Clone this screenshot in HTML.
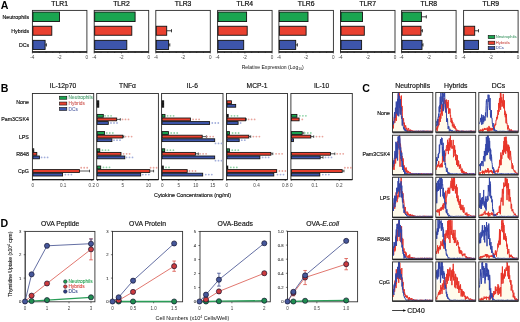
<!DOCTYPE html>
<html><head><meta charset="utf-8"><style>
html,body{margin:0;padding:0;background:#fff;}
body{width:520px;height:322px;overflow:hidden;}
svg{display:block;font-family:"Liberation Sans", sans-serif;will-change:transform;filter:blur(0.45px);}
</style></head><body>
<svg width="520" height="322" viewBox="0 0 520 322">
<rect width="520" height="322" fill="#fff"/>
<text x="0.80" y="8.80" font-size="10.6" text-anchor="start" fill="#000" font-weight="bold" >A</text>
<text x="0.80" y="91.60" font-size="10.6" text-anchor="start" fill="#000" font-weight="bold" >B</text>
<text x="362.30" y="91.70" font-size="10.6" text-anchor="start" fill="#000" font-weight="bold" >C</text>
<text x="0.50" y="227.00" font-size="10.6" text-anchor="start" fill="#000" font-weight="bold" >D</text>
<rect x="32.40" y="10.40" width="54.50" height="41.50" fill="#fff" stroke="#2a2a2a" stroke-width="0.9"/>
<rect x="32.90" y="12.05" width="26.60" height="9.50" fill="#1aa550" stroke="#111" stroke-width="0.9"/>
<rect x="32.90" y="26.25" width="18.90" height="9.00" fill="#ea4130" stroke="#111" stroke-width="0.9"/>
<line x1="45.10" y1="44.90" x2="46.40" y2="44.90" stroke="#111" stroke-width="0.8"/>
<line x1="46.40" y1="43.30" x2="46.40" y2="46.50" stroke="#111" stroke-width="0.8"/>
<rect x="32.90" y="40.35" width="12.20" height="9.10" fill="#3d55ab" stroke="#111" stroke-width="0.9"/>
<line x1="32.40" y1="51.90" x2="86.90" y2="51.90" stroke="#1a1a1a" stroke-width="1.5"/>
<line x1="32.40" y1="51.90" x2="32.40" y2="53.50" stroke="#1a1a1a" stroke-width="0.6"/>
<line x1="39.21" y1="51.90" x2="39.21" y2="52.90" stroke="#1a1a1a" stroke-width="0.6"/>
<line x1="46.02" y1="51.90" x2="46.02" y2="52.90" stroke="#1a1a1a" stroke-width="0.6"/>
<line x1="52.84" y1="51.90" x2="52.84" y2="52.90" stroke="#1a1a1a" stroke-width="0.6"/>
<line x1="59.65" y1="51.90" x2="59.65" y2="53.50" stroke="#1a1a1a" stroke-width="0.6"/>
<line x1="66.46" y1="51.90" x2="66.46" y2="52.90" stroke="#1a1a1a" stroke-width="0.6"/>
<line x1="73.28" y1="51.90" x2="73.28" y2="52.90" stroke="#1a1a1a" stroke-width="0.6"/>
<line x1="80.09" y1="51.90" x2="80.09" y2="52.90" stroke="#1a1a1a" stroke-width="0.6"/>
<line x1="86.90" y1="51.90" x2="86.90" y2="53.50" stroke="#1a1a1a" stroke-width="0.6"/>
<text x="59.65" y="6.30" font-size="6.8" text-anchor="middle" fill="#111" font-weight="normal" stroke="#111" stroke-width="0.22" >TLR1</text>
<text x="32.40" y="59.00" font-size="4.6" text-anchor="middle" fill="#444" font-weight="normal" >-4</text>
<text x="59.65" y="59.00" font-size="4.6" text-anchor="middle" fill="#444" font-weight="normal" >-2</text>
<text x="86.90" y="59.00" font-size="4.6" text-anchor="middle" fill="#444" font-weight="normal" >0</text>
<rect x="94.20" y="10.40" width="54.50" height="41.50" fill="#fff" stroke="#2a2a2a" stroke-width="0.9"/>
<rect x="94.70" y="12.05" width="40.40" height="9.50" fill="#1aa550" stroke="#111" stroke-width="0.9"/>
<rect x="94.70" y="26.25" width="37.10" height="9.00" fill="#ea4130" stroke="#111" stroke-width="0.9"/>
<rect x="94.70" y="40.35" width="32.10" height="9.10" fill="#3d55ab" stroke="#111" stroke-width="0.9"/>
<line x1="94.20" y1="51.90" x2="148.70" y2="51.90" stroke="#1a1a1a" stroke-width="1.5"/>
<line x1="94.20" y1="51.90" x2="94.20" y2="53.50" stroke="#1a1a1a" stroke-width="0.6"/>
<line x1="101.01" y1="51.90" x2="101.01" y2="52.90" stroke="#1a1a1a" stroke-width="0.6"/>
<line x1="107.83" y1="51.90" x2="107.83" y2="52.90" stroke="#1a1a1a" stroke-width="0.6"/>
<line x1="114.64" y1="51.90" x2="114.64" y2="52.90" stroke="#1a1a1a" stroke-width="0.6"/>
<line x1="121.45" y1="51.90" x2="121.45" y2="53.50" stroke="#1a1a1a" stroke-width="0.6"/>
<line x1="128.26" y1="51.90" x2="128.26" y2="52.90" stroke="#1a1a1a" stroke-width="0.6"/>
<line x1="135.07" y1="51.90" x2="135.07" y2="52.90" stroke="#1a1a1a" stroke-width="0.6"/>
<line x1="141.89" y1="51.90" x2="141.89" y2="52.90" stroke="#1a1a1a" stroke-width="0.6"/>
<line x1="148.70" y1="51.90" x2="148.70" y2="53.50" stroke="#1a1a1a" stroke-width="0.6"/>
<text x="121.45" y="6.30" font-size="6.8" text-anchor="middle" fill="#111" font-weight="normal" stroke="#111" stroke-width="0.22" >TLR2</text>
<text x="94.20" y="59.00" font-size="4.6" text-anchor="middle" fill="#444" font-weight="normal" >-4</text>
<text x="121.45" y="59.00" font-size="4.6" text-anchor="middle" fill="#444" font-weight="normal" >-2</text>
<text x="148.70" y="59.00" font-size="4.6" text-anchor="middle" fill="#444" font-weight="normal" >0</text>
<rect x="155.80" y="10.40" width="54.50" height="41.50" fill="#fff" stroke="#2a2a2a" stroke-width="0.9"/>
<line x1="166.70" y1="30.75" x2="171.50" y2="30.75" stroke="#111" stroke-width="0.8"/>
<line x1="171.50" y1="29.15" x2="171.50" y2="32.35" stroke="#111" stroke-width="0.8"/>
<rect x="156.30" y="26.25" width="10.40" height="9.00" fill="#ea4130" stroke="#111" stroke-width="0.9"/>
<line x1="168.60" y1="44.90" x2="169.80" y2="44.90" stroke="#111" stroke-width="0.8"/>
<line x1="169.80" y1="43.30" x2="169.80" y2="46.50" stroke="#111" stroke-width="0.8"/>
<rect x="156.30" y="40.35" width="12.30" height="9.10" fill="#3d55ab" stroke="#111" stroke-width="0.9"/>
<line x1="155.80" y1="51.90" x2="210.30" y2="51.90" stroke="#1a1a1a" stroke-width="1.5"/>
<line x1="155.80" y1="51.90" x2="155.80" y2="53.50" stroke="#1a1a1a" stroke-width="0.6"/>
<line x1="162.61" y1="51.90" x2="162.61" y2="52.90" stroke="#1a1a1a" stroke-width="0.6"/>
<line x1="169.43" y1="51.90" x2="169.43" y2="52.90" stroke="#1a1a1a" stroke-width="0.6"/>
<line x1="176.24" y1="51.90" x2="176.24" y2="52.90" stroke="#1a1a1a" stroke-width="0.6"/>
<line x1="183.05" y1="51.90" x2="183.05" y2="53.50" stroke="#1a1a1a" stroke-width="0.6"/>
<line x1="189.86" y1="51.90" x2="189.86" y2="52.90" stroke="#1a1a1a" stroke-width="0.6"/>
<line x1="196.68" y1="51.90" x2="196.68" y2="52.90" stroke="#1a1a1a" stroke-width="0.6"/>
<line x1="203.49" y1="51.90" x2="203.49" y2="52.90" stroke="#1a1a1a" stroke-width="0.6"/>
<line x1="210.30" y1="51.90" x2="210.30" y2="53.50" stroke="#1a1a1a" stroke-width="0.6"/>
<text x="183.05" y="6.30" font-size="6.8" text-anchor="middle" fill="#111" font-weight="normal" stroke="#111" stroke-width="0.22" >TLR3</text>
<text x="155.80" y="59.00" font-size="4.6" text-anchor="middle" fill="#444" font-weight="normal" >-4</text>
<text x="183.05" y="59.00" font-size="4.6" text-anchor="middle" fill="#444" font-weight="normal" >-2</text>
<text x="210.30" y="59.00" font-size="4.6" text-anchor="middle" fill="#444" font-weight="normal" >0</text>
<rect x="217.60" y="10.40" width="54.50" height="41.50" fill="#fff" stroke="#2a2a2a" stroke-width="0.9"/>
<rect x="218.10" y="12.05" width="28.50" height="9.50" fill="#1aa550" stroke="#111" stroke-width="0.9"/>
<rect x="218.10" y="26.25" width="29.10" height="9.00" fill="#ea4130" stroke="#111" stroke-width="0.9"/>
<rect x="218.10" y="40.35" width="25.60" height="9.10" fill="#3d55ab" stroke="#111" stroke-width="0.9"/>
<line x1="217.60" y1="51.90" x2="272.10" y2="51.90" stroke="#1a1a1a" stroke-width="1.5"/>
<line x1="217.60" y1="51.90" x2="217.60" y2="53.50" stroke="#1a1a1a" stroke-width="0.6"/>
<line x1="224.41" y1="51.90" x2="224.41" y2="52.90" stroke="#1a1a1a" stroke-width="0.6"/>
<line x1="231.22" y1="51.90" x2="231.22" y2="52.90" stroke="#1a1a1a" stroke-width="0.6"/>
<line x1="238.04" y1="51.90" x2="238.04" y2="52.90" stroke="#1a1a1a" stroke-width="0.6"/>
<line x1="244.85" y1="51.90" x2="244.85" y2="53.50" stroke="#1a1a1a" stroke-width="0.6"/>
<line x1="251.66" y1="51.90" x2="251.66" y2="52.90" stroke="#1a1a1a" stroke-width="0.6"/>
<line x1="258.48" y1="51.90" x2="258.48" y2="52.90" stroke="#1a1a1a" stroke-width="0.6"/>
<line x1="265.29" y1="51.90" x2="265.29" y2="52.90" stroke="#1a1a1a" stroke-width="0.6"/>
<line x1="272.10" y1="51.90" x2="272.10" y2="53.50" stroke="#1a1a1a" stroke-width="0.6"/>
<text x="244.85" y="6.30" font-size="6.8" text-anchor="middle" fill="#111" font-weight="normal" stroke="#111" stroke-width="0.22" >TLR4</text>
<text x="217.60" y="59.00" font-size="4.6" text-anchor="middle" fill="#444" font-weight="normal" >-4</text>
<text x="244.85" y="59.00" font-size="4.6" text-anchor="middle" fill="#444" font-weight="normal" >-2</text>
<text x="272.10" y="59.00" font-size="4.6" text-anchor="middle" fill="#444" font-weight="normal" >0</text>
<rect x="278.90" y="10.40" width="54.50" height="41.50" fill="#fff" stroke="#2a2a2a" stroke-width="0.9"/>
<rect x="279.40" y="12.05" width="28.60" height="9.50" fill="#1aa550" stroke="#111" stroke-width="0.9"/>
<rect x="279.40" y="26.25" width="26.70" height="9.00" fill="#ea4130" stroke="#111" stroke-width="0.9"/>
<line x1="295.70" y1="44.90" x2="297.40" y2="44.90" stroke="#111" stroke-width="0.8"/>
<line x1="297.40" y1="43.30" x2="297.40" y2="46.50" stroke="#111" stroke-width="0.8"/>
<rect x="279.40" y="40.35" width="16.30" height="9.10" fill="#3d55ab" stroke="#111" stroke-width="0.9"/>
<line x1="278.90" y1="51.90" x2="333.40" y2="51.90" stroke="#1a1a1a" stroke-width="1.5"/>
<line x1="278.90" y1="51.90" x2="278.90" y2="53.50" stroke="#1a1a1a" stroke-width="0.6"/>
<line x1="285.71" y1="51.90" x2="285.71" y2="52.90" stroke="#1a1a1a" stroke-width="0.6"/>
<line x1="292.52" y1="51.90" x2="292.52" y2="52.90" stroke="#1a1a1a" stroke-width="0.6"/>
<line x1="299.34" y1="51.90" x2="299.34" y2="52.90" stroke="#1a1a1a" stroke-width="0.6"/>
<line x1="306.15" y1="51.90" x2="306.15" y2="53.50" stroke="#1a1a1a" stroke-width="0.6"/>
<line x1="312.96" y1="51.90" x2="312.96" y2="52.90" stroke="#1a1a1a" stroke-width="0.6"/>
<line x1="319.77" y1="51.90" x2="319.77" y2="52.90" stroke="#1a1a1a" stroke-width="0.6"/>
<line x1="326.59" y1="51.90" x2="326.59" y2="52.90" stroke="#1a1a1a" stroke-width="0.6"/>
<line x1="333.40" y1="51.90" x2="333.40" y2="53.50" stroke="#1a1a1a" stroke-width="0.6"/>
<text x="306.15" y="6.30" font-size="6.8" text-anchor="middle" fill="#111" font-weight="normal" stroke="#111" stroke-width="0.22" >TLR6</text>
<text x="278.90" y="59.00" font-size="4.6" text-anchor="middle" fill="#444" font-weight="normal" >-4</text>
<text x="306.15" y="59.00" font-size="4.6" text-anchor="middle" fill="#444" font-weight="normal" >-2</text>
<text x="333.40" y="59.00" font-size="4.6" text-anchor="middle" fill="#444" font-weight="normal" >0</text>
<rect x="340.50" y="10.40" width="54.50" height="41.50" fill="#fff" stroke="#2a2a2a" stroke-width="0.9"/>
<rect x="341.00" y="12.05" width="21.50" height="9.50" fill="#1aa550" stroke="#111" stroke-width="0.9"/>
<rect x="341.00" y="26.25" width="23.30" height="9.00" fill="#ea4130" stroke="#111" stroke-width="0.9"/>
<rect x="341.00" y="40.35" width="20.60" height="9.10" fill="#3d55ab" stroke="#111" stroke-width="0.9"/>
<line x1="340.50" y1="51.90" x2="395.00" y2="51.90" stroke="#1a1a1a" stroke-width="1.5"/>
<line x1="340.50" y1="51.90" x2="340.50" y2="53.50" stroke="#1a1a1a" stroke-width="0.6"/>
<line x1="347.31" y1="51.90" x2="347.31" y2="52.90" stroke="#1a1a1a" stroke-width="0.6"/>
<line x1="354.12" y1="51.90" x2="354.12" y2="52.90" stroke="#1a1a1a" stroke-width="0.6"/>
<line x1="360.94" y1="51.90" x2="360.94" y2="52.90" stroke="#1a1a1a" stroke-width="0.6"/>
<line x1="367.75" y1="51.90" x2="367.75" y2="53.50" stroke="#1a1a1a" stroke-width="0.6"/>
<line x1="374.56" y1="51.90" x2="374.56" y2="52.90" stroke="#1a1a1a" stroke-width="0.6"/>
<line x1="381.38" y1="51.90" x2="381.38" y2="52.90" stroke="#1a1a1a" stroke-width="0.6"/>
<line x1="388.19" y1="51.90" x2="388.19" y2="52.90" stroke="#1a1a1a" stroke-width="0.6"/>
<line x1="395.00" y1="51.90" x2="395.00" y2="53.50" stroke="#1a1a1a" stroke-width="0.6"/>
<text x="367.75" y="6.30" font-size="6.8" text-anchor="middle" fill="#111" font-weight="normal" stroke="#111" stroke-width="0.22" >TLR7</text>
<text x="340.50" y="59.00" font-size="4.6" text-anchor="middle" fill="#444" font-weight="normal" >-4</text>
<text x="367.75" y="59.00" font-size="4.6" text-anchor="middle" fill="#444" font-weight="normal" >-2</text>
<text x="395.00" y="59.00" font-size="4.6" text-anchor="middle" fill="#444" font-weight="normal" >0</text>
<rect x="401.60" y="10.40" width="54.50" height="41.50" fill="#fff" stroke="#2a2a2a" stroke-width="0.9"/>
<line x1="421.40" y1="16.80" x2="426.30" y2="16.80" stroke="#111" stroke-width="0.8"/>
<line x1="426.30" y1="15.20" x2="426.30" y2="18.40" stroke="#111" stroke-width="0.8"/>
<rect x="402.10" y="12.05" width="19.30" height="9.50" fill="#1aa550" stroke="#111" stroke-width="0.9"/>
<line x1="421.00" y1="30.75" x2="422.40" y2="30.75" stroke="#111" stroke-width="0.8"/>
<line x1="422.40" y1="29.15" x2="422.40" y2="32.35" stroke="#111" stroke-width="0.8"/>
<rect x="402.10" y="26.25" width="18.90" height="9.00" fill="#ea4130" stroke="#111" stroke-width="0.9"/>
<line x1="422.00" y1="44.90" x2="423.00" y2="44.90" stroke="#111" stroke-width="0.8"/>
<line x1="423.00" y1="43.30" x2="423.00" y2="46.50" stroke="#111" stroke-width="0.8"/>
<rect x="402.10" y="40.35" width="19.90" height="9.10" fill="#3d55ab" stroke="#111" stroke-width="0.9"/>
<line x1="401.60" y1="51.90" x2="456.10" y2="51.90" stroke="#1a1a1a" stroke-width="1.5"/>
<line x1="401.60" y1="51.90" x2="401.60" y2="53.50" stroke="#1a1a1a" stroke-width="0.6"/>
<line x1="408.41" y1="51.90" x2="408.41" y2="52.90" stroke="#1a1a1a" stroke-width="0.6"/>
<line x1="415.23" y1="51.90" x2="415.23" y2="52.90" stroke="#1a1a1a" stroke-width="0.6"/>
<line x1="422.04" y1="51.90" x2="422.04" y2="52.90" stroke="#1a1a1a" stroke-width="0.6"/>
<line x1="428.85" y1="51.90" x2="428.85" y2="53.50" stroke="#1a1a1a" stroke-width="0.6"/>
<line x1="435.66" y1="51.90" x2="435.66" y2="52.90" stroke="#1a1a1a" stroke-width="0.6"/>
<line x1="442.48" y1="51.90" x2="442.48" y2="52.90" stroke="#1a1a1a" stroke-width="0.6"/>
<line x1="449.29" y1="51.90" x2="449.29" y2="52.90" stroke="#1a1a1a" stroke-width="0.6"/>
<line x1="456.10" y1="51.90" x2="456.10" y2="53.50" stroke="#1a1a1a" stroke-width="0.6"/>
<text x="428.85" y="6.30" font-size="6.8" text-anchor="middle" fill="#111" font-weight="normal" stroke="#111" stroke-width="0.22" >TLR8</text>
<text x="401.60" y="59.00" font-size="4.6" text-anchor="middle" fill="#444" font-weight="normal" >-4</text>
<text x="428.85" y="59.00" font-size="4.6" text-anchor="middle" fill="#444" font-weight="normal" >-2</text>
<text x="456.10" y="59.00" font-size="4.6" text-anchor="middle" fill="#444" font-weight="normal" >0</text>
<rect x="463.60" y="10.40" width="54.50" height="41.50" fill="#fff" stroke="#2a2a2a" stroke-width="0.9"/>
<line x1="474.70" y1="30.75" x2="478.50" y2="30.75" stroke="#111" stroke-width="0.8"/>
<line x1="478.50" y1="29.15" x2="478.50" y2="32.35" stroke="#111" stroke-width="0.8"/>
<rect x="464.10" y="26.25" width="10.60" height="9.00" fill="#ea4130" stroke="#111" stroke-width="0.9"/>
<rect x="464.10" y="40.35" width="14.40" height="9.10" fill="#3d55ab" stroke="#111" stroke-width="0.9"/>
<line x1="463.60" y1="51.90" x2="518.10" y2="51.90" stroke="#1a1a1a" stroke-width="1.5"/>
<line x1="463.60" y1="51.90" x2="463.60" y2="53.50" stroke="#1a1a1a" stroke-width="0.6"/>
<line x1="470.41" y1="51.90" x2="470.41" y2="52.90" stroke="#1a1a1a" stroke-width="0.6"/>
<line x1="477.23" y1="51.90" x2="477.23" y2="52.90" stroke="#1a1a1a" stroke-width="0.6"/>
<line x1="484.04" y1="51.90" x2="484.04" y2="52.90" stroke="#1a1a1a" stroke-width="0.6"/>
<line x1="490.85" y1="51.90" x2="490.85" y2="53.50" stroke="#1a1a1a" stroke-width="0.6"/>
<line x1="497.66" y1="51.90" x2="497.66" y2="52.90" stroke="#1a1a1a" stroke-width="0.6"/>
<line x1="504.48" y1="51.90" x2="504.48" y2="52.90" stroke="#1a1a1a" stroke-width="0.6"/>
<line x1="511.29" y1="51.90" x2="511.29" y2="52.90" stroke="#1a1a1a" stroke-width="0.6"/>
<line x1="518.10" y1="51.90" x2="518.10" y2="53.50" stroke="#1a1a1a" stroke-width="0.6"/>
<text x="490.85" y="6.30" font-size="6.8" text-anchor="middle" fill="#111" font-weight="normal" stroke="#111" stroke-width="0.22" >TLR9</text>
<text x="463.60" y="59.00" font-size="4.6" text-anchor="middle" fill="#444" font-weight="normal" >-4</text>
<text x="490.85" y="59.00" font-size="4.6" text-anchor="middle" fill="#444" font-weight="normal" >-2</text>
<text x="518.10" y="59.00" font-size="4.6" text-anchor="middle" fill="#444" font-weight="normal" >0</text>
<text x="29.20" y="18.70" font-size="5.3" text-anchor="end" fill="#111" font-weight="normal" stroke="#111" stroke-width="0.16" >Neutrophils</text>
<text x="29.20" y="32.70" font-size="5.3" text-anchor="end" fill="#111" font-weight="normal" stroke="#111" stroke-width="0.16" >Hybrids</text>
<text x="29.20" y="46.70" font-size="5.3" text-anchor="end" fill="#111" font-weight="normal" stroke="#111" stroke-width="0.16" >DCs</text>
<rect x="488.20" y="35.40" width="6.60" height="3.20" fill="#1aa550" stroke="#111" stroke-width="0.6"/>
<text x="495.80" y="38.20" font-size="4.1" text-anchor="start" fill="#4fa072" font-weight="normal" stroke="#4fa072" stroke-width="0.08" >Neutrophils</text>
<rect x="488.20" y="41.20" width="6.60" height="3.20" fill="#ea4130" stroke="#111" stroke-width="0.6"/>
<text x="495.80" y="44.00" font-size="4.1" text-anchor="start" fill="#d05a55" font-weight="normal" stroke="#d05a55" stroke-width="0.08" >Hybrids</text>
<rect x="488.20" y="46.50" width="6.60" height="3.20" fill="#3d55ab" stroke="#111" stroke-width="0.6"/>
<text x="495.80" y="49.30" font-size="4.1" text-anchor="start" fill="#5a68a8" font-weight="normal" stroke="#5a68a8" stroke-width="0.08" >DCs</text>
<text x="272.7" y="68.9" font-size="5.1" text-anchor="middle" fill="#111">Relative Expression (Log<tspan font-size="3.4" dy="1.2">10</tspan><tspan dy="-1.2">)</tspan></text>
<rect x="32.40" y="93.50" width="61.30" height="86.10" fill="#fff" stroke="#2a2a2a" stroke-width="0.9"/>
<rect x="32.90" y="148.80" width="0.90" height="2.80" fill="#111" stroke="#111" stroke-width="0.85"/>
<rect x="32.90" y="152.40" width="3.90" height="2.80" fill="#ea4130" stroke="#111" stroke-width="0.85"/>
<rect x="32.90" y="156.00" width="6.50" height="2.80" fill="#3d55ab" stroke="#111" stroke-width="0.85"/>
<circle cx="41.60" cy="157.40" r="0.9" fill="#a3afdc"/>
<circle cx="44.60" cy="157.40" r="0.9" fill="#a3afdc"/>
<circle cx="47.60" cy="157.40" r="0.9" fill="#a3afdc"/>
<line x1="79.50" y1="171.00" x2="89.50" y2="171.00" stroke="#111" stroke-width="0.7"/>
<line x1="89.50" y1="169.70" x2="89.50" y2="172.30" stroke="#111" stroke-width="0.7"/>
<rect x="32.90" y="169.60" width="46.60" height="2.80" fill="#ea4130" stroke="#111" stroke-width="0.85"/>
<circle cx="81.20" cy="167.76" r="0.9" fill="#e9a49c"/>
<circle cx="84.20" cy="167.76" r="0.9" fill="#e9a49c"/>
<circle cx="87.20" cy="167.76" r="0.9" fill="#e9a49c"/>
<rect x="32.90" y="173.20" width="29.70" height="2.80" fill="#3d55ab" stroke="#111" stroke-width="0.85"/>
<circle cx="65.40" cy="174.60" r="0.9" fill="#a3afdc"/>
<circle cx="68.40" cy="174.60" r="0.9" fill="#a3afdc"/>
<circle cx="71.40" cy="174.60" r="0.9" fill="#a3afdc"/>
<line x1="32.40" y1="179.60" x2="93.70" y2="179.60" stroke="#1a1a1a" stroke-width="1.3"/>
<line x1="32.80" y1="179.60" x2="32.80" y2="181.00" stroke="#1a1a1a" stroke-width="0.6"/>
<text x="32.80" y="187.10" font-size="4.6" text-anchor="middle" fill="#444" font-weight="normal" >0</text>
<line x1="63.20" y1="179.60" x2="63.20" y2="181.00" stroke="#1a1a1a" stroke-width="0.6"/>
<text x="63.20" y="187.10" font-size="4.6" text-anchor="middle" fill="#444" font-weight="normal" >0.1</text>
<line x1="91.80" y1="179.60" x2="91.80" y2="181.00" stroke="#1a1a1a" stroke-width="0.6"/>
<text x="91.80" y="187.10" font-size="4.6" text-anchor="middle" fill="#444" font-weight="normal" >0.2</text>
<text x="63.05" y="88.30" font-size="6.7" text-anchor="middle" fill="#111" font-weight="normal" stroke="#111" stroke-width="0.16" >IL-12p70</text>
<rect x="96.70" y="93.50" width="61.70" height="86.10" fill="#fff" stroke="#2a2a2a" stroke-width="0.9"/>
<rect x="97.20" y="100.80" width="1.60" height="2.80" fill="#111" stroke="#111" stroke-width="0.85"/>
<rect x="97.20" y="104.40" width="1.60" height="2.80" fill="#111" stroke="#111" stroke-width="0.85"/>
<rect x="97.20" y="114.40" width="6.10" height="2.80" fill="#1aa550" stroke="#111" stroke-width="0.85"/>
<circle cx="105.10" cy="115.80" r="0.9" fill="#8fd3a6"/>
<circle cx="108.10" cy="115.80" r="0.9" fill="#8fd3a6"/>
<circle cx="111.10" cy="115.80" r="0.9" fill="#8fd3a6"/>
<line x1="116.70" y1="119.40" x2="120.30" y2="119.40" stroke="#111" stroke-width="0.7"/>
<line x1="120.30" y1="118.10" x2="120.30" y2="120.70" stroke="#111" stroke-width="0.7"/>
<rect x="97.20" y="118.00" width="19.50" height="2.80" fill="#ea4130" stroke="#111" stroke-width="0.85"/>
<circle cx="122.50" cy="119.40" r="0.9" fill="#e9a49c"/>
<circle cx="125.50" cy="119.40" r="0.9" fill="#e9a49c"/>
<circle cx="128.50" cy="119.40" r="0.9" fill="#e9a49c"/>
<rect x="97.20" y="121.60" width="11.10" height="2.80" fill="#3d55ab" stroke="#111" stroke-width="0.85"/>
<circle cx="111.00" cy="123.00" r="0.9" fill="#a3afdc"/>
<circle cx="114.00" cy="123.00" r="0.9" fill="#a3afdc"/>
<circle cx="117.00" cy="123.00" r="0.9" fill="#a3afdc"/>
<rect x="97.20" y="131.60" width="7.40" height="2.80" fill="#1aa550" stroke="#111" stroke-width="0.85"/>
<circle cx="106.80" cy="133.00" r="0.9" fill="#8fd3a6"/>
<circle cx="109.80" cy="133.00" r="0.9" fill="#8fd3a6"/>
<circle cx="112.80" cy="133.00" r="0.9" fill="#8fd3a6"/>
<line x1="122.80" y1="136.60" x2="123.80" y2="136.60" stroke="#111" stroke-width="0.7"/>
<line x1="123.80" y1="135.30" x2="123.80" y2="137.90" stroke="#111" stroke-width="0.7"/>
<rect x="97.20" y="135.20" width="25.60" height="2.80" fill="#ea4130" stroke="#111" stroke-width="0.85"/>
<circle cx="125.60" cy="136.60" r="0.9" fill="#e9a49c"/>
<circle cx="128.60" cy="136.60" r="0.9" fill="#e9a49c"/>
<circle cx="131.60" cy="136.60" r="0.9" fill="#e9a49c"/>
<rect x="97.20" y="138.80" width="14.70" height="2.80" fill="#3d55ab" stroke="#111" stroke-width="0.85"/>
<circle cx="114.00" cy="140.20" r="0.9" fill="#a3afdc"/>
<circle cx="117.00" cy="140.20" r="0.9" fill="#a3afdc"/>
<circle cx="120.00" cy="140.20" r="0.9" fill="#a3afdc"/>
<rect x="97.20" y="148.80" width="2.60" height="2.80" fill="#1aa550" stroke="#111" stroke-width="0.85"/>
<circle cx="102.50" cy="150.20" r="0.9" fill="#8fd3a6"/>
<circle cx="105.50" cy="150.20" r="0.9" fill="#8fd3a6"/>
<circle cx="108.50" cy="150.20" r="0.9" fill="#8fd3a6"/>
<rect x="97.20" y="152.40" width="23.80" height="2.80" fill="#ea4130" stroke="#111" stroke-width="0.85"/>
<circle cx="123.60" cy="153.80" r="0.9" fill="#e9a49c"/>
<circle cx="126.60" cy="153.80" r="0.9" fill="#e9a49c"/>
<circle cx="129.60" cy="153.80" r="0.9" fill="#e9a49c"/>
<rect x="97.20" y="156.00" width="27.60" height="2.80" fill="#3d55ab" stroke="#111" stroke-width="0.85"/>
<circle cx="126.50" cy="157.40" r="0.9" fill="#a3afdc"/>
<circle cx="129.50" cy="157.40" r="0.9" fill="#a3afdc"/>
<circle cx="132.50" cy="157.40" r="0.9" fill="#a3afdc"/>
<rect x="97.20" y="166.00" width="3.50" height="2.80" fill="#1aa550" stroke="#111" stroke-width="0.85"/>
<circle cx="103.50" cy="167.40" r="0.9" fill="#8fd3a6"/>
<circle cx="106.50" cy="167.40" r="0.9" fill="#8fd3a6"/>
<circle cx="109.50" cy="167.40" r="0.9" fill="#8fd3a6"/>
<line x1="149.80" y1="171.00" x2="153.60" y2="171.00" stroke="#111" stroke-width="0.7"/>
<line x1="153.60" y1="169.70" x2="153.60" y2="172.30" stroke="#111" stroke-width="0.7"/>
<rect x="97.20" y="169.60" width="52.60" height="2.80" fill="#ea4130" stroke="#111" stroke-width="0.85"/>
<circle cx="150.60" cy="167.76" r="0.9" fill="#e9a49c"/>
<circle cx="153.60" cy="167.76" r="0.9" fill="#e9a49c"/>
<circle cx="156.60" cy="167.76" r="0.9" fill="#e9a49c"/>
<rect x="97.20" y="173.20" width="43.50" height="2.80" fill="#3d55ab" stroke="#111" stroke-width="0.85"/>
<circle cx="142.80" cy="174.60" r="0.9" fill="#a3afdc"/>
<circle cx="145.80" cy="174.60" r="0.9" fill="#a3afdc"/>
<circle cx="148.80" cy="174.60" r="0.9" fill="#a3afdc"/>
<line x1="96.70" y1="179.60" x2="158.40" y2="179.60" stroke="#1a1a1a" stroke-width="1.3"/>
<line x1="97.50" y1="179.60" x2="97.50" y2="181.00" stroke="#1a1a1a" stroke-width="0.6"/>
<text x="97.50" y="187.10" font-size="4.6" text-anchor="middle" fill="#444" font-weight="normal" >0</text>
<line x1="122.80" y1="179.60" x2="122.80" y2="181.00" stroke="#1a1a1a" stroke-width="0.6"/>
<text x="122.80" y="187.10" font-size="4.6" text-anchor="middle" fill="#444" font-weight="normal" >5</text>
<line x1="148.40" y1="179.60" x2="148.40" y2="181.00" stroke="#1a1a1a" stroke-width="0.6"/>
<text x="148.40" y="187.10" font-size="4.6" text-anchor="middle" fill="#444" font-weight="normal" >10</text>
<text x="127.55" y="88.30" font-size="6.7" text-anchor="middle" fill="#111" font-weight="normal" stroke="#111" stroke-width="0.16" >TNF&#945;</text>
<rect x="161.60" y="93.50" width="61.40" height="86.10" fill="#fff" stroke="#2a2a2a" stroke-width="0.9"/>
<rect x="162.10" y="100.80" width="1.60" height="2.80" fill="#111" stroke="#111" stroke-width="0.85"/>
<rect x="162.10" y="104.40" width="1.60" height="2.80" fill="#111" stroke="#111" stroke-width="0.85"/>
<rect x="162.10" y="114.40" width="2.90" height="2.80" fill="#1aa550" stroke="#111" stroke-width="0.85"/>
<circle cx="167.60" cy="115.80" r="0.9" fill="#8fd3a6"/>
<circle cx="170.60" cy="115.80" r="0.9" fill="#8fd3a6"/>
<circle cx="173.60" cy="115.80" r="0.9" fill="#8fd3a6"/>
<rect x="162.10" y="118.00" width="28.30" height="2.80" fill="#ea4130" stroke="#111" stroke-width="0.85"/>
<circle cx="193.10" cy="119.40" r="0.9" fill="#e9a49c"/>
<circle cx="196.10" cy="119.40" r="0.9" fill="#e9a49c"/>
<circle cx="199.10" cy="119.40" r="0.9" fill="#e9a49c"/>
<rect x="162.10" y="121.60" width="47.50" height="2.80" fill="#3d55ab" stroke="#111" stroke-width="0.85"/>
<circle cx="212.30" cy="123.00" r="0.9" fill="#a3afdc"/>
<circle cx="215.30" cy="123.00" r="0.9" fill="#a3afdc"/>
<circle cx="218.30" cy="123.00" r="0.9" fill="#a3afdc"/>
<rect x="162.10" y="131.60" width="6.40" height="2.80" fill="#1aa550" stroke="#111" stroke-width="0.85"/>
<circle cx="171.20" cy="133.00" r="0.9" fill="#8fd3a6"/>
<circle cx="174.20" cy="133.00" r="0.9" fill="#8fd3a6"/>
<circle cx="177.20" cy="133.00" r="0.9" fill="#8fd3a6"/>
<line x1="202.20" y1="136.60" x2="206.40" y2="136.60" stroke="#111" stroke-width="0.7"/>
<line x1="206.40" y1="135.30" x2="206.40" y2="137.90" stroke="#111" stroke-width="0.7"/>
<rect x="162.10" y="135.20" width="40.10" height="2.80" fill="#ea4130" stroke="#111" stroke-width="0.85"/>
<circle cx="207.20" cy="136.60" r="0.9" fill="#e9a49c"/>
<circle cx="210.20" cy="136.60" r="0.9" fill="#e9a49c"/>
<circle cx="213.20" cy="136.60" r="0.9" fill="#e9a49c"/>
<rect x="162.10" y="138.80" width="52.60" height="2.80" fill="#3d55ab" stroke="#111" stroke-width="0.85"/>
<circle cx="215.50" cy="143.44" r="0.9" fill="#a3afdc"/>
<circle cx="218.50" cy="143.44" r="0.9" fill="#a3afdc"/>
<circle cx="221.50" cy="143.44" r="0.9" fill="#a3afdc"/>
<rect x="162.10" y="148.80" width="2.60" height="2.80" fill="#1aa550" stroke="#111" stroke-width="0.85"/>
<circle cx="167.40" cy="150.20" r="0.9" fill="#8fd3a6"/>
<circle cx="170.40" cy="150.20" r="0.9" fill="#8fd3a6"/>
<circle cx="173.40" cy="150.20" r="0.9" fill="#8fd3a6"/>
<line x1="195.40" y1="153.80" x2="198.30" y2="153.80" stroke="#111" stroke-width="0.7"/>
<line x1="198.30" y1="152.50" x2="198.30" y2="155.10" stroke="#111" stroke-width="0.7"/>
<rect x="162.10" y="152.40" width="33.30" height="2.80" fill="#ea4130" stroke="#111" stroke-width="0.85"/>
<circle cx="200.10" cy="153.80" r="0.9" fill="#e9a49c"/>
<circle cx="203.10" cy="153.80" r="0.9" fill="#e9a49c"/>
<circle cx="206.10" cy="153.80" r="0.9" fill="#e9a49c"/>
<rect x="162.10" y="156.00" width="52.60" height="2.80" fill="#3d55ab" stroke="#111" stroke-width="0.85"/>
<circle cx="215.50" cy="160.64" r="0.9" fill="#a3afdc"/>
<circle cx="218.50" cy="160.64" r="0.9" fill="#a3afdc"/>
<circle cx="221.50" cy="160.64" r="0.9" fill="#a3afdc"/>
<rect x="162.10" y="166.00" width="1.20" height="2.80" fill="#111" stroke="#111" stroke-width="0.85"/>
<circle cx="166.00" cy="167.40" r="0.9" fill="#8fd3a6"/>
<circle cx="169.00" cy="167.40" r="0.9" fill="#8fd3a6"/>
<rect x="162.10" y="169.60" width="25.10" height="2.80" fill="#ea4130" stroke="#111" stroke-width="0.85"/>
<circle cx="189.50" cy="171.00" r="0.9" fill="#e9a49c"/>
<circle cx="192.50" cy="171.00" r="0.9" fill="#e9a49c"/>
<circle cx="195.50" cy="171.00" r="0.9" fill="#e9a49c"/>
<rect x="162.10" y="173.20" width="40.60" height="2.80" fill="#3d55ab" stroke="#111" stroke-width="0.85"/>
<circle cx="205.80" cy="174.60" r="0.9" fill="#a3afdc"/>
<circle cx="208.80" cy="174.60" r="0.9" fill="#a3afdc"/>
<circle cx="211.80" cy="174.60" r="0.9" fill="#a3afdc"/>
<line x1="161.60" y1="179.60" x2="223.00" y2="179.60" stroke="#1a1a1a" stroke-width="1.3"/>
<line x1="162.30" y1="179.60" x2="162.30" y2="181.00" stroke="#1a1a1a" stroke-width="0.6"/>
<text x="162.30" y="187.10" font-size="4.6" text-anchor="middle" fill="#444" font-weight="normal" >0</text>
<line x1="178.70" y1="179.60" x2="178.70" y2="181.00" stroke="#1a1a1a" stroke-width="0.6"/>
<text x="178.70" y="187.10" font-size="4.6" text-anchor="middle" fill="#444" font-weight="normal" >5</text>
<line x1="195.80" y1="179.60" x2="195.80" y2="181.00" stroke="#1a1a1a" stroke-width="0.6"/>
<text x="195.80" y="187.10" font-size="4.6" text-anchor="middle" fill="#444" font-weight="normal" >10</text>
<line x1="212.70" y1="179.60" x2="212.70" y2="181.00" stroke="#1a1a1a" stroke-width="0.6"/>
<text x="212.70" y="187.10" font-size="4.6" text-anchor="middle" fill="#444" font-weight="normal" >15</text>
<text x="192.30" y="88.30" font-size="6.7" text-anchor="middle" fill="#111" font-weight="normal" stroke="#111" stroke-width="0.16" >IL-6</text>
<rect x="226.50" y="93.50" width="61.00" height="86.10" fill="#fff" stroke="#2a2a2a" stroke-width="0.9"/>
<rect x="227.00" y="100.80" width="4.40" height="2.80" fill="#ea4130" stroke="#111" stroke-width="0.85"/>
<rect x="227.00" y="104.40" width="8.70" height="2.80" fill="#3d55ab" stroke="#111" stroke-width="0.85"/>
<rect x="227.00" y="114.40" width="1.20" height="2.80" fill="#111" stroke="#111" stroke-width="0.85"/>
<circle cx="231.50" cy="115.80" r="0.9" fill="#8fd3a6"/>
<circle cx="234.50" cy="115.80" r="0.9" fill="#8fd3a6"/>
<circle cx="237.50" cy="115.80" r="0.9" fill="#8fd3a6"/>
<line x1="245.60" y1="119.40" x2="246.30" y2="119.40" stroke="#111" stroke-width="0.7"/>
<line x1="246.30" y1="118.10" x2="246.30" y2="120.70" stroke="#111" stroke-width="0.7"/>
<rect x="227.00" y="118.00" width="18.60" height="2.80" fill="#ea4130" stroke="#111" stroke-width="0.85"/>
<circle cx="248.60" cy="119.40" r="0.9" fill="#e9a49c"/>
<circle cx="251.60" cy="119.40" r="0.9" fill="#e9a49c"/>
<circle cx="254.60" cy="119.40" r="0.9" fill="#e9a49c"/>
<rect x="227.00" y="121.60" width="11.10" height="2.80" fill="#3d55ab" stroke="#111" stroke-width="0.85"/>
<circle cx="240.60" cy="123.00" r="0.9" fill="#a3afdc"/>
<rect x="227.00" y="131.60" width="2.50" height="2.80" fill="#1aa550" stroke="#111" stroke-width="0.85"/>
<circle cx="232.60" cy="133.00" r="0.9" fill="#8fd3a6"/>
<circle cx="235.60" cy="133.00" r="0.9" fill="#8fd3a6"/>
<circle cx="238.60" cy="133.00" r="0.9" fill="#8fd3a6"/>
<line x1="248.80" y1="136.60" x2="250.70" y2="136.60" stroke="#111" stroke-width="0.7"/>
<line x1="250.70" y1="135.30" x2="250.70" y2="137.90" stroke="#111" stroke-width="0.7"/>
<rect x="227.00" y="135.20" width="21.80" height="2.80" fill="#ea4130" stroke="#111" stroke-width="0.85"/>
<circle cx="253.40" cy="136.60" r="0.9" fill="#e9a49c"/>
<circle cx="256.40" cy="136.60" r="0.9" fill="#e9a49c"/>
<circle cx="259.40" cy="136.60" r="0.9" fill="#e9a49c"/>
<rect x="227.00" y="138.80" width="12.20" height="2.80" fill="#3d55ab" stroke="#111" stroke-width="0.85"/>
<circle cx="241.80" cy="140.20" r="0.9" fill="#a3afdc"/>
<circle cx="244.80" cy="140.20" r="0.9" fill="#a3afdc"/>
<rect x="227.00" y="148.80" width="2.50" height="2.80" fill="#1aa550" stroke="#111" stroke-width="0.85"/>
<circle cx="232.30" cy="150.20" r="0.9" fill="#8fd3a6"/>
<circle cx="235.30" cy="150.20" r="0.9" fill="#8fd3a6"/>
<circle cx="238.30" cy="150.20" r="0.9" fill="#8fd3a6"/>
<line x1="270.90" y1="153.80" x2="272.80" y2="153.80" stroke="#111" stroke-width="0.7"/>
<line x1="272.80" y1="152.50" x2="272.80" y2="155.10" stroke="#111" stroke-width="0.7"/>
<rect x="227.00" y="152.40" width="43.90" height="2.80" fill="#ea4130" stroke="#111" stroke-width="0.85"/>
<circle cx="276.10" cy="153.80" r="0.9" fill="#e9a49c"/>
<circle cx="279.10" cy="153.80" r="0.9" fill="#e9a49c"/>
<circle cx="282.10" cy="153.80" r="0.9" fill="#e9a49c"/>
<rect x="227.00" y="156.00" width="32.90" height="2.80" fill="#3d55ab" stroke="#111" stroke-width="0.85"/>
<circle cx="262.60" cy="157.40" r="0.9" fill="#a3afdc"/>
<circle cx="265.60" cy="157.40" r="0.9" fill="#a3afdc"/>
<circle cx="268.60" cy="157.40" r="0.9" fill="#a3afdc"/>
<rect x="227.00" y="166.00" width="0.80" height="2.80" fill="#111" stroke="#111" stroke-width="0.85"/>
<circle cx="230.80" cy="167.40" r="0.9" fill="#8fd3a6"/>
<circle cx="233.80" cy="167.40" r="0.9" fill="#8fd3a6"/>
<circle cx="236.80" cy="167.40" r="0.9" fill="#8fd3a6"/>
<rect x="227.00" y="169.60" width="49.70" height="2.80" fill="#ea4130" stroke="#111" stroke-width="0.85"/>
<circle cx="279.40" cy="171.00" r="0.9" fill="#e9a49c"/>
<circle cx="282.40" cy="171.00" r="0.9" fill="#e9a49c"/>
<circle cx="285.40" cy="171.00" r="0.9" fill="#e9a49c"/>
<rect x="227.00" y="173.20" width="46.80" height="2.80" fill="#3d55ab" stroke="#111" stroke-width="0.85"/>
<circle cx="277.50" cy="174.60" r="0.9" fill="#a3afdc"/>
<circle cx="280.50" cy="174.60" r="0.9" fill="#a3afdc"/>
<circle cx="283.50" cy="174.60" r="0.9" fill="#a3afdc"/>
<line x1="226.50" y1="179.60" x2="287.50" y2="179.60" stroke="#1a1a1a" stroke-width="1.3"/>
<line x1="226.70" y1="179.60" x2="226.70" y2="181.00" stroke="#1a1a1a" stroke-width="0.6"/>
<text x="226.70" y="187.10" font-size="4.6" text-anchor="middle" fill="#444" font-weight="normal" >0</text>
<line x1="256.50" y1="179.60" x2="256.50" y2="181.00" stroke="#1a1a1a" stroke-width="0.6"/>
<text x="256.50" y="187.10" font-size="4.6" text-anchor="middle" fill="#444" font-weight="normal" >0.4</text>
<line x1="285.30" y1="179.60" x2="285.30" y2="181.00" stroke="#1a1a1a" stroke-width="0.6"/>
<text x="285.30" y="187.10" font-size="4.6" text-anchor="middle" fill="#444" font-weight="normal" >0.8</text>
<text x="257.00" y="88.30" font-size="6.7" text-anchor="middle" fill="#111" font-weight="normal" stroke="#111" stroke-width="0.16" >MCP-1</text>
<rect x="290.90" y="93.50" width="61.40" height="86.10" fill="#fff" stroke="#2a2a2a" stroke-width="0.9"/>
<rect x="291.40" y="114.40" width="5.50" height="2.80" fill="#1aa550" stroke="#111" stroke-width="0.85"/>
<circle cx="299.90" cy="115.80" r="0.9" fill="#8fd3a6"/>
<circle cx="302.90" cy="115.80" r="0.9" fill="#8fd3a6"/>
<circle cx="305.90" cy="115.80" r="0.9" fill="#8fd3a6"/>
<rect x="291.40" y="118.00" width="7.70" height="2.80" fill="#ea4130" stroke="#111" stroke-width="0.85"/>
<circle cx="302.30" cy="119.40" r="0.9" fill="#e9a49c"/>
<line x1="302.20" y1="133.00" x2="304.00" y2="133.00" stroke="#111" stroke-width="0.7"/>
<line x1="304.00" y1="131.70" x2="304.00" y2="134.30" stroke="#111" stroke-width="0.7"/>
<rect x="291.40" y="131.60" width="10.80" height="2.80" fill="#1aa550" stroke="#111" stroke-width="0.85"/>
<circle cx="304.80" cy="133.00" r="0.9" fill="#8fd3a6"/>
<circle cx="307.80" cy="133.00" r="0.9" fill="#8fd3a6"/>
<circle cx="310.80" cy="133.00" r="0.9" fill="#8fd3a6"/>
<line x1="310.80" y1="136.60" x2="313.70" y2="136.60" stroke="#111" stroke-width="0.7"/>
<line x1="313.70" y1="135.30" x2="313.70" y2="137.90" stroke="#111" stroke-width="0.7"/>
<rect x="291.40" y="135.20" width="19.40" height="2.80" fill="#ea4130" stroke="#111" stroke-width="0.85"/>
<circle cx="316.50" cy="136.60" r="0.9" fill="#e9a49c"/>
<circle cx="319.50" cy="136.60" r="0.9" fill="#e9a49c"/>
<circle cx="322.50" cy="136.60" r="0.9" fill="#e9a49c"/>
<rect x="291.40" y="138.80" width="2.10" height="2.80" fill="#3d55ab" stroke="#111" stroke-width="0.85"/>
<line x1="330.50" y1="153.80" x2="334.80" y2="153.80" stroke="#111" stroke-width="0.7"/>
<line x1="334.80" y1="152.50" x2="334.80" y2="155.10" stroke="#111" stroke-width="0.7"/>
<rect x="291.40" y="152.40" width="39.10" height="2.80" fill="#ea4130" stroke="#111" stroke-width="0.85"/>
<circle cx="337.20" cy="153.80" r="0.9" fill="#e9a49c"/>
<circle cx="340.20" cy="153.80" r="0.9" fill="#e9a49c"/>
<circle cx="343.20" cy="153.80" r="0.9" fill="#e9a49c"/>
<line x1="320.20" y1="157.40" x2="323.00" y2="157.40" stroke="#111" stroke-width="0.7"/>
<line x1="323.00" y1="156.10" x2="323.00" y2="158.70" stroke="#111" stroke-width="0.7"/>
<rect x="291.40" y="156.00" width="28.80" height="2.80" fill="#3d55ab" stroke="#111" stroke-width="0.85"/>
<circle cx="325.50" cy="157.40" r="0.9" fill="#a3afdc"/>
<circle cx="328.50" cy="157.40" r="0.9" fill="#a3afdc"/>
<circle cx="331.50" cy="157.40" r="0.9" fill="#a3afdc"/>
<line x1="342.20" y1="171.00" x2="344.00" y2="171.00" stroke="#111" stroke-width="0.7"/>
<line x1="344.00" y1="169.70" x2="344.00" y2="172.30" stroke="#111" stroke-width="0.7"/>
<rect x="291.40" y="169.60" width="50.80" height="2.80" fill="#ea4130" stroke="#111" stroke-width="0.85"/>
<circle cx="344.90" cy="167.76" r="0.9" fill="#e9a49c"/>
<circle cx="347.90" cy="167.76" r="0.9" fill="#e9a49c"/>
<circle cx="350.90" cy="167.76" r="0.9" fill="#e9a49c"/>
<rect x="291.40" y="173.20" width="28.40" height="2.80" fill="#3d55ab" stroke="#111" stroke-width="0.85"/>
<circle cx="322.80" cy="174.60" r="0.9" fill="#a3afdc"/>
<circle cx="325.80" cy="174.60" r="0.9" fill="#a3afdc"/>
<circle cx="328.80" cy="174.60" r="0.9" fill="#a3afdc"/>
<line x1="290.90" y1="179.60" x2="352.30" y2="179.60" stroke="#1a1a1a" stroke-width="1.3"/>
<line x1="291.20" y1="179.60" x2="291.20" y2="181.00" stroke="#1a1a1a" stroke-width="0.6"/>
<text x="291.20" y="187.10" font-size="4.6" text-anchor="middle" fill="#444" font-weight="normal" >0</text>
<line x1="314.70" y1="179.60" x2="314.70" y2="181.00" stroke="#1a1a1a" stroke-width="0.6"/>
<text x="314.70" y="187.10" font-size="4.6" text-anchor="middle" fill="#444" font-weight="normal" >0.1</text>
<line x1="339.30" y1="179.60" x2="339.30" y2="181.00" stroke="#1a1a1a" stroke-width="0.6"/>
<text x="339.30" y="187.10" font-size="4.6" text-anchor="middle" fill="#444" font-weight="normal" >0.2</text>
<text x="321.60" y="88.30" font-size="6.7" text-anchor="middle" fill="#111" font-weight="normal" stroke="#111" stroke-width="0.16" >IL-10</text>
<text x="28.90" y="104.10" font-size="5.3" text-anchor="end" fill="#111" font-weight="normal" stroke="#111" stroke-width="0.16" >None</text>
<text x="28.90" y="121.30" font-size="5.3" text-anchor="end" fill="#111" font-weight="normal" stroke="#111" stroke-width="0.16" >Pam3CSK4</text>
<text x="28.90" y="138.50" font-size="5.3" text-anchor="end" fill="#111" font-weight="normal" stroke="#111" stroke-width="0.16" >LPS</text>
<text x="28.90" y="155.70" font-size="5.3" text-anchor="end" fill="#111" font-weight="normal" stroke="#111" stroke-width="0.16" >R848</text>
<text x="28.90" y="172.90" font-size="5.3" text-anchor="end" fill="#111" font-weight="normal" stroke="#111" stroke-width="0.16" >CpG</text>
<rect x="59.50" y="96.25" width="7.30" height="3.00" fill="#1aa550" stroke="#111" stroke-width="0.6"/>
<text x="68.60" y="99.30" font-size="4.8" text-anchor="start" fill="#4fa072" font-weight="normal" stroke="#4fa072" stroke-width="0.08" >Neutrophils</text>
<rect x="59.50" y="102.05" width="7.30" height="3.00" fill="#ea4130" stroke="#111" stroke-width="0.6"/>
<text x="68.60" y="105.10" font-size="4.8" text-anchor="start" fill="#d05a55" font-weight="normal" stroke="#d05a55" stroke-width="0.08" >Hybrids</text>
<rect x="59.50" y="107.45" width="7.30" height="3.00" fill="#3d55ab" stroke="#111" stroke-width="0.6"/>
<text x="68.60" y="110.50" font-size="4.8" text-anchor="start" fill="#5a68a8" font-weight="normal" stroke="#5a68a8" stroke-width="0.08" >DCs</text>
<text x="192.50" y="196.80" font-size="5.4" text-anchor="middle" fill="#111" font-weight="normal" stroke="#111" stroke-width="0.16" >Cytokine Concentrations (ng/ml)</text>
<rect x="392.50" y="92.50" width="40.30" height="39.70" fill="#fff"/>
<polygon points="393.00,131.40 393.00,126.40 393.22,125.83 393.44,125.21 393.66,124.55 393.88,123.85 394.10,123.12 394.32,122.35 394.54,121.55 394.76,120.72 394.98,119.87 395.20,119.00 395.42,118.12 395.64,117.24 395.86,116.36 396.08,115.49 396.30,114.64 396.52,113.81 396.74,113.02 396.96,112.28 397.18,111.58 397.40,110.94 397.62,110.37 397.84,109.86 398.06,109.44 398.28,109.10 398.50,108.85 398.72,108.68 398.94,108.61 399.16,108.66 399.38,108.92 399.60,109.37 399.82,110.02 400.04,110.40 400.26,110.92 400.48,111.58 400.70,112.35 400.92,113.22 401.14,114.18 401.36,115.20 401.58,116.26 401.80,117.35 402.02,118.44 402.24,119.51 402.46,120.56 402.68,121.57 402.90,122.52 403.12,123.40 403.34,124.22 403.56,124.97 403.78,125.64 404.00,126.23 404.22,126.76 404.44,127.21 404.66,127.61 404.88,127.95 405.10,128.25 405.32,128.50 405.54,128.73 405.76,128.92 405.98,129.10 406.20,129.26 406.42,129.39 406.64,129.51 406.86,129.62 407.08,129.72 407.30,129.80 407.52,129.89 407.74,129.96 407.96,130.04 408.18,130.11 408.40,130.18 408.62,130.25 408.84,130.32 409.06,130.39 409.28,130.45 409.50,130.52 409.72,130.58 409.94,130.65 410.16,130.71 410.38,130.77 410.60,130.82 410.82,130.88 411.04,130.93 411.26,130.97 411.48,131.02 411.70,131.06 411.92,131.10 412.14,131.13 412.36,131.16 412.58,131.19 412.80,131.22 413.02,131.24 413.24,131.27 413.46,131.28 413.68,131.30 413.90,131.32 414.12,131.33 414.34,131.34 414.56,131.35 414.78,131.36 415.00,131.36 415.22,131.37 415.44,131.38 415.66,131.38 415.88,131.38 416.10,131.39 416.32,131.39 416.54,131.39 416.76,131.39 416.98,131.39 417.20,131.40 417.42,131.40 417.64,131.40 417.86,131.40 418.08,131.40 418.30,131.40 418.52,131.40 418.74,131.40 418.96,131.40 419.18,131.40 419.40,131.40 419.62,131.40 419.84,131.40 420.06,131.40 420.28,131.40 420.50,131.40 420.72,131.40 420.94,131.40 421.16,131.40 421.38,131.40 421.60,131.40 421.82,131.40 422.04,131.40 422.26,131.40 422.48,131.40 422.70,131.40 422.92,131.40 423.14,131.40 423.36,131.40 423.58,131.40 423.80,131.40 424.02,131.40 424.24,131.40 424.46,131.40 424.68,131.40 424.90,131.40 425.12,131.40 425.34,131.40 425.56,131.40 425.78,131.40 426.00,131.40 426.22,131.40 426.44,131.40 426.66,131.40 426.88,131.40 427.10,131.40 427.32,131.40 427.54,131.40 427.76,131.40 427.98,131.40 428.20,131.40 428.42,131.40 428.64,131.40 428.86,131.40 429.08,131.40 429.30,131.40 429.52,131.40 429.74,131.40 429.96,131.40 430.18,131.40 430.40,131.40 430.62,131.40 430.84,131.40 431.06,131.40 431.28,131.40 431.50,131.40 431.72,131.40 431.94,131.40 432.16,131.40 432.38,131.40 432.38,131.40" fill="#fffbeb"/>
<polyline points="393.00,126.53 393.22,125.08 393.44,128.40 393.66,121.79 393.88,122.65 394.10,120.99 394.32,116.93 394.54,120.54 394.76,122.86 394.98,122.48 395.20,119.37 395.42,116.22 395.64,114.46 395.86,120.26 396.08,109.12 396.30,120.88 396.52,107.01 396.74,107.80 396.96,107.19 397.18,104.45 397.40,109.71 397.62,107.51 397.84,106.82 398.06,100.84 398.28,93.83 398.50,101.05 398.72,93.18 398.94,92.90 399.16,97.88 399.38,93.33 399.60,108.16 399.82,96.37 400.04,102.95 400.26,113.34 400.48,102.97 400.70,110.66 400.92,114.60 401.14,110.36 401.36,95.56 401.58,111.17 401.80,111.10 402.02,105.92 402.24,107.88 402.46,119.15 402.68,118.43 402.90,118.85 403.12,120.49 403.34,120.16 403.56,118.32 403.78,124.24 404.00,122.58 404.22,126.25 404.44,122.87 404.66,128.31 404.88,126.76 405.10,126.77 405.32,125.49 405.54,126.74 405.76,125.62 405.98,130.56 406.20,127.76 406.42,128.19 406.64,129.01 406.86,127.89 407.08,130.48 407.30,131.25 407.52,129.64 407.74,131.12 407.96,130.68 408.18,129.14 408.40,129.10 408.62,127.98 408.84,129.61 409.06,131.09 409.28,130.24 409.50,131.18 409.72,131.12 409.94,129.69 410.16,130.66 410.38,131.34 410.60,129.75 410.82,130.29 411.04,130.48 411.26,130.53 411.48,130.32 411.70,130.86 411.92,130.08 412.14,130.71 412.36,130.89 412.58,130.81 412.80,131.39 413.02,131.10 413.24,131.23 413.46,131.10 413.68,131.40 413.90,130.66 414.12,131.02 414.34,131.40 414.56,131.40 414.78,131.20 415.00,131.28 415.22,131.36 415.44,131.25 415.66,130.95 415.88,131.22 416.10,131.01 416.32,131.15 416.54,131.15 416.76,131.11 416.98,131.35 417.20,131.40 417.42,131.40 417.64,131.29 417.86,130.99 418.08,131.36 418.30,130.84 418.52,131.33 418.74,131.24 418.96,131.23 419.18,131.38 419.40,131.35 419.62,131.05 419.84,130.96 420.06,131.14 420.28,130.91 420.50,131.16 420.72,131.00 420.94,131.13 421.16,131.24 421.38,131.06 421.60,131.32 421.82,131.32 422.04,131.39 422.26,131.26 422.48,130.96 422.70,131.35 422.92,131.37 423.14,131.16 423.36,131.25 423.58,131.34 423.80,131.19 424.02,131.39 424.24,130.96 424.46,130.90 424.68,131.33 424.90,131.18 425.12,131.31 425.34,131.20 425.56,131.33 425.78,131.06 426.00,131.37 426.22,130.79 426.44,131.11 426.66,131.12 426.88,131.18 427.10,131.30 427.32,131.15 427.54,131.19 427.76,131.23 427.98,131.18 428.20,131.18 428.42,131.31 428.64,131.12 428.86,131.01 429.08,131.23 429.30,130.84 429.52,131.21 429.74,131.24 429.96,131.28 430.18,130.93 430.40,131.11 430.62,131.11 430.84,131.18 431.06,131.11 431.28,131.21 431.50,131.16 431.72,131.37 431.94,131.00 432.16,131.03 432.38,130.80" fill="none" stroke="#e8352a" stroke-width="1.0" stroke-linejoin="miter"/>
<polyline points="393.00,124.96 393.22,123.59 393.44,121.48 393.66,123.65 393.88,121.33 394.10,121.29 394.32,114.89 394.54,112.16 394.76,116.08 394.98,117.99 395.20,116.33 395.42,108.03 395.64,107.69 395.86,113.40 396.08,106.81 396.30,101.55 396.52,108.71 396.74,103.57 396.96,113.76 397.18,103.27 397.40,115.46 397.62,98.89 397.84,104.93 398.06,94.96 398.28,92.90 398.50,93.98 398.72,116.31 398.94,108.28 399.16,95.78 399.38,102.69 399.60,107.59 399.82,99.85 400.04,112.53 400.26,114.47 400.48,99.33 400.70,109.64 400.92,109.34 401.14,106.95 401.36,116.20 401.58,118.60 401.80,116.06 402.02,119.97 402.24,125.62 402.46,119.41 402.68,120.50 402.90,124.52 403.12,125.53 403.34,126.72 403.56,128.71 403.78,127.20 404.00,127.41 404.22,130.12 404.44,128.72 404.66,129.30 404.88,128.57 405.10,131.01 405.32,129.50 405.54,130.78 405.76,130.48 405.98,131.40 406.20,131.27 406.42,130.60 406.64,131.19 406.86,131.06 407.08,131.08 407.30,130.91 407.52,131.28 407.74,131.35 407.96,131.32 408.18,131.40 408.40,131.40 408.62,131.29 408.84,131.14 409.06,131.32 409.28,131.17 409.50,131.10 409.72,131.37 409.94,131.18 410.16,131.02 410.38,131.40 410.60,131.24 410.82,131.15 411.04,131.18 411.26,131.27 411.48,131.03 411.70,131.20 411.92,131.30 412.14,131.34 412.36,131.21 412.58,131.25 412.80,131.36 413.02,131.25 413.24,131.39 413.46,131.13 413.68,131.37 413.90,131.39 414.12,131.16 414.34,131.17 414.56,131.39 414.78,130.97 415.00,131.24 415.22,131.13 415.44,130.95 415.66,131.39 415.88,131.12 416.10,131.02 416.32,131.13 416.54,131.21 416.76,131.12 416.98,131.31 417.20,131.20 417.42,131.22 417.64,131.25 417.86,131.21 418.08,131.29 418.30,131.16 418.52,131.10 418.74,130.94 418.96,130.93 419.18,131.32 419.40,131.34 419.62,131.39 419.84,131.36 420.06,131.39 420.28,130.92 420.50,131.14 420.72,131.01 420.94,131.15 421.16,131.07 421.38,131.21 421.60,131.19 421.82,131.16 422.04,131.05 422.26,131.31 422.48,131.05 422.70,130.70 422.92,131.27 423.14,131.13 423.36,131.14 423.58,131.13 423.80,131.33 424.02,131.02 424.24,131.16 424.46,131.05 424.68,131.19 424.90,131.30 425.12,131.18 425.34,130.93 425.56,131.30 425.78,131.39 426.00,131.38 426.22,131.38 426.44,131.12 426.66,131.38 426.88,131.39 427.10,131.08 427.32,130.93 427.54,131.37 427.76,131.21 427.98,131.38 428.20,131.25 428.42,131.21 428.64,131.39 428.86,131.14 429.08,131.25 429.30,131.37 429.52,131.34 429.74,131.35 429.96,131.22 430.18,131.16 430.40,131.34 430.62,131.26 430.84,131.34 431.06,131.40 431.28,131.06 431.50,131.38 431.72,131.06 431.94,131.25 432.16,131.33 432.38,130.88" fill="none" stroke="#3345a8" stroke-width="1.0" stroke-linejoin="miter"/>
<rect x="392.50" y="92.50" width="40.30" height="39.70" fill="none" stroke="#2a2a2a" stroke-width="0.9"/>
<line x1="392.50" y1="132.20" x2="432.80" y2="132.20" stroke="#222" stroke-width="1.3"/>
<line x1="392.50" y1="133.50" x2="432.80" y2="133.50" stroke="#bbb" stroke-width="0.9"/>
<rect x="435.80" y="92.50" width="39.90" height="39.70" fill="#fff"/>
<polygon points="436.30,131.40 436.30,126.73 436.52,126.27 436.74,125.78 436.96,125.26 437.18,124.71 437.40,124.14 437.62,123.53 437.84,122.90 438.06,122.25 438.28,121.58 438.50,120.89 438.72,120.18 438.94,119.45 439.16,118.72 439.38,117.98 439.60,117.24 439.82,116.50 440.04,115.77 440.26,115.04 440.48,114.34 440.70,113.65 440.92,112.99 441.14,112.36 441.36,111.77 441.58,111.21 441.80,110.70 442.02,110.24 442.24,109.83 442.46,109.47 442.68,109.17 442.90,108.94 443.12,108.76 443.34,108.65 443.56,108.61 443.78,108.67 444.00,108.91 444.22,109.32 444.44,109.90 444.66,110.63 444.88,111.08 445.10,110.85 445.32,110.67 445.54,110.54 445.76,110.45 445.98,110.41 446.20,110.44 446.42,110.56 446.64,110.76 446.86,111.05 447.08,111.42 447.30,111.87 447.52,112.38 447.74,112.95 447.96,113.58 448.18,114.25 448.40,114.95 448.62,115.67 448.84,116.41 449.06,117.16 449.28,117.91 449.50,118.65 449.72,119.38 449.94,120.08 450.16,120.76 450.38,121.42 450.60,122.04 450.82,122.62 451.04,123.17 451.26,123.69 451.48,124.18 451.70,124.63 451.92,125.05 452.14,125.45 452.36,125.82 452.58,126.17 452.80,126.50 453.02,126.82 453.24,127.12 453.46,127.40 453.68,127.68 453.90,127.94 454.12,128.20 454.34,128.45 454.56,128.69 454.78,128.92 455.00,129.14 455.22,129.36 455.44,129.56 455.66,129.75 455.88,129.93 456.10,130.10 456.32,130.26 456.54,130.41 456.76,130.54 456.98,130.66 457.20,130.76 457.42,130.86 457.64,130.95 457.86,131.02 458.08,131.08 458.30,131.14 458.52,131.19 458.74,131.23 458.96,131.26 459.18,131.29 459.40,131.31 459.62,131.33 459.84,131.35 460.06,131.36 460.28,131.37 460.50,131.38 460.72,131.38 460.94,131.39 461.16,131.39 461.38,131.39 461.60,131.39 461.82,131.40 462.04,131.40 462.26,131.40 462.48,131.40 462.70,131.40 462.92,131.40 463.14,131.40 463.36,131.40 463.58,131.40 463.80,131.40 464.02,131.40 464.24,131.40 464.46,131.40 464.68,131.40 464.90,131.40 465.12,131.40 465.34,131.40 465.56,131.40 465.78,131.40 466.00,131.40 466.22,131.40 466.44,131.40 466.66,131.40 466.88,131.40 467.10,131.40 467.32,131.40 467.54,131.40 467.76,131.40 467.98,131.40 468.20,131.40 468.42,131.40 468.64,131.40 468.86,131.40 469.08,131.40 469.30,131.40 469.52,131.40 469.74,131.40 469.96,131.40 470.18,131.40 470.40,131.40 470.62,131.40 470.84,131.40 471.06,131.40 471.28,131.40 471.50,131.40 471.72,131.40 471.94,131.40 472.16,131.40 472.38,131.40 472.60,131.40 472.82,131.40 473.04,131.40 473.26,131.40 473.48,131.40 473.70,131.40 473.92,131.40 474.14,131.40 474.36,131.40 474.58,131.40 474.80,131.40 475.02,131.40 475.24,131.40 475.24,131.40" fill="#fffbeb"/>
<polyline points="436.30,129.61 436.52,128.71 436.74,129.33 436.96,127.24 437.18,131.08 437.40,126.09 437.62,128.53 437.84,128.10 438.06,123.53 438.28,125.43 438.50,126.25 438.72,118.89 438.94,125.17 439.16,121.19 439.38,117.85 439.60,116.50 439.82,121.56 440.04,116.20 440.26,121.85 440.48,113.65 440.70,116.03 440.92,118.61 441.14,109.76 441.36,108.96 441.58,114.04 441.80,103.98 442.02,113.22 442.24,115.69 442.46,108.53 442.68,104.37 442.90,105.39 443.12,104.81 443.34,110.49 443.56,108.25 443.78,101.28 444.00,103.27 444.22,98.08 444.44,99.79 444.66,103.58 444.88,102.56 445.10,100.33 445.32,109.65 445.54,100.85 445.76,106.41 445.98,100.27 446.20,112.18 446.42,99.59 446.64,108.67 446.86,108.78 447.08,102.24 447.30,107.82 447.52,101.98 447.74,106.16 447.96,106.01 448.18,100.03 448.40,108.20 448.62,113.84 448.84,108.65 449.06,112.69 449.28,108.47 449.50,109.48 449.72,113.33 449.94,108.62 450.16,111.86 450.38,116.75 450.60,115.16 450.82,120.63 451.04,122.16 451.26,120.32 451.48,122.79 451.70,117.93 451.92,123.27 452.14,120.57 452.36,126.31 452.58,123.55 452.80,122.04 453.02,126.00 453.24,127.76 453.46,127.83 453.68,127.34 453.90,123.69 454.12,126.33 454.34,125.31 454.56,128.44 454.78,127.59 455.00,127.74 455.22,126.29 455.44,129.14 455.66,129.10 455.88,128.24 456.10,130.58 456.32,129.86 456.54,129.76 456.76,131.40 456.98,129.85 457.20,129.89 457.42,130.70 457.64,131.08 457.86,129.97 458.08,130.40 458.30,130.48 458.52,130.54 458.74,131.17 458.96,130.72 459.18,130.97 459.40,130.81 459.62,131.00 459.84,130.92 460.06,130.99 460.28,131.24 460.50,131.11 460.72,131.14 460.94,130.91 461.16,131.23 461.38,131.35 461.60,131.14 461.82,131.34 462.04,130.90 462.26,131.28 462.48,131.20 462.70,131.05 462.92,130.86 463.14,131.22 463.36,130.81 463.58,131.36 463.80,131.37 464.02,130.92 464.24,131.31 464.46,131.39 464.68,131.25 464.90,131.00 465.12,131.39 465.34,131.14 465.56,131.27 465.78,131.32 466.00,131.38 466.22,131.39 466.44,131.17 466.66,131.10 466.88,131.05 467.10,131.11 467.32,131.16 467.54,131.38 467.76,131.21 467.98,131.34 468.20,131.28 468.42,131.21 468.64,131.33 468.86,131.15 469.08,131.26 469.30,131.34 469.52,131.01 469.74,131.21 469.96,131.36 470.18,131.30 470.40,131.11 470.62,131.23 470.84,130.70 471.06,131.39 471.28,131.04 471.50,131.13 471.72,130.78 471.94,131.27 472.16,131.38 472.38,131.34 472.60,131.31 472.82,131.24 473.04,131.08 473.26,131.15 473.48,131.01 473.70,131.17 473.92,131.33 474.14,131.11 474.36,131.22 474.58,131.17 474.80,131.22 475.02,131.28 475.24,131.39" fill="none" stroke="#e8352a" stroke-width="1.0" stroke-linejoin="miter"/>
<polyline points="436.30,126.62 436.52,126.29 436.74,123.08 436.96,121.16 437.18,122.92 437.40,119.35 437.62,119.23 437.84,125.56 438.06,117.53 438.28,116.75 438.50,117.54 438.72,113.69 438.94,116.67 439.16,106.52 439.38,111.88 439.60,105.32 439.82,112.22 440.04,101.82 440.26,96.80 440.48,108.94 440.70,99.69 440.92,92.97 441.14,102.73 441.36,104.31 441.58,101.55 441.80,102.16 442.02,96.45 442.24,101.50 442.46,92.90 442.68,95.63 442.90,100.62 443.12,111.18 443.34,103.28 443.56,109.06 443.78,93.45 444.00,96.79 444.22,92.90 444.44,95.60 444.66,93.26 444.88,98.82 445.10,105.27 445.32,107.60 445.54,104.27 445.76,112.39 445.98,108.19 446.20,112.58 446.42,111.75 446.64,121.91 446.86,118.44 447.08,121.25 447.30,121.65 447.52,118.55 447.74,123.94 447.96,125.47 448.18,128.98 448.40,126.36 448.62,128.00 448.84,126.43 449.06,127.88 449.28,131.40 449.50,130.40 449.72,129.13 449.94,128.88 450.16,130.23 450.38,130.09 450.60,130.94 450.82,130.08 451.04,129.88 451.26,130.92 451.48,130.88 451.70,131.40 451.92,130.93 452.14,130.11 452.36,130.93 452.58,130.88 452.80,130.88 453.02,131.37 453.24,131.08 453.46,131.16 453.68,131.24 453.90,131.28 454.12,131.14 454.34,131.21 454.56,131.23 454.78,131.38 455.00,131.39 455.22,131.28 455.44,131.05 455.66,130.91 455.88,131.11 456.10,131.22 456.32,131.32 456.54,131.38 456.76,131.26 456.98,131.29 457.20,130.97 457.42,131.21 457.64,130.65 457.86,130.93 458.08,131.14 458.30,131.31 458.52,131.37 458.74,131.05 458.96,131.10 459.18,131.36 459.40,131.02 459.62,131.35 459.84,131.29 460.06,131.37 460.28,131.29 460.50,131.00 460.72,131.17 460.94,131.18 461.16,131.08 461.38,131.23 461.60,131.37 461.82,130.74 462.04,131.40 462.26,131.13 462.48,131.29 462.70,131.00 462.92,131.11 463.14,131.13 463.36,131.03 463.58,131.37 463.80,131.00 464.02,131.32 464.24,131.17 464.46,131.38 464.68,131.08 464.90,131.16 465.12,131.40 465.34,131.39 465.56,131.37 465.78,131.25 466.00,130.90 466.22,131.40 466.44,131.11 466.66,131.28 466.88,131.21 467.10,131.24 467.32,131.36 467.54,131.23 467.76,131.39 467.98,130.97 468.20,131.07 468.42,131.19 468.64,131.28 468.86,131.30 469.08,131.09 469.30,131.23 469.52,131.39 469.74,130.85 469.96,131.23 470.18,131.31 470.40,131.21 470.62,131.30 470.84,131.18 471.06,131.38 471.28,131.36 471.50,130.89 471.72,131.36 471.94,131.33 472.16,131.29 472.38,130.98 472.60,131.31 472.82,131.39 473.04,131.37 473.26,131.11 473.48,131.24 473.70,131.09 473.92,131.34 474.14,131.06 474.36,131.22 474.58,131.27 474.80,131.12 475.02,131.30 475.24,131.32" fill="none" stroke="#3345a8" stroke-width="1.0" stroke-linejoin="miter"/>
<rect x="435.80" y="92.50" width="39.90" height="39.70" fill="none" stroke="#2a2a2a" stroke-width="0.9"/>
<line x1="435.80" y1="132.20" x2="475.70" y2="132.20" stroke="#222" stroke-width="1.3"/>
<line x1="435.80" y1="133.50" x2="475.70" y2="133.50" stroke="#bbb" stroke-width="0.9"/>
<rect x="478.80" y="92.50" width="39.50" height="39.70" fill="#fff"/>
<polygon points="479.30,131.40 479.30,126.91 479.52,126.49 479.74,126.10 479.96,125.73 480.18,125.39 480.40,125.10 480.62,124.85 480.84,124.65 481.06,124.49 481.28,124.37 481.50,124.26 481.72,124.17 481.94,124.09 482.16,124.01 482.38,123.92 482.60,123.81 482.82,123.67 483.04,123.50 483.26,123.29 483.48,123.02 483.70,122.70 483.92,122.32 484.14,121.87 484.36,121.36 484.58,120.78 484.80,120.14 485.02,119.44 485.24,118.69 485.46,117.91 485.68,117.09 485.90,116.25 486.12,115.41 486.34,114.57 486.56,113.76 486.78,112.99 487.00,112.28 487.22,111.63 487.44,111.06 487.66,110.59 487.88,110.21 488.10,109.95 488.32,109.81 488.54,109.79 488.76,109.92 488.98,110.21 489.20,110.67 489.42,111.28 489.64,112.02 489.86,112.89 490.08,113.85 490.30,114.90 490.52,116.01 490.74,117.15 490.96,118.32 491.18,119.49 491.40,120.64 491.62,121.75 491.84,122.82 492.06,123.83 492.28,124.78 492.50,125.65 492.72,126.45 492.94,127.17 493.16,127.82 493.38,128.39 493.60,128.89 493.82,128.84 494.04,128.61 494.26,128.35 494.48,128.05 494.70,127.72 494.92,127.35 495.14,126.94 495.36,126.50 495.58,126.01 495.80,125.48 496.02,124.91 496.24,124.30 496.46,123.66 496.68,122.98 496.90,122.26 497.12,121.52 497.34,120.75 497.56,119.96 497.78,119.16 498.00,118.34 498.22,117.52 498.44,116.71 498.66,115.91 498.88,115.12 499.10,114.37 499.32,113.64 499.54,112.97 499.76,112.33 499.98,111.76 500.20,111.25 500.42,110.81 500.64,110.45 500.86,110.16 501.08,109.95 501.30,109.84 501.52,109.81 501.74,109.86 501.96,110.00 502.18,110.23 502.40,110.54 502.62,110.93 502.84,111.40 503.06,111.93 503.28,112.52 503.50,113.17 503.72,113.88 503.94,114.62 504.16,115.39 504.38,116.20 504.60,117.02 504.82,117.85 505.04,118.68 505.26,119.52 505.48,120.34 505.70,121.15 505.92,121.94 506.14,122.70 506.36,123.43 506.58,124.13 506.80,124.80 507.02,125.43 507.24,126.02 507.46,126.58 507.68,127.09 507.90,127.56 508.12,128.00 508.34,128.40 508.56,128.76 508.78,129.09 509.00,129.39 509.22,129.65 509.44,129.89 509.66,130.10 509.88,130.28 510.10,130.45 510.32,130.59 510.54,130.71 510.76,130.82 510.98,130.91 511.20,130.99 511.42,131.06 511.64,131.12 511.86,131.17 512.08,131.21 512.30,131.24 512.52,131.27 512.74,131.30 512.96,131.32 513.18,131.33 513.40,131.34 513.62,131.36 513.84,131.36 514.06,131.37 514.28,131.38 514.50,131.38 514.72,131.39 514.94,131.39 515.16,131.39 515.38,131.39 515.60,131.40 515.82,131.40 516.04,131.40 516.26,131.40 516.48,131.40 516.70,131.40 516.92,131.40 517.14,131.40 517.36,131.40 517.58,131.40 517.80,131.40 517.80,131.40" fill="#fffbeb"/>
<polyline points="479.30,130.99 479.52,130.82 479.74,130.20 479.96,130.41 480.18,131.32 480.40,129.76 480.62,130.52 480.84,130.67 481.06,129.52 481.28,129.90 481.50,130.74 481.72,130.10 481.94,130.89 482.16,130.73 482.38,131.40 482.60,128.76 482.82,131.31 483.04,129.35 483.26,130.67 483.48,129.98 483.70,129.59 483.92,129.53 484.14,129.53 484.36,127.96 484.58,129.82 484.80,128.87 485.02,129.91 485.24,128.30 485.46,128.92 485.68,129.57 485.90,129.71 486.12,129.06 486.34,128.95 486.56,128.63 486.78,129.53 487.00,129.83 487.22,127.65 487.44,131.15 487.66,129.02 487.88,127.80 488.10,131.40 488.32,130.22 488.54,128.91 488.76,130.81 488.98,125.93 489.20,131.40 489.42,127.08 489.64,127.75 489.86,128.18 490.08,129.20 490.30,128.61 490.52,130.56 490.74,127.84 490.96,130.12 491.18,129.45 491.40,128.58 491.62,130.44 491.84,130.02 492.06,127.94 492.28,130.36 492.50,127.98 492.72,128.53 492.94,129.03 493.16,128.66 493.38,129.48 493.60,127.67 493.82,127.03 494.04,127.90 494.26,125.99 494.48,128.70 494.70,124.92 494.92,126.10 495.14,123.66 495.36,124.83 495.58,123.98 495.80,124.70 496.02,120.34 496.24,120.63 496.46,119.07 496.68,116.99 496.90,119.43 497.12,119.31 497.34,115.45 497.56,118.04 497.78,112.39 498.00,110.01 498.22,113.79 498.44,114.71 498.66,102.99 498.88,107.92 499.10,111.75 499.32,101.51 499.54,97.98 499.76,108.07 499.98,99.67 500.20,103.31 500.42,92.90 500.64,109.86 500.86,93.27 501.08,103.02 501.30,99.01 501.52,101.88 501.74,97.33 501.96,106.76 502.18,102.26 502.40,100.51 502.62,104.19 502.84,106.19 503.06,99.90 503.28,93.91 503.50,98.57 503.72,108.34 503.94,102.76 504.16,107.33 504.38,100.38 504.60,111.21 504.82,115.12 505.04,110.81 505.26,117.25 505.48,114.67 505.70,112.73 505.92,121.87 506.14,123.29 506.36,114.02 506.58,118.73 506.80,123.18 507.02,122.99 507.24,124.30 507.46,126.65 507.68,129.47 507.90,129.19 508.12,125.26 508.34,125.78 508.56,128.42 508.78,128.96 509.00,128.43 509.22,131.40 509.44,129.35 509.66,130.03 509.88,130.68 510.10,130.52 510.32,129.81 510.54,130.68 510.76,131.40 510.98,131.00 511.20,129.31 511.42,131.26 511.64,131.40 511.86,130.59 512.08,130.77 512.30,130.95 512.52,131.40 512.74,130.64 512.96,131.40 513.18,131.34 513.40,131.21 513.62,131.36 513.84,130.83 514.06,131.09 514.28,131.16 514.50,131.21 514.72,131.32 514.94,131.14 515.16,131.26 515.38,131.32 515.60,131.23 515.82,130.81 516.04,131.39 516.26,131.34 516.48,131.24 516.70,131.05 516.92,131.07 517.14,131.40 517.36,131.31 517.58,130.90 517.80,130.77" fill="none" stroke="#e8352a" stroke-width="1.0" stroke-linejoin="miter"/>
<polyline points="479.30,123.78 479.52,123.84 479.74,123.21 479.96,122.24 480.18,122.01 480.40,120.61 480.62,117.90 480.84,120.00 481.06,121.40 481.28,121.62 481.50,114.56 481.72,124.76 481.94,119.37 482.16,117.41 482.38,118.59 482.60,120.59 482.82,124.11 483.04,114.98 483.26,120.01 483.48,116.58 483.70,122.22 483.92,118.98 484.14,120.37 484.36,116.41 484.58,116.73 484.80,117.84 485.02,120.67 485.24,118.68 485.46,112.60 485.68,116.05 485.90,111.57 486.12,105.58 486.34,100.70 486.56,102.14 486.78,99.26 487.00,104.41 487.22,117.39 487.44,111.86 487.66,108.95 487.88,105.45 488.10,94.68 488.32,101.77 488.54,99.33 488.76,100.97 488.98,94.85 489.20,99.09 489.42,107.52 489.64,110.01 489.86,102.51 490.08,98.09 490.30,108.96 490.52,117.30 490.74,114.82 490.96,117.41 491.18,112.69 491.40,110.07 491.62,118.17 491.84,118.17 492.06,118.11 492.28,123.06 492.50,123.95 492.72,124.69 492.94,126.74 493.16,123.03 493.38,128.43 493.60,127.13 493.82,128.34 494.04,130.80 494.26,128.38 494.48,130.29 494.70,129.47 494.92,129.41 495.14,131.40 495.36,131.20 495.58,130.72 495.80,131.14 496.02,131.40 496.24,130.16 496.46,131.09 496.68,130.98 496.90,131.21 497.12,131.04 497.34,131.04 497.56,131.36 497.78,131.08 498.00,131.20 498.22,131.34 498.44,131.20 498.66,131.29 498.88,131.05 499.10,131.32 499.32,131.38 499.54,131.18 499.76,131.24 499.98,131.30 500.20,131.00 500.42,131.12 500.64,130.98 500.86,131.02 501.08,131.35 501.30,131.24 501.52,131.24 501.74,131.10 501.96,131.32 502.18,131.36 502.40,131.20 502.62,131.24 502.84,131.11 503.06,131.15 503.28,131.12 503.50,131.31 503.72,131.25 503.94,131.30 504.16,131.37 504.38,131.19 504.60,131.09 504.82,131.37 505.04,131.36 505.26,131.12 505.48,131.35 505.70,131.39 505.92,131.30 506.14,131.30 506.36,131.05 506.58,131.39 506.80,131.29 507.02,131.33 507.24,131.13 507.46,131.10 507.68,131.02 507.90,131.34 508.12,131.29 508.34,130.87 508.56,131.25 508.78,131.18 509.00,131.20 509.22,131.19 509.44,131.03 509.66,130.75 509.88,131.32 510.10,131.22 510.32,131.26 510.54,130.95 510.76,131.33 510.98,131.10 511.20,131.14 511.42,131.05 511.64,131.04 511.86,131.03 512.08,131.27 512.30,131.34 512.52,131.36 512.74,131.23 512.96,131.02 513.18,131.24 513.40,131.27 513.62,131.31 513.84,131.14 514.06,131.27 514.28,131.21 514.50,131.11 514.72,131.27 514.94,130.85 515.16,131.27 515.38,131.37 515.60,131.18 515.82,131.16 516.04,131.24 516.26,131.00 516.48,131.27 516.70,131.10 516.92,131.19 517.14,131.26 517.36,131.33 517.58,131.20 517.80,130.61" fill="none" stroke="#3345a8" stroke-width="1.0" stroke-linejoin="miter"/>
<rect x="478.80" y="92.50" width="39.50" height="39.70" fill="none" stroke="#2a2a2a" stroke-width="0.9"/>
<line x1="478.80" y1="132.20" x2="518.30" y2="132.20" stroke="#222" stroke-width="1.3"/>
<line x1="478.80" y1="133.50" x2="518.30" y2="133.50" stroke="#bbb" stroke-width="0.9"/>
<rect x="392.50" y="135.20" width="40.30" height="39.70" fill="#fff"/>
<polygon points="393.00,174.10 393.00,168.85 393.22,168.25 393.44,167.61 393.66,166.94 393.88,166.22 394.10,165.47 394.32,164.69 394.54,163.87 394.76,163.03 394.98,162.17 395.20,161.30 395.42,160.42 395.64,159.54 395.86,158.66 396.08,157.80 396.30,156.96 396.52,156.15 396.74,155.38 396.96,154.65 397.18,153.98 397.40,153.37 397.62,152.83 397.84,152.36 398.06,151.98 398.28,151.67 398.50,151.46 398.72,151.34 398.94,151.31 399.16,151.45 399.38,151.80 399.60,152.34 399.82,152.88 400.04,153.32 400.26,153.90 400.48,154.61 400.70,155.43 400.92,156.35 401.14,157.33 401.36,158.38 401.58,159.45 401.80,160.54 402.02,161.63 402.24,162.69 402.46,163.72 402.68,164.71 402.90,165.63 403.12,166.49 403.34,167.27 403.56,167.98 403.78,168.62 404.00,169.18 404.22,169.67 404.44,170.10 404.66,170.47 404.88,170.79 405.10,171.07 405.32,171.31 405.54,171.52 405.76,171.71 405.98,171.88 406.20,172.02 406.42,172.15 406.64,172.26 406.86,172.36 407.08,172.46 407.30,172.54 407.52,172.62 407.74,172.70 407.96,172.77 408.18,172.84 408.40,172.91 408.62,172.98 408.84,173.05 409.06,173.12 409.28,173.18 409.50,173.25 409.72,173.31 409.94,173.38 410.16,173.44 410.38,173.49 410.60,173.55 410.82,173.60 411.04,173.65 411.26,173.69 411.48,173.74 411.70,173.78 411.92,173.81 412.14,173.85 412.36,173.88 412.58,173.91 412.80,173.93 413.02,173.95 413.24,173.97 413.46,173.99 413.68,174.01 413.90,174.02 414.12,174.03 414.34,174.04 414.56,174.05 414.78,174.06 415.00,174.07 415.22,174.07 415.44,174.08 415.66,174.08 415.88,174.08 416.10,174.09 416.32,174.09 416.54,174.09 416.76,174.09 416.98,174.09 417.20,174.10 417.42,174.10 417.64,174.10 417.86,174.10 418.08,174.10 418.30,174.10 418.52,174.10 418.74,174.10 418.96,174.10 419.18,174.10 419.40,174.10 419.62,174.10 419.84,174.10 420.06,174.10 420.28,174.10 420.50,174.10 420.72,174.10 420.94,174.10 421.16,174.10 421.38,174.10 421.60,174.10 421.82,174.10 422.04,174.10 422.26,174.10 422.48,174.10 422.70,174.10 422.92,174.10 423.14,174.10 423.36,174.10 423.58,174.10 423.80,174.10 424.02,174.10 424.24,174.10 424.46,174.10 424.68,174.10 424.90,174.10 425.12,174.10 425.34,174.10 425.56,174.10 425.78,174.10 426.00,174.10 426.22,174.10 426.44,174.10 426.66,174.10 426.88,174.10 427.10,174.10 427.32,174.10 427.54,174.10 427.76,174.10 427.98,174.10 428.20,174.10 428.42,174.10 428.64,174.10 428.86,174.10 429.08,174.10 429.30,174.10 429.52,174.10 429.74,174.10 429.96,174.10 430.18,174.10 430.40,174.10 430.62,174.10 430.84,174.10 431.06,174.10 431.28,174.10 431.50,174.10 431.72,174.10 431.94,174.10 432.16,174.10 432.38,174.10 432.38,174.10" fill="#fffbeb"/>
<polyline points="393.00,166.58 393.22,169.40 393.44,167.44 393.66,164.18 393.88,165.36 394.10,169.87 394.32,160.04 394.54,166.14 394.76,162.44 394.98,161.75 395.20,153.72 395.42,160.12 395.64,163.44 395.86,156.54 396.08,153.61 396.30,158.43 396.52,150.62 396.74,148.25 396.96,143.85 397.18,143.97 397.40,141.14 397.62,154.38 397.84,147.54 398.06,143.68 398.28,145.61 398.50,147.81 398.72,142.37 398.94,140.89 399.16,140.81 399.38,139.64 399.60,135.60 399.82,143.75 400.04,166.72 400.26,145.51 400.48,143.64 400.70,146.21 400.92,156.54 401.14,155.01 401.36,150.77 401.58,154.06 401.80,157.43 402.02,157.24 402.24,156.18 402.46,157.84 402.68,161.83 402.90,166.48 403.12,158.36 403.34,162.75 403.56,164.98 403.78,168.32 404.00,167.04 404.22,165.42 404.44,169.60 404.66,167.17 404.88,169.45 405.10,168.06 405.32,168.91 405.54,168.90 405.76,171.95 405.98,172.19 406.20,167.47 406.42,172.37 406.64,171.65 406.86,169.90 407.08,171.09 407.30,172.49 407.52,173.51 407.74,171.09 407.96,171.17 408.18,171.12 408.40,171.67 408.62,171.04 408.84,173.34 409.06,172.78 409.28,173.24 409.50,172.37 409.72,172.09 409.94,172.42 410.16,173.58 410.38,172.48 410.60,173.13 410.82,173.73 411.04,173.39 411.26,173.77 411.48,173.30 411.70,173.23 411.92,173.67 412.14,173.51 412.36,173.78 412.58,173.43 412.80,174.09 413.02,173.76 413.24,173.77 413.46,173.99 413.68,173.88 413.90,173.82 414.12,174.06 414.34,174.10 414.56,173.82 414.78,173.92 415.00,173.85 415.22,173.81 415.44,173.81 415.66,173.63 415.88,173.83 416.10,174.10 416.32,173.92 416.54,173.62 416.76,173.66 416.98,173.55 417.20,173.87 417.42,173.84 417.64,173.93 417.86,174.08 418.08,174.05 418.30,173.90 418.52,174.04 418.74,174.02 418.96,174.05 419.18,173.55 419.40,174.01 419.62,173.77 419.84,173.97 420.06,174.07 420.28,173.95 420.50,173.98 420.72,173.83 420.94,174.03 421.16,173.84 421.38,173.32 421.60,173.95 421.82,173.61 422.04,173.64 422.26,173.90 422.48,173.92 422.70,173.62 422.92,173.89 423.14,173.98 423.36,173.90 423.58,173.92 423.80,173.69 424.02,173.80 424.24,173.74 424.46,173.82 424.68,173.88 424.90,173.77 425.12,173.81 425.34,173.86 425.56,174.05 425.78,174.02 426.00,173.88 426.22,173.92 426.44,173.78 426.66,173.97 426.88,174.09 427.10,173.87 427.32,174.03 427.54,173.65 427.76,173.95 427.98,174.09 428.20,173.76 428.42,173.94 428.64,173.89 428.86,173.82 429.08,174.00 429.30,173.97 429.52,174.06 429.74,174.09 429.96,173.79 430.18,173.89 430.40,173.74 430.62,174.09 430.84,174.08 431.06,173.93 431.28,174.04 431.50,173.93 431.72,173.98 431.94,173.65 432.16,174.09 432.38,173.94" fill="none" stroke="#e8352a" stroke-width="1.0" stroke-linejoin="miter"/>
<polyline points="393.00,167.34 393.22,161.77 393.44,163.80 393.66,160.56 393.88,164.07 394.10,160.13 394.32,157.63 394.54,157.53 394.76,157.16 394.98,150.92 395.20,159.06 395.42,152.00 395.64,156.85 395.86,141.83 396.08,155.38 396.30,153.37 396.52,157.66 396.74,142.63 396.96,155.20 397.18,144.37 397.40,144.70 397.62,160.53 397.84,143.97 398.06,136.58 398.28,141.60 398.50,142.90 398.72,136.26 398.94,145.11 399.16,149.53 399.38,145.59 399.60,135.65 399.82,137.79 400.04,139.08 400.26,148.02 400.48,155.88 400.70,147.45 400.92,158.78 401.14,156.96 401.36,161.12 401.58,158.46 401.80,152.60 402.02,167.06 402.24,160.97 402.46,164.04 402.68,169.92 402.90,168.53 403.12,166.22 403.34,165.67 403.56,171.28 403.78,171.93 404.00,170.14 404.22,169.52 404.44,171.87 404.66,174.10 404.88,171.39 405.10,173.38 405.32,172.70 405.54,173.58 405.76,173.84 405.98,173.78 406.20,172.94 406.42,173.34 406.64,174.10 406.86,173.88 407.08,173.48 407.30,173.83 407.52,174.10 407.74,174.01 407.96,174.02 408.18,173.78 408.40,173.93 408.62,174.10 408.84,173.99 409.06,173.92 409.28,173.99 409.50,173.93 409.72,173.86 409.94,173.80 410.16,173.87 410.38,173.97 410.60,173.94 410.82,173.42 411.04,173.89 411.26,174.03 411.48,174.07 411.70,174.03 411.92,173.75 412.14,173.97 412.36,173.93 412.58,173.75 412.80,173.94 413.02,173.87 413.24,173.74 413.46,173.88 413.68,173.58 413.90,174.09 414.12,173.88 414.34,173.85 414.56,173.68 414.78,173.74 415.00,173.71 415.22,174.03 415.44,173.73 415.66,174.00 415.88,173.71 416.10,173.97 416.32,173.87 416.54,173.58 416.76,173.67 416.98,173.93 417.20,174.04 417.42,173.97 417.64,174.03 417.86,173.89 418.08,174.03 418.30,173.46 418.52,174.06 418.74,174.09 418.96,173.46 419.18,173.91 419.40,173.98 419.62,173.96 419.84,173.79 420.06,173.95 420.28,173.63 420.50,173.74 420.72,173.95 420.94,173.81 421.16,174.08 421.38,173.86 421.60,173.98 421.82,174.00 422.04,173.89 422.26,173.94 422.48,174.08 422.70,173.87 422.92,173.89 423.14,173.82 423.36,173.81 423.58,173.87 423.80,173.83 424.02,174.04 424.24,173.88 424.46,173.66 424.68,173.93 424.90,173.91 425.12,173.87 425.34,173.93 425.56,173.94 425.78,173.72 426.00,173.75 426.22,173.52 426.44,174.02 426.66,174.05 426.88,173.85 427.10,174.10 427.32,174.08 427.54,173.84 427.76,173.85 427.98,173.83 428.20,173.97 428.42,173.75 428.64,173.83 428.86,173.84 429.08,173.89 429.30,173.70 429.52,173.99 429.74,173.81 429.96,173.90 430.18,174.08 430.40,173.98 430.62,173.52 430.84,174.02 431.06,173.99 431.28,173.82 431.50,173.96 431.72,173.90 431.94,173.85 432.16,174.10 432.38,173.93" fill="none" stroke="#3345a8" stroke-width="1.0" stroke-linejoin="miter"/>
<rect x="392.50" y="135.20" width="40.30" height="39.70" fill="none" stroke="#2a2a2a" stroke-width="0.9"/>
<line x1="392.50" y1="174.90" x2="432.80" y2="174.90" stroke="#222" stroke-width="1.3"/>
<line x1="392.50" y1="176.20" x2="432.80" y2="176.20" stroke="#bbb" stroke-width="0.9"/>
<rect x="435.80" y="135.20" width="39.90" height="39.70" fill="#fff"/>
<polygon points="436.30,174.10 436.30,167.16 436.52,166.43 436.74,165.66 436.96,164.86 437.18,164.02 437.40,163.16 437.62,162.28 437.84,161.39 438.06,160.49 438.28,159.59 438.50,158.70 438.72,157.82 438.94,156.98 439.16,156.18 439.38,155.42 439.60,154.71 439.82,154.07 440.04,153.50 440.26,153.01 440.48,152.61 440.70,152.29 440.92,152.07 441.14,151.95 441.36,151.93 441.58,152.05 441.80,152.32 442.02,152.74 442.24,153.30 442.46,153.99 442.68,154.79 442.90,155.69 443.12,156.67 443.34,157.71 443.56,158.80 443.78,159.91 444.00,161.04 444.22,162.16 444.44,163.26 444.66,163.02 444.88,162.57 445.10,162.11 445.32,161.64 445.54,161.16 445.76,160.68 445.98,160.20 446.20,159.72 446.42,159.24 446.64,158.77 446.86,158.32 447.08,157.87 447.30,157.44 447.52,157.03 447.74,156.64 447.96,156.28 448.18,155.94 448.40,155.63 448.62,155.35 448.84,155.11 449.06,154.89 449.28,154.72 449.50,154.58 449.72,154.47 449.94,154.41 450.16,154.38 450.38,154.39 450.60,154.43 450.82,154.50 451.04,154.60 451.26,154.72 451.48,154.87 451.70,155.05 451.92,155.25 452.14,155.48 452.36,155.74 452.58,156.01 452.80,156.31 453.02,156.63 453.24,156.97 453.46,157.32 453.68,157.70 453.90,158.09 454.12,158.49 454.34,158.90 454.56,159.33 454.78,159.76 455.00,160.20 455.22,160.65 455.44,161.11 455.66,161.56 455.88,162.02 456.10,162.48 456.32,162.93 456.54,163.39 456.76,163.84 456.98,164.29 457.20,164.73 457.42,165.16 457.64,165.59 457.86,166.01 458.08,166.42 458.30,166.82 458.52,167.21 458.74,167.58 458.96,167.95 459.18,168.30 459.40,168.64 459.62,168.97 459.84,169.29 460.06,169.59 460.28,169.88 460.50,170.16 460.72,170.42 460.94,170.68 461.16,170.92 461.38,171.14 461.60,171.36 461.82,171.56 462.04,171.75 462.26,171.93 462.48,172.10 462.70,172.26 462.92,172.41 463.14,172.55 463.36,172.68 463.58,172.80 463.80,172.91 464.02,173.01 464.24,173.11 464.46,173.20 464.68,173.28 464.90,173.36 465.12,173.43 465.34,173.49 465.56,173.55 465.78,173.60 466.00,173.65 466.22,173.70 466.44,173.74 466.66,173.78 466.88,173.81 467.10,173.84 467.32,173.87 467.54,173.89 467.76,173.92 467.98,173.94 468.20,173.96 468.42,173.97 468.64,173.99 468.86,174.00 469.08,174.01 469.30,174.02 469.52,174.03 469.74,174.04 469.96,174.05 470.18,174.05 470.40,174.06 470.62,174.06 470.84,174.07 471.06,174.07 471.28,174.08 471.50,174.08 471.72,174.08 471.94,174.08 472.16,174.09 472.38,174.09 472.60,174.09 472.82,174.09 473.04,174.09 473.26,174.09 473.48,174.09 473.70,174.10 473.92,174.10 474.14,174.10 474.36,174.10 474.58,174.10 474.80,174.10 475.02,174.10 475.24,174.10 475.24,174.10" fill="#fffbeb"/>
<polyline points="436.30,169.89 436.52,167.41 436.74,166.43 436.96,165.61 437.18,167.28 437.40,166.08 437.62,164.57 437.84,166.60 438.06,165.49 438.28,166.16 438.50,165.72 438.72,160.95 438.94,164.30 439.16,165.71 439.38,166.48 439.60,165.25 439.82,167.50 440.04,165.52 440.26,166.50 440.48,166.02 440.70,164.20 440.92,167.24 441.14,166.87 441.36,162.96 441.58,164.81 441.80,167.17 442.02,164.66 442.24,167.20 442.46,155.99 442.68,162.32 442.90,161.07 443.12,161.69 443.34,159.81 443.56,159.20 443.78,153.87 444.00,153.93 444.22,157.58 444.44,155.11 444.66,160.75 444.88,161.99 445.10,158.77 445.32,153.20 445.54,156.10 445.76,154.09 445.98,149.30 446.20,150.98 446.42,146.46 446.64,145.28 446.86,145.57 447.08,148.19 447.30,150.88 447.52,139.81 447.74,147.70 447.96,145.62 448.18,142.31 448.40,154.14 448.62,144.29 448.84,146.95 449.06,140.75 449.28,138.24 449.50,146.49 449.72,150.50 449.94,142.60 450.16,143.83 450.38,135.60 450.60,147.35 450.82,147.18 451.04,147.34 451.26,140.11 451.48,145.40 451.70,145.26 451.92,148.66 452.14,146.64 452.36,146.60 452.58,148.36 452.80,145.81 453.02,145.16 453.24,139.90 453.46,157.19 453.68,156.28 453.90,156.09 454.12,146.86 454.34,152.47 454.56,145.25 454.78,146.34 455.00,155.94 455.22,155.38 455.44,149.90 455.66,160.23 455.88,158.67 456.10,154.34 456.32,154.82 456.54,164.92 456.76,158.55 456.98,161.96 457.20,164.28 457.42,155.24 457.64,166.46 457.86,164.49 458.08,160.18 458.30,165.96 458.52,162.57 458.74,161.37 458.96,166.42 459.18,165.76 459.40,168.96 459.62,165.16 459.84,167.80 460.06,168.48 460.28,164.22 460.50,167.83 460.72,166.52 460.94,168.26 461.16,171.11 461.38,169.13 461.60,169.38 461.82,172.79 462.04,168.50 462.26,171.14 462.48,170.31 462.70,172.99 462.92,171.81 463.14,170.77 463.36,172.00 463.58,172.02 463.80,173.97 464.02,171.22 464.24,173.40 464.46,174.10 464.68,173.27 464.90,173.47 465.12,172.46 465.34,173.62 465.56,173.20 465.78,173.55 466.00,172.17 466.22,173.30 466.44,172.53 466.66,173.69 466.88,173.04 467.10,174.04 467.32,173.49 467.54,173.30 467.76,174.07 467.98,174.10 468.20,174.10 468.42,173.96 468.64,174.07 468.86,174.06 469.08,174.04 469.30,173.74 469.52,173.46 469.74,173.95 469.96,173.71 470.18,173.69 470.40,173.99 470.62,173.86 470.84,173.88 471.06,173.82 471.28,173.83 471.50,173.46 471.72,173.30 471.94,173.59 472.16,173.87 472.38,174.05 472.60,173.56 472.82,174.02 473.04,173.89 473.26,174.03 473.48,174.05 473.70,174.00 473.92,173.87 474.14,174.08 474.36,174.05 474.58,173.99 474.80,173.94 475.02,173.83 475.24,174.02" fill="none" stroke="#e8352a" stroke-width="1.0" stroke-linejoin="miter"/>
<polyline points="436.30,165.64 436.52,164.42 436.74,157.19 436.96,160.93 437.18,160.21 437.40,160.96 437.62,158.58 437.84,158.15 438.06,155.80 438.28,153.97 438.50,158.06 438.72,153.12 438.94,153.90 439.16,151.79 439.38,144.65 439.60,152.64 439.82,146.22 440.04,144.31 440.26,144.36 440.48,139.04 440.70,139.51 440.92,143.33 441.14,140.05 441.36,144.69 441.58,137.65 441.80,144.82 442.02,138.07 442.24,149.93 442.46,156.17 442.68,147.01 442.90,149.77 443.12,142.78 443.34,148.66 443.56,160.79 443.78,151.94 444.00,151.20 444.22,155.12 444.44,150.59 444.66,156.44 444.88,164.13 445.10,165.01 445.32,164.14 445.54,162.84 445.76,168.03 445.98,167.71 446.20,168.29 446.42,171.79 446.64,170.71 446.86,168.55 447.08,167.90 447.30,171.62 447.52,170.85 447.74,173.22 447.96,173.26 448.18,174.10 448.40,172.61 448.62,173.56 448.84,172.25 449.06,173.41 449.28,173.50 449.50,174.10 449.72,173.18 449.94,173.89 450.16,173.68 450.38,174.10 450.60,173.70 450.82,173.65 451.04,174.03 451.26,173.88 451.48,173.98 451.70,173.73 451.92,173.90 452.14,173.48 452.36,173.61 452.58,173.95 452.80,173.96 453.02,173.93 453.24,174.05 453.46,173.75 453.68,173.96 453.90,173.98 454.12,173.89 454.34,173.93 454.56,173.74 454.78,173.79 455.00,173.90 455.22,174.00 455.44,173.79 455.66,173.81 455.88,173.95 456.10,173.97 456.32,173.80 456.54,174.05 456.76,173.55 456.98,173.77 457.20,174.01 457.42,173.89 457.64,173.80 457.86,173.89 458.08,173.91 458.30,173.99 458.52,173.95 458.74,173.98 458.96,174.06 459.18,173.83 459.40,173.91 459.62,173.94 459.84,174.06 460.06,174.07 460.28,173.75 460.50,173.84 460.72,173.87 460.94,173.69 461.16,173.86 461.38,174.04 461.60,174.05 461.82,173.98 462.04,173.99 462.26,173.81 462.48,173.99 462.70,174.03 462.92,174.03 463.14,173.64 463.36,173.87 463.58,173.86 463.80,174.01 464.02,173.91 464.24,174.09 464.46,174.06 464.68,173.54 464.90,173.63 465.12,173.85 465.34,174.00 465.56,173.91 465.78,174.05 466.00,173.97 466.22,174.10 466.44,173.86 466.66,173.71 466.88,173.78 467.10,174.00 467.32,173.73 467.54,174.01 467.76,173.80 467.98,173.97 468.20,173.84 468.42,174.10 468.64,173.88 468.86,173.94 469.08,173.93 469.30,173.58 469.52,173.59 469.74,174.04 469.96,173.84 470.18,173.78 470.40,174.03 470.62,173.58 470.84,173.75 471.06,173.87 471.28,173.75 471.50,173.81 471.72,173.91 471.94,174.01 472.16,174.05 472.38,173.87 472.60,173.96 472.82,173.92 473.04,174.07 473.26,173.64 473.48,174.01 473.70,173.49 473.92,174.01 474.14,174.04 474.36,174.01 474.58,174.09 474.80,173.89 475.02,173.73 475.24,173.93" fill="none" stroke="#3345a8" stroke-width="1.0" stroke-linejoin="miter"/>
<rect x="435.80" y="135.20" width="39.90" height="39.70" fill="none" stroke="#2a2a2a" stroke-width="0.9"/>
<line x1="435.80" y1="174.90" x2="475.70" y2="174.90" stroke="#222" stroke-width="1.3"/>
<line x1="435.80" y1="176.20" x2="475.70" y2="176.20" stroke="#bbb" stroke-width="0.9"/>
<rect x="478.80" y="135.20" width="39.50" height="39.70" fill="#fff"/>
<polygon points="479.30,174.10 479.30,169.82 479.52,169.51 479.74,169.20 479.96,168.90 480.18,168.62 480.40,168.34 480.62,168.08 480.84,167.83 481.06,167.59 481.28,167.37 481.50,167.14 481.72,166.92 481.94,166.70 482.16,166.46 482.38,166.22 482.60,165.95 482.82,165.66 483.04,165.33 483.26,164.98 483.48,164.58 483.70,164.14 483.92,163.65 484.14,163.12 484.36,162.54 484.58,161.93 484.80,161.27 485.02,160.58 485.24,159.86 485.46,159.12 485.68,158.37 485.90,157.62 486.12,156.87 486.34,156.14 486.56,155.44 486.78,154.78 487.00,154.16 487.22,153.60 487.44,153.11 487.66,152.69 487.88,152.35 488.10,152.10 488.32,151.95 488.54,151.88 488.76,151.94 488.98,152.20 489.20,152.65 489.42,153.28 489.64,154.08 489.86,155.02 490.08,156.08 490.30,157.24 490.52,158.46 490.74,159.74 490.96,161.02 491.18,162.30 491.40,163.56 491.62,164.76 491.84,165.91 492.06,166.98 492.28,167.96 492.50,168.86 492.72,169.67 492.94,170.38 493.16,171.01 493.38,171.56 493.60,172.03 493.82,172.43 494.04,172.76 494.26,172.93 494.48,172.92 494.70,172.90 494.92,172.87 495.14,172.83 495.36,172.77 495.58,172.71 495.80,172.63 496.02,172.53 496.24,172.41 496.46,172.28 496.68,172.13 496.90,171.96 497.12,171.76 497.34,171.54 497.56,171.30 497.78,171.04 498.00,170.74 498.22,170.43 498.44,170.08 498.66,169.71 498.88,169.30 499.10,168.87 499.32,168.41 499.54,167.93 499.76,167.42 499.98,166.88 500.20,166.31 500.42,165.73 500.64,165.12 500.86,164.49 501.08,163.85 501.30,163.20 501.52,162.53 501.74,161.85 501.96,161.18 502.18,160.50 502.40,159.83 502.62,159.17 502.84,158.52 503.06,157.89 503.28,157.28 503.50,156.70 503.72,156.15 503.94,155.63 504.16,155.15 504.38,154.72 504.60,154.34 504.82,154.00 505.04,153.72 505.26,153.49 505.48,153.32 505.70,153.21 505.92,153.16 506.14,153.17 506.36,153.24 506.58,153.38 506.80,153.58 507.02,153.85 507.24,154.17 507.46,154.55 507.68,154.98 507.90,155.46 508.12,155.98 508.34,156.55 508.56,157.15 508.78,157.78 509.00,158.44 509.22,159.11 509.44,159.80 509.66,160.51 509.88,161.22 510.10,161.93 510.32,162.63 510.54,163.33 510.76,164.02 510.98,164.69 511.20,165.35 511.42,165.98 511.64,166.60 511.86,167.19 512.08,167.75 512.30,168.28 512.52,168.79 512.74,169.27 512.96,169.71 513.18,170.13 513.40,170.52 513.62,170.88 513.84,171.22 514.06,171.53 514.28,171.81 514.50,172.07 514.72,172.30 514.94,172.51 515.16,172.70 515.38,172.88 515.60,173.03 515.82,173.17 516.04,173.29 516.26,173.40 516.48,173.50 516.70,173.58 516.92,173.65 517.14,173.72 517.36,173.77 517.58,173.82 517.80,173.87 517.80,174.10" fill="#fffbeb"/>
<polyline points="479.30,174.01 479.52,173.24 479.74,172.45 479.96,173.42 480.18,173.40 480.40,173.68 480.62,172.69 480.84,173.04 481.06,172.47 481.28,172.11 481.50,172.05 481.72,172.42 481.94,172.49 482.16,172.69 482.38,170.64 482.60,174.10 482.82,172.29 483.04,172.20 483.26,170.95 483.48,172.98 483.70,171.29 483.92,170.89 484.14,172.34 484.36,173.79 484.58,172.79 484.80,172.52 485.02,170.73 485.24,172.24 485.46,169.68 485.68,171.34 485.90,171.65 486.12,171.84 486.34,172.61 486.56,171.12 486.78,170.21 487.00,171.61 487.22,170.17 487.44,172.15 487.66,170.89 487.88,168.01 488.10,172.26 488.32,169.43 488.54,169.49 488.76,173.37 488.98,172.87 489.20,172.03 489.42,171.04 489.64,171.33 489.86,172.03 490.08,170.22 490.30,171.27 490.52,170.99 490.74,171.60 490.96,170.75 491.18,172.13 491.40,169.97 491.62,172.11 491.84,172.57 492.06,171.06 492.28,171.11 492.50,173.36 492.72,172.30 492.94,173.50 493.16,172.61 493.38,170.75 493.60,172.80 493.82,171.77 494.04,172.20 494.26,170.49 494.48,172.33 494.70,173.23 494.92,173.48 495.14,172.71 495.36,171.61 495.58,172.05 495.80,170.74 496.02,171.36 496.24,170.91 496.46,171.06 496.68,171.48 496.90,169.92 497.12,170.04 497.34,170.41 497.56,170.64 497.78,172.64 498.00,170.27 498.22,168.70 498.44,172.00 498.66,168.59 498.88,166.65 499.10,167.83 499.32,167.08 499.54,159.91 499.76,159.87 499.98,162.73 500.20,165.26 500.42,160.48 500.64,164.29 500.86,152.47 501.08,165.11 501.30,155.10 501.52,159.16 501.74,157.76 501.96,158.55 502.18,154.96 502.40,152.38 502.62,149.90 502.84,153.59 503.06,150.00 503.28,155.11 503.50,145.64 503.72,153.27 503.94,141.02 504.16,150.95 504.38,137.31 504.60,141.45 504.82,152.15 505.04,145.96 505.26,136.88 505.48,145.08 505.70,153.74 505.92,145.56 506.14,136.73 506.36,150.78 506.58,140.71 506.80,143.54 507.02,147.53 507.24,146.58 507.46,151.64 507.68,152.27 507.90,144.41 508.12,157.64 508.34,145.11 508.56,158.48 508.78,145.44 509.00,154.53 509.22,146.98 509.44,153.30 509.66,154.70 509.88,160.17 510.10,152.21 510.32,155.36 510.54,150.89 510.76,155.71 510.98,156.99 511.20,159.59 511.42,162.02 511.64,163.59 511.86,164.08 512.08,168.69 512.30,163.31 512.52,169.03 512.74,168.08 512.96,165.40 513.18,168.16 513.40,169.72 513.62,169.38 513.84,170.13 514.06,171.22 514.28,170.70 514.50,171.42 514.72,171.61 514.94,170.56 515.16,172.53 515.38,171.81 515.60,172.71 515.82,172.67 516.04,172.55 516.26,172.39 516.48,173.86 516.70,173.64 516.92,173.70 517.14,173.19 517.36,173.09 517.58,173.01 517.80,173.98" fill="none" stroke="#e8352a" stroke-width="1.0" stroke-linejoin="miter"/>
<polyline points="479.30,164.75 479.52,164.70 479.74,166.12 479.96,164.22 480.18,166.44 480.40,170.60 480.62,163.35 480.84,165.43 481.06,164.66 481.28,165.65 481.50,161.28 481.72,163.54 481.94,163.65 482.16,163.09 482.38,162.92 482.60,160.99 482.82,162.98 483.04,166.22 483.26,161.01 483.48,156.10 483.70,159.09 483.92,158.94 484.14,159.64 484.36,151.01 484.58,154.96 484.80,161.38 485.02,158.31 485.24,150.96 485.46,148.14 485.68,156.09 485.90,143.98 486.12,154.49 486.34,136.85 486.56,145.50 486.78,155.10 487.00,143.35 487.22,147.46 487.44,154.82 487.66,135.60 487.88,142.45 488.10,135.60 488.32,137.98 488.54,152.37 488.76,144.03 488.98,137.87 489.20,141.14 489.42,151.00 489.64,140.85 489.86,148.16 490.08,159.16 490.30,148.59 490.52,155.16 490.74,149.80 490.96,160.65 491.18,154.59 491.40,156.07 491.62,156.79 491.84,162.34 492.06,163.03 492.28,164.68 492.50,168.77 492.72,168.35 492.94,168.82 493.16,167.21 493.38,170.52 493.60,173.00 493.82,168.75 494.04,170.91 494.26,172.07 494.48,172.07 494.70,173.51 494.92,173.47 495.14,173.65 495.36,173.44 495.58,173.51 495.80,174.10 496.02,173.41 496.24,173.69 496.46,173.96 496.68,173.89 496.90,174.10 497.12,173.76 497.34,173.78 497.56,173.62 497.78,174.08 498.00,174.06 498.22,173.97 498.44,174.04 498.66,174.05 498.88,173.98 499.10,173.81 499.32,173.77 499.54,173.92 499.76,174.03 499.98,173.57 500.20,173.84 500.42,173.64 500.64,173.97 500.86,174.08 501.08,173.77 501.30,174.09 501.52,173.57 501.74,174.03 501.96,173.69 502.18,174.01 502.40,173.81 502.62,174.01 502.84,173.76 503.06,173.99 503.28,174.01 503.50,173.79 503.72,173.60 503.94,173.92 504.16,174.02 504.38,174.07 504.60,174.02 504.82,173.79 505.04,174.07 505.26,174.00 505.48,174.00 505.70,173.80 505.92,174.08 506.14,173.67 506.36,173.87 506.58,173.85 506.80,174.04 507.02,173.99 507.24,173.96 507.46,173.84 507.68,173.67 507.90,173.66 508.12,174.03 508.34,174.03 508.56,173.57 508.78,174.08 509.00,173.95 509.22,174.09 509.44,173.80 509.66,173.97 509.88,174.01 510.10,174.04 510.32,174.02 510.54,173.80 510.76,173.59 510.98,174.08 511.20,174.00 511.42,174.03 511.64,173.61 511.86,173.91 512.08,173.90 512.30,174.05 512.52,173.98 512.74,173.69 512.96,174.00 513.18,173.65 513.40,173.87 513.62,174.03 513.84,174.09 514.06,174.08 514.28,174.07 514.50,173.56 514.72,173.98 514.94,173.80 515.16,173.96 515.38,173.94 515.60,174.06 515.82,173.96 516.04,173.89 516.26,173.68 516.48,174.08 516.70,174.02 516.92,174.05 517.14,174.05 517.36,173.74 517.58,173.97 517.80,173.81" fill="none" stroke="#3345a8" stroke-width="1.0" stroke-linejoin="miter"/>
<rect x="478.80" y="135.20" width="39.50" height="39.70" fill="none" stroke="#2a2a2a" stroke-width="0.9"/>
<line x1="478.80" y1="174.90" x2="518.30" y2="174.90" stroke="#222" stroke-width="1.3"/>
<line x1="478.80" y1="176.20" x2="518.30" y2="176.20" stroke="#bbb" stroke-width="0.9"/>
<rect x="392.50" y="177.30" width="40.30" height="40.00" fill="#fff"/>
<polygon points="393.00,216.50 393.00,210.68 393.22,210.21 393.44,209.72 393.66,209.21 393.88,208.67 394.10,208.12 394.32,207.55 394.54,206.96 394.76,206.36 394.98,205.75 395.20,205.12 395.42,204.49 395.64,203.86 395.86,203.22 396.08,202.58 396.30,201.95 396.52,201.33 396.74,200.71 396.96,200.11 397.18,199.53 397.40,198.97 397.62,198.43 397.84,197.92 398.06,197.44 398.28,197.00 398.50,196.59 398.72,196.22 398.94,195.90 399.16,195.62 399.38,195.38 399.60,195.20 399.82,195.06 400.04,194.98 400.26,194.94 400.48,195.01 400.70,195.26 400.92,195.71 401.14,196.31 401.36,196.67 401.58,197.18 401.80,197.81 402.02,198.55 402.24,199.38 402.46,200.29 402.68,201.26 402.90,202.26 403.12,203.29 403.34,204.32 403.56,205.33 403.78,206.32 404.00,207.26 404.22,208.15 404.44,208.98 404.66,209.74 404.88,210.43 405.10,211.06 405.32,211.61 405.54,212.09 405.76,212.51 405.98,212.88 406.20,213.19 406.42,213.47 406.64,213.70 406.86,213.91 407.08,214.09 407.30,214.26 407.52,214.40 407.74,214.53 407.96,214.64 408.18,214.74 408.40,214.84 408.62,214.92 408.84,215.00 409.06,215.07 409.28,215.15 409.50,215.22 409.72,215.29 409.94,215.36 410.16,215.43 410.38,215.49 410.60,215.56 410.82,215.63 411.04,215.69 411.26,215.75 411.48,215.81 411.70,215.87 411.92,215.93 412.14,215.98 412.36,216.03 412.58,216.08 412.80,216.12 413.02,216.16 413.24,216.20 413.46,216.24 413.68,216.27 413.90,216.30 414.12,216.32 414.34,216.35 414.56,216.37 414.78,216.39 415.00,216.40 415.22,216.42 415.44,216.43 415.66,216.44 415.88,216.45 416.10,216.46 416.32,216.46 416.54,216.47 416.76,216.48 416.98,216.48 417.20,216.48 417.42,216.49 417.64,216.49 417.86,216.49 418.08,216.49 418.30,216.49 418.52,216.50 418.74,216.50 418.96,216.50 419.18,216.50 419.40,216.50 419.62,216.50 419.84,216.50 420.06,216.50 420.28,216.50 420.50,216.50 420.72,216.50 420.94,216.50 421.16,216.50 421.38,216.50 421.60,216.50 421.82,216.50 422.04,216.50 422.26,216.50 422.48,216.50 422.70,216.50 422.92,216.50 423.14,216.50 423.36,216.50 423.58,216.50 423.80,216.50 424.02,216.50 424.24,216.50 424.46,216.50 424.68,216.50 424.90,216.50 425.12,216.50 425.34,216.50 425.56,216.50 425.78,216.50 426.00,216.50 426.22,216.50 426.44,216.50 426.66,216.50 426.88,216.50 427.10,216.50 427.32,216.50 427.54,216.50 427.76,216.50 427.98,216.50 428.20,216.50 428.42,216.50 428.64,216.50 428.86,216.50 429.08,216.50 429.30,216.50 429.52,216.50 429.74,216.50 429.96,216.50 430.18,216.50 430.40,216.50 430.62,216.50 430.84,216.50 431.06,216.50 431.28,216.50 431.50,216.50 431.72,216.50 431.94,216.50 432.16,216.50 432.38,216.50 432.38,216.50" fill="#fffbeb"/>
<polyline points="393.00,210.52 393.22,210.50 393.44,209.69 393.66,207.25 393.88,207.00 394.10,202.91 394.32,208.25 394.54,203.87 394.76,208.66 394.98,198.57 395.20,202.13 395.42,199.88 395.64,203.20 395.86,195.39 396.08,192.16 396.30,192.13 396.52,197.67 396.74,192.22 396.96,198.63 397.18,202.17 397.40,196.88 397.62,195.95 397.84,198.62 398.06,194.83 398.28,196.91 398.50,187.43 398.72,185.58 398.94,183.14 399.16,191.92 399.38,186.28 399.60,185.78 399.82,193.36 400.04,186.81 400.26,189.68 400.48,186.14 400.70,190.11 400.92,182.18 401.14,177.70 401.36,180.56 401.58,195.84 401.80,192.71 402.02,197.54 402.24,191.37 402.46,194.70 402.68,197.82 402.90,192.98 403.12,194.96 403.34,202.93 403.56,199.20 403.78,200.79 404.00,202.54 404.22,206.71 404.44,209.51 404.66,206.83 404.88,213.70 405.10,211.20 405.32,207.01 405.54,210.39 405.76,211.39 405.98,213.31 406.20,213.44 406.42,213.13 406.64,213.14 406.86,212.14 407.08,211.49 407.30,213.98 407.52,214.79 407.74,212.42 407.96,215.64 408.18,213.50 408.40,214.81 408.62,215.12 408.84,214.62 409.06,214.02 409.28,215.42 409.50,216.15 409.72,214.79 409.94,214.74 410.16,216.50 410.38,213.97 410.60,215.20 410.82,215.22 411.04,215.42 411.26,215.91 411.48,216.10 411.70,214.78 411.92,215.49 412.14,215.71 412.36,214.75 412.58,216.30 412.80,215.02 413.02,215.58 413.24,216.20 413.46,215.56 413.68,216.50 413.90,215.72 414.12,216.50 414.34,216.19 414.56,215.69 414.78,216.21 415.00,216.42 415.22,216.29 415.44,216.21 415.66,216.13 415.88,216.50 416.10,216.26 416.32,216.29 416.54,216.34 416.76,216.11 416.98,216.38 417.20,216.23 417.42,216.21 417.64,216.39 417.86,216.50 418.08,216.27 418.30,216.37 418.52,216.47 418.74,216.28 418.96,216.47 419.18,216.32 419.40,216.36 419.62,216.41 419.84,216.21 420.06,216.23 420.28,216.17 420.50,216.28 420.72,216.40 420.94,216.20 421.16,216.40 421.38,216.47 421.60,216.36 421.82,216.35 422.04,216.45 422.26,216.44 422.48,216.44 422.70,216.42 422.92,216.25 423.14,216.39 423.36,216.19 423.58,216.37 423.80,216.40 424.02,216.35 424.24,216.35 424.46,215.79 424.68,216.43 424.90,216.48 425.12,216.30 425.34,216.18 425.56,216.37 425.78,216.28 426.00,216.26 426.22,216.44 426.44,216.40 426.66,216.29 426.88,216.42 427.10,216.28 427.32,216.41 427.54,216.20 427.76,216.26 427.98,216.33 428.20,216.04 428.42,216.33 428.64,216.39 428.86,216.27 429.08,216.46 429.30,216.36 429.52,216.35 429.74,216.45 429.96,216.32 430.18,216.33 430.40,216.48 430.62,216.31 430.84,216.26 431.06,216.35 431.28,216.35 431.50,216.37 431.72,216.44 431.94,216.18 432.16,216.42 432.38,216.40" fill="none" stroke="#e8352a" stroke-width="1.0" stroke-linejoin="miter"/>
<polyline points="393.00,207.07 393.22,207.34 393.44,210.86 393.66,206.15 393.88,203.65 394.10,198.27 394.32,203.57 394.54,198.47 394.76,195.70 394.98,207.17 395.20,202.53 395.42,203.65 395.64,200.29 395.86,195.83 396.08,200.88 396.30,193.00 396.52,193.94 396.74,187.84 396.96,192.17 397.18,193.47 397.40,187.69 397.62,188.64 397.84,191.84 398.06,181.07 398.28,190.52 398.50,177.70 398.72,177.70 398.94,182.56 399.16,191.35 399.38,186.34 399.60,183.87 399.82,197.21 400.04,183.55 400.26,183.54 400.48,187.96 400.70,186.23 400.92,181.30 401.14,181.46 401.36,197.35 401.58,192.31 401.80,185.61 402.02,193.82 402.24,199.34 402.46,202.29 402.68,193.81 402.90,204.88 403.12,208.25 403.34,207.62 403.56,204.74 403.78,206.05 404.00,212.89 404.22,209.77 404.44,212.03 404.66,211.32 404.88,212.34 405.10,212.30 405.32,213.18 405.54,214.82 405.76,213.85 405.98,213.85 406.20,214.87 406.42,214.48 406.64,216.00 406.86,215.39 407.08,216.03 407.30,216.50 407.52,216.12 407.74,216.30 407.96,216.20 408.18,216.04 408.40,216.01 408.62,216.49 408.84,216.36 409.06,216.50 409.28,216.10 409.50,216.11 409.72,216.19 409.94,216.26 410.16,216.35 410.38,216.20 410.60,216.15 410.82,216.44 411.04,216.44 411.26,216.41 411.48,216.50 411.70,216.22 411.92,216.26 412.14,216.34 412.36,216.30 412.58,216.35 412.80,216.13 413.02,215.94 413.24,216.24 413.46,216.42 413.68,216.24 413.90,216.35 414.12,216.45 414.34,216.25 414.56,216.11 414.78,216.47 415.00,216.41 415.22,216.24 415.44,216.27 415.66,216.30 415.88,216.44 416.10,216.43 416.32,216.42 416.54,216.43 416.76,216.45 416.98,216.14 417.20,216.44 417.42,216.24 417.64,216.49 417.86,216.15 418.08,216.36 418.30,216.50 418.52,216.40 418.74,216.41 418.96,216.45 419.18,216.29 419.40,216.44 419.62,216.28 419.84,216.24 420.06,216.28 420.28,216.30 420.50,216.41 420.72,216.40 420.94,216.28 421.16,216.20 421.38,216.48 421.60,216.04 421.82,216.40 422.04,216.32 422.26,216.20 422.48,216.37 422.70,216.31 422.92,216.40 423.14,216.43 423.36,216.31 423.58,216.16 423.80,216.37 424.02,216.46 424.24,216.17 424.46,216.38 424.68,216.41 424.90,216.42 425.12,216.35 425.34,216.47 425.56,216.13 425.78,216.46 426.00,216.46 426.22,216.40 426.44,215.89 426.66,216.11 426.88,216.37 427.10,216.34 427.32,216.32 427.54,216.45 427.76,216.46 427.98,216.48 428.20,216.28 428.42,216.30 428.64,216.38 428.86,216.43 429.08,215.98 429.30,216.49 429.52,216.20 429.74,216.33 429.96,216.45 430.18,216.14 430.40,216.30 430.62,216.22 430.84,216.19 431.06,216.41 431.28,215.93 431.50,216.34 431.72,216.18 431.94,216.39 432.16,216.45 432.38,216.10" fill="none" stroke="#3345a8" stroke-width="1.0" stroke-linejoin="miter"/>
<rect x="392.50" y="177.30" width="40.30" height="40.00" fill="none" stroke="#2a2a2a" stroke-width="0.9"/>
<line x1="392.50" y1="217.30" x2="432.80" y2="217.30" stroke="#222" stroke-width="1.3"/>
<line x1="392.50" y1="218.60" x2="432.80" y2="218.60" stroke="#bbb" stroke-width="0.9"/>
<rect x="435.80" y="177.30" width="39.90" height="40.00" fill="#fff"/>
<polygon points="436.30,216.50 436.30,201.52 436.52,200.80 436.74,200.11 436.96,199.45 437.18,198.83 437.40,198.24 437.62,197.69 437.84,197.19 438.06,196.72 438.28,196.30 438.50,195.91 438.72,195.57 438.94,195.26 439.16,194.98 439.38,194.74 439.60,194.54 439.82,194.37 440.04,194.22 440.26,194.11 440.48,194.03 440.70,193.98 440.92,193.96 441.14,193.97 441.36,194.02 441.58,194.09 441.80,194.21 442.02,194.40 442.24,194.73 442.46,195.19 442.68,195.78 442.90,196.48 443.12,197.28 443.34,198.17 443.56,199.14 443.78,200.17 444.00,201.24 444.22,202.34 444.44,203.45 444.66,204.56 444.88,205.64 445.10,206.70 445.32,206.45 445.54,205.93 445.76,205.40 445.98,204.85 446.20,204.30 446.42,203.73 446.64,203.17 446.86,202.60 447.08,202.03 447.30,201.47 447.52,200.91 447.74,200.36 447.96,199.83 448.18,199.31 448.40,198.80 448.62,198.32 448.84,197.86 449.06,197.42 449.28,197.02 449.50,196.64 449.72,196.30 449.94,195.99 450.16,195.72 450.38,195.49 450.60,195.30 450.82,195.14 451.04,195.03 451.26,194.96 451.48,194.94 451.70,194.95 451.92,194.98 452.14,195.04 452.36,195.12 452.58,195.23 452.80,195.36 453.02,195.51 453.24,195.69 453.46,195.88 453.68,196.10 453.90,196.34 454.12,196.59 454.34,196.87 454.56,197.16 454.78,197.47 455.00,197.80 455.22,198.14 455.44,198.50 455.66,198.87 455.88,199.25 456.10,199.64 456.32,200.04 456.54,200.45 456.76,200.87 456.98,201.29 457.20,201.72 457.42,202.15 457.64,202.59 457.86,203.02 458.08,203.46 458.30,203.90 458.52,204.34 458.74,204.77 458.96,205.21 459.18,205.64 459.40,206.06 459.62,206.48 459.84,206.89 460.06,207.30 460.28,207.70 460.50,208.09 460.72,208.47 460.94,208.84 461.16,209.21 461.38,209.56 461.60,209.91 461.82,210.24 462.04,210.57 462.26,210.88 462.48,211.19 462.70,211.48 462.92,211.76 463.14,212.03 463.36,212.29 463.58,212.54 463.80,212.78 464.02,213.01 464.24,213.23 464.46,213.44 464.68,213.64 464.90,213.82 465.12,214.00 465.34,214.17 465.56,214.33 465.78,214.48 466.00,214.63 466.22,214.76 466.44,214.89 466.66,215.01 466.88,215.12 467.10,215.22 467.32,215.32 467.54,215.42 467.76,215.50 467.98,215.58 468.20,215.66 468.42,215.73 468.64,215.79 468.86,215.85 469.08,215.91 469.30,215.96 469.52,216.00 469.74,216.05 469.96,216.09 470.18,216.13 470.40,216.16 470.62,216.19 470.84,216.22 471.06,216.25 471.28,216.27 471.50,216.29 471.72,216.31 471.94,216.33 472.16,216.35 472.38,216.36 472.60,216.38 472.82,216.39 473.04,216.40 473.26,216.41 473.48,216.42 473.70,216.43 473.92,216.44 474.14,216.44 474.36,216.45 474.58,216.46 474.80,216.46 475.02,216.47 475.24,216.47 475.24,216.50" fill="#fffbeb"/>
<polyline points="436.30,211.41 436.52,211.79 436.74,210.50 436.96,210.33 437.18,211.89 437.40,212.33 437.62,210.37 437.84,210.95 438.06,208.99 438.28,211.65 438.50,211.50 438.72,212.47 438.94,212.17 439.16,209.91 439.38,215.54 439.60,210.19 439.82,208.67 440.04,209.62 440.26,210.95 440.48,208.56 440.70,208.58 440.92,209.08 441.14,207.08 441.36,210.48 441.58,207.91 441.80,208.78 442.02,206.81 442.24,208.99 442.46,207.86 442.68,204.88 442.90,209.20 443.12,209.83 443.34,203.39 443.56,208.32 443.78,206.73 444.00,207.76 444.22,204.66 444.44,203.11 444.66,205.10 444.88,201.03 445.10,204.29 445.32,203.30 445.54,199.70 445.76,190.78 445.98,204.34 446.20,198.51 446.42,198.20 446.64,197.20 446.86,195.29 447.08,195.48 447.30,192.60 447.52,190.10 447.74,193.16 447.96,193.51 448.18,187.79 448.40,190.89 448.62,191.69 448.84,193.53 449.06,187.81 449.28,193.32 449.50,190.29 449.72,193.32 449.94,187.93 450.16,188.17 450.38,185.62 450.60,185.82 450.82,182.67 451.04,180.77 451.26,188.18 451.48,184.49 451.70,184.00 451.92,177.70 452.14,186.35 452.36,190.22 452.58,179.55 452.80,185.63 453.02,191.03 453.24,184.25 453.46,177.70 453.68,190.49 453.90,182.63 454.12,188.96 454.34,183.10 454.56,177.70 454.78,186.46 455.00,185.89 455.22,186.86 455.44,193.42 455.66,185.98 455.88,187.37 456.10,187.90 456.32,188.42 456.54,184.44 456.76,198.10 456.98,191.47 457.20,187.30 457.42,200.59 457.64,201.25 457.86,198.81 458.08,195.54 458.30,202.41 458.52,198.43 458.74,201.81 458.96,204.86 459.18,204.99 459.40,201.26 459.62,203.96 459.84,202.27 460.06,208.09 460.28,199.20 460.50,208.69 460.72,204.19 460.94,210.11 461.16,204.85 461.38,209.59 461.60,207.67 461.82,208.98 462.04,206.71 462.26,207.65 462.48,210.21 462.70,209.82 462.92,204.95 463.14,212.11 463.36,208.92 463.58,212.76 463.80,211.23 464.02,207.34 464.24,211.57 464.46,211.63 464.68,211.67 464.90,212.71 465.12,213.73 465.34,214.96 465.56,213.61 465.78,214.11 466.00,213.98 466.22,212.84 466.44,214.05 466.66,214.65 466.88,212.57 467.10,216.50 467.32,214.52 467.54,214.51 467.76,215.15 467.98,215.95 468.20,214.65 468.42,214.34 468.64,214.67 468.86,215.16 469.08,214.63 469.30,215.08 469.52,214.80 469.74,215.15 469.96,215.65 470.18,215.83 470.40,215.63 470.62,215.44 470.84,215.93 471.06,215.48 471.28,215.97 471.50,216.36 471.72,216.08 471.94,216.32 472.16,216.25 472.38,216.50 472.60,216.06 472.82,216.22 473.04,216.39 473.26,216.13 473.48,216.20 473.70,216.50 473.92,215.72 474.14,216.47 474.36,215.95 474.58,215.91 474.80,216.44 475.02,216.19 475.24,216.50" fill="none" stroke="#e8352a" stroke-width="1.0" stroke-linejoin="miter"/>
<polyline points="436.30,190.58 436.52,182.88 436.74,203.28 436.96,191.77 437.18,189.79 437.40,191.44 437.62,185.16 437.84,180.95 438.06,184.38 438.28,190.98 438.50,179.76 438.72,190.24 438.94,186.17 439.16,183.91 439.38,189.30 439.60,182.54 439.82,177.70 440.04,179.65 440.26,178.59 440.48,196.57 440.70,178.19 440.92,184.32 441.14,185.60 441.36,188.96 441.58,177.70 441.80,185.76 442.02,179.08 442.24,183.46 442.46,184.57 442.68,184.08 442.90,196.36 443.12,193.73 443.34,187.83 443.56,197.66 443.78,192.00 444.00,197.37 444.22,199.21 444.44,192.89 444.66,203.44 444.88,203.84 445.10,204.35 445.32,208.84 445.54,204.49 445.76,202.23 445.98,206.88 446.20,212.42 446.42,209.75 446.64,213.20 446.86,209.21 447.08,212.00 447.30,213.46 447.52,214.81 447.74,213.39 447.96,213.00 448.18,215.72 448.40,215.57 448.62,216.47 448.84,215.12 449.06,215.34 449.28,214.85 449.50,215.93 449.72,216.02 449.94,216.25 450.16,215.81 450.38,216.50 450.60,216.00 450.82,216.23 451.04,216.28 451.26,216.44 451.48,216.32 451.70,216.15 451.92,216.33 452.14,216.28 452.36,216.28 452.58,216.25 452.80,216.48 453.02,216.45 453.24,216.47 453.46,216.47 453.68,216.46 453.90,216.46 454.12,216.01 454.34,216.24 454.56,216.35 454.78,216.43 455.00,216.30 455.22,216.25 455.44,216.27 455.66,216.37 455.88,216.21 456.10,216.09 456.32,216.20 456.54,216.34 456.76,216.20 456.98,216.18 457.20,216.20 457.42,216.29 457.64,216.30 457.86,216.48 458.08,216.37 458.30,216.23 458.52,216.18 458.74,216.24 458.96,216.27 459.18,216.44 459.40,216.28 459.62,216.43 459.84,216.22 460.06,216.24 460.28,216.28 460.50,216.16 460.72,216.29 460.94,216.48 461.16,216.22 461.38,216.32 461.60,216.16 461.82,216.27 462.04,216.07 462.26,216.38 462.48,216.27 462.70,216.38 462.92,216.33 463.14,216.17 463.36,216.34 463.58,216.46 463.80,216.31 464.02,216.49 464.24,216.22 464.46,216.43 464.68,216.33 464.90,216.15 465.12,216.45 465.34,216.25 465.56,216.44 465.78,216.36 466.00,216.38 466.22,216.30 466.44,216.19 466.66,216.49 466.88,216.30 467.10,216.39 467.32,216.23 467.54,216.41 467.76,216.17 467.98,216.39 468.20,216.07 468.42,216.44 468.64,216.35 468.86,216.02 469.08,216.50 469.30,216.49 469.52,216.35 469.74,216.43 469.96,216.37 470.18,216.29 470.40,216.49 470.62,216.31 470.84,216.17 471.06,216.22 471.28,216.49 471.50,216.34 471.72,216.17 471.94,216.08 472.16,215.99 472.38,216.13 472.60,216.16 472.82,216.47 473.04,215.94 473.26,215.99 473.48,216.17 473.70,216.17 473.92,216.45 474.14,216.37 474.36,216.50 474.58,216.27 474.80,216.46 475.02,216.12 475.24,216.42" fill="none" stroke="#3345a8" stroke-width="1.0" stroke-linejoin="miter"/>
<rect x="435.80" y="177.30" width="39.90" height="40.00" fill="none" stroke="#2a2a2a" stroke-width="0.9"/>
<line x1="435.80" y1="217.30" x2="475.70" y2="217.30" stroke="#222" stroke-width="1.3"/>
<line x1="435.80" y1="218.60" x2="475.70" y2="218.60" stroke="#bbb" stroke-width="0.9"/>
<rect x="478.80" y="177.30" width="39.50" height="40.00" fill="#fff"/>
<polygon points="479.30,216.50 479.30,209.37 479.52,208.86 479.74,208.36 479.96,207.88 480.18,207.42 480.40,206.99 480.62,206.59 480.84,206.24 481.06,205.93 481.28,205.68 481.50,205.47 481.72,205.32 481.94,205.23 482.16,205.20 482.38,205.28 482.60,205.47 482.82,205.74 483.04,206.08 483.26,206.48 483.48,206.91 483.70,207.34 483.92,207.75 484.14,208.12 484.36,208.42 484.58,208.64 484.80,208.76 485.02,208.76 485.24,208.64 485.46,208.39 485.68,208.01 485.90,207.51 486.12,206.88 486.34,206.14 486.56,205.31 486.78,204.40 487.00,203.44 487.22,202.44 487.44,201.42 487.66,200.42 487.88,199.46 488.10,198.55 488.32,197.74 488.54,197.02 488.76,196.43 488.98,195.99 489.20,195.69 489.42,195.55 489.64,195.59 489.86,195.85 490.08,196.31 490.30,196.98 490.52,197.82 490.74,198.81 490.96,199.93 491.18,201.15 491.40,202.42 491.62,203.73 491.84,205.03 492.06,206.31 492.28,207.55 492.50,208.72 492.72,209.81 492.94,210.80 493.16,211.70 493.38,212.50 493.60,213.20 493.82,213.81 494.04,214.33 494.26,214.77 494.48,215.13 494.70,215.43 494.92,215.53 495.14,215.52 495.36,215.50 495.58,215.47 495.80,215.43 496.02,215.37 496.24,215.29 496.46,215.20 496.68,215.09 496.90,214.96 497.12,214.81 497.34,214.64 497.56,214.44 497.78,214.21 498.00,213.96 498.22,213.67 498.44,213.36 498.66,213.01 498.88,212.62 499.10,212.21 499.32,211.76 499.54,211.27 499.76,210.75 499.98,210.19 500.20,209.60 500.42,208.98 500.64,208.32 500.86,207.64 501.08,206.93 501.30,206.20 501.52,205.45 501.74,204.69 501.96,203.92 502.18,203.15 502.40,202.37 502.62,201.61 502.84,200.85 503.06,200.12 503.28,199.41 503.50,198.73 503.72,198.10 503.94,197.50 504.16,196.96 504.38,196.47 504.60,196.04 504.82,195.68 505.04,195.39 505.26,195.17 505.48,195.02 505.70,194.95 505.92,194.95 506.14,195.03 506.36,195.19 506.58,195.41 506.80,195.72 507.02,196.09 507.24,196.52 507.46,197.01 507.68,197.56 507.90,198.16 508.12,198.81 508.34,199.49 508.56,200.20 508.78,200.94 509.00,201.70 509.22,202.47 509.44,203.25 509.66,204.03 509.88,204.80 510.10,205.57 510.32,206.32 510.54,207.05 510.76,207.76 510.98,208.45 511.20,209.11 511.42,209.74 511.64,210.34 511.86,210.90 512.08,211.43 512.30,211.93 512.52,212.39 512.74,212.82 512.96,213.22 513.18,213.58 513.40,213.91 513.62,214.22 513.84,214.49 514.06,214.74 514.28,214.96 514.50,215.16 514.72,215.34 514.94,215.50 515.16,215.64 515.38,215.76 515.60,215.87 515.82,215.96 516.04,216.04 516.26,216.11 516.48,216.17 516.70,216.23 516.92,216.27 517.14,216.31 517.36,216.34 517.58,216.37 517.80,216.39 517.80,216.50" fill="#fffbeb"/>
<polyline points="479.30,215.77 479.52,215.00 479.74,215.04 479.96,215.32 480.18,214.92 480.40,215.19 480.62,214.76 480.84,215.93 481.06,215.71 481.28,214.80 481.50,215.95 481.72,215.11 481.94,214.12 482.16,213.71 482.38,215.41 482.60,215.39 482.82,214.25 483.04,214.57 483.26,215.10 483.48,214.52 483.70,213.89 483.92,214.39 484.14,211.98 484.36,213.16 484.58,212.95 484.80,213.33 485.02,210.66 485.24,212.95 485.46,214.56 485.68,214.03 485.90,213.65 486.12,214.03 486.34,213.20 486.56,213.63 486.78,213.28 487.00,214.42 487.22,213.17 487.44,215.02 487.66,213.20 487.88,214.32 488.10,212.53 488.32,216.50 488.54,211.74 488.76,216.16 488.98,214.76 489.20,213.00 489.42,214.41 489.64,215.27 489.86,216.28 490.08,214.35 490.30,213.87 490.52,213.42 490.74,213.78 490.96,213.70 491.18,213.25 491.40,215.06 491.62,214.66 491.84,212.31 492.06,214.32 492.28,213.00 492.50,214.28 492.72,212.98 492.94,215.41 493.16,214.11 493.38,214.60 493.60,214.82 493.82,214.20 494.04,215.46 494.26,214.65 494.48,215.68 494.70,214.38 494.92,215.24 495.14,216.13 495.36,215.60 495.58,214.83 495.80,215.54 496.02,213.92 496.24,214.57 496.46,213.80 496.68,214.34 496.90,214.60 497.12,212.97 497.34,215.02 497.56,212.78 497.78,212.75 498.00,212.97 498.22,212.04 498.44,212.50 498.66,211.97 498.88,212.75 499.10,212.76 499.32,206.42 499.54,209.88 499.76,213.16 499.98,205.57 500.20,206.50 500.42,214.21 500.64,206.85 500.86,200.08 501.08,199.58 501.30,197.72 501.52,200.20 501.74,199.98 501.96,201.86 502.18,193.37 502.40,188.88 502.62,192.95 502.84,194.30 503.06,205.51 503.28,191.92 503.50,193.53 503.72,182.64 503.94,182.93 504.16,185.33 504.38,187.05 504.60,184.99 504.82,185.34 505.04,181.31 505.26,177.70 505.48,181.20 505.70,186.23 505.92,177.70 506.14,184.92 506.36,179.44 506.58,188.46 506.80,189.20 507.02,200.09 507.24,178.79 507.46,187.47 507.68,187.80 507.90,184.73 508.12,192.31 508.34,194.70 508.56,183.42 508.78,196.07 509.00,201.37 509.22,195.26 509.44,190.34 509.66,189.25 509.88,201.29 510.10,200.83 510.32,197.28 510.54,199.15 510.76,202.24 510.98,202.93 511.20,208.63 511.42,203.99 511.64,204.61 511.86,211.13 512.08,210.83 512.30,210.85 512.52,211.04 512.74,209.13 512.96,211.19 513.18,212.31 513.40,211.84 513.62,212.79 513.84,212.69 514.06,212.54 514.28,214.83 514.50,214.71 514.72,214.95 514.94,214.04 515.16,215.17 515.38,213.72 515.60,215.28 515.82,215.49 516.04,216.17 516.26,215.87 516.48,215.76 516.70,215.90 516.92,216.08 517.14,216.28 517.36,215.86 517.58,215.95 517.80,215.86" fill="none" stroke="#e8352a" stroke-width="1.0" stroke-linejoin="miter"/>
<polyline points="479.30,204.73 479.52,207.15 479.74,207.92 479.96,193.06 480.18,206.78 480.40,199.98 480.62,202.88 480.84,208.89 481.06,207.49 481.28,200.87 481.50,208.85 481.72,197.91 481.94,202.13 482.16,200.70 482.38,196.99 482.60,204.10 482.82,198.79 483.04,205.54 483.26,204.56 483.48,194.21 483.70,189.95 483.92,201.61 484.14,201.82 484.36,202.92 484.58,207.33 484.80,201.28 485.02,202.60 485.24,205.09 485.46,198.84 485.68,208.95 485.90,196.43 486.12,210.53 486.34,201.76 486.56,198.97 486.78,199.37 487.00,200.61 487.22,201.73 487.44,195.88 487.66,197.64 487.88,198.01 488.10,200.45 488.32,185.04 488.54,190.61 488.76,186.86 488.98,191.58 489.20,191.23 489.42,177.70 489.64,184.11 489.86,196.29 490.08,181.56 490.30,192.80 490.52,184.13 490.74,197.97 490.96,198.25 491.18,195.81 491.40,198.65 491.62,196.26 491.84,202.28 492.06,200.32 492.28,199.55 492.50,206.16 492.72,211.23 492.94,210.04 493.16,210.43 493.38,209.57 493.60,210.96 493.82,213.22 494.04,216.50 494.26,214.78 494.48,215.42 494.70,215.33 494.92,215.83 495.14,215.28 495.36,216.11 495.58,214.28 495.80,215.75 496.02,216.20 496.24,216.25 496.46,216.34 496.68,216.25 496.90,216.32 497.12,216.40 497.34,216.17 497.56,216.33 497.78,216.44 498.00,216.33 498.22,216.43 498.44,216.48 498.66,216.14 498.88,216.50 499.10,216.35 499.32,216.41 499.54,216.32 499.76,216.45 499.98,216.46 500.20,216.42 500.42,216.46 500.64,216.41 500.86,216.39 501.08,216.08 501.30,216.23 501.52,215.84 501.74,216.31 501.96,216.23 502.18,216.18 502.40,216.47 502.62,216.22 502.84,216.49 503.06,216.46 503.28,216.11 503.50,216.30 503.72,216.35 503.94,216.28 504.16,216.09 504.38,216.38 504.60,216.41 504.82,216.44 505.04,216.30 505.26,216.06 505.48,216.31 505.70,216.13 505.92,216.41 506.14,216.46 506.36,216.45 506.58,216.45 506.80,216.39 507.02,216.26 507.24,216.28 507.46,216.08 507.68,216.49 507.90,216.41 508.12,216.30 508.34,216.10 508.56,216.35 508.78,216.33 509.00,216.31 509.22,216.31 509.44,216.49 509.66,216.49 509.88,216.26 510.10,216.41 510.32,216.26 510.54,216.46 510.76,216.37 510.98,216.46 511.20,216.46 511.42,216.46 511.64,216.46 511.86,216.26 512.08,216.14 512.30,216.23 512.52,216.33 512.74,216.45 512.96,216.12 513.18,216.47 513.40,216.29 513.62,215.77 513.84,216.24 514.06,216.25 514.28,216.27 514.50,216.22 514.72,215.97 514.94,216.44 515.16,216.29 515.38,216.19 515.60,216.34 515.82,216.36 516.04,216.24 516.26,216.41 516.48,216.38 516.70,216.15 516.92,215.95 517.14,216.38 517.36,216.31 517.58,216.29 517.80,216.47" fill="none" stroke="#3345a8" stroke-width="1.0" stroke-linejoin="miter"/>
<rect x="478.80" y="177.30" width="39.50" height="40.00" fill="none" stroke="#2a2a2a" stroke-width="0.9"/>
<line x1="478.80" y1="217.30" x2="518.30" y2="217.30" stroke="#222" stroke-width="1.3"/>
<line x1="478.80" y1="218.60" x2="518.30" y2="218.60" stroke="#bbb" stroke-width="0.9"/>
<rect x="392.50" y="219.50" width="40.30" height="39.80" fill="#fff"/>
<polygon points="393.00,258.50 393.00,253.64 393.22,253.08 393.44,252.48 393.66,251.83 393.88,251.16 394.10,250.44 394.32,249.69 394.54,248.91 394.76,248.11 394.98,247.28 395.20,246.44 395.42,245.58 395.64,244.72 395.86,243.87 396.08,243.02 396.30,242.19 396.52,241.39 396.74,240.62 396.96,239.89 397.18,239.21 397.40,238.59 397.62,238.03 397.84,237.55 398.06,237.13 398.28,236.80 398.50,236.56 398.72,236.40 398.94,236.33 399.16,236.38 399.38,236.63 399.60,237.07 399.82,237.69 400.04,238.07 400.26,238.57 400.48,239.21 400.70,239.96 400.92,240.81 401.14,241.74 401.36,242.73 401.58,243.76 401.80,244.82 402.02,245.88 402.24,246.93 402.46,247.95 402.68,248.92 402.90,249.84 403.12,250.71 403.34,251.50 403.56,252.22 403.78,252.87 404.00,253.45 404.22,253.95 404.44,254.40 404.66,254.78 404.88,255.11 405.10,255.40 405.32,255.64 405.54,255.86 405.76,256.05 405.98,256.22 406.20,256.37 406.42,256.51 406.64,256.62 406.86,256.73 407.08,256.82 407.30,256.91 407.52,256.99 407.74,257.07 407.96,257.14 408.18,257.21 408.40,257.28 408.62,257.35 408.84,257.42 409.06,257.49 409.28,257.55 409.50,257.62 409.72,257.68 409.94,257.75 410.16,257.81 410.38,257.87 410.60,257.92 410.82,257.98 411.04,258.03 411.26,258.07 411.48,258.12 411.70,258.16 411.92,258.20 412.14,258.23 412.36,258.26 412.58,258.29 412.80,258.32 413.02,258.34 413.24,258.37 413.46,258.38 413.68,258.40 413.90,258.42 414.12,258.43 414.34,258.44 414.56,258.45 414.78,258.46 415.00,258.46 415.22,258.47 415.44,258.48 415.66,258.48 415.88,258.48 416.10,258.49 416.32,258.49 416.54,258.49 416.76,258.49 416.98,258.49 417.20,258.50 417.42,258.50 417.64,258.50 417.86,258.50 418.08,258.50 418.30,258.50 418.52,258.50 418.74,258.50 418.96,258.50 419.18,258.50 419.40,258.50 419.62,258.50 419.84,258.50 420.06,258.50 420.28,258.50 420.50,258.50 420.72,258.50 420.94,258.50 421.16,258.50 421.38,258.50 421.60,258.50 421.82,258.50 422.04,258.50 422.26,258.50 422.48,258.50 422.70,258.50 422.92,258.50 423.14,258.50 423.36,258.50 423.58,258.50 423.80,258.50 424.02,258.50 424.24,258.50 424.46,258.50 424.68,258.50 424.90,258.50 425.12,258.50 425.34,258.50 425.56,258.50 425.78,258.50 426.00,258.50 426.22,258.50 426.44,258.50 426.66,258.50 426.88,258.50 427.10,258.50 427.32,258.50 427.54,258.50 427.76,258.50 427.98,258.50 428.20,258.50 428.42,258.50 428.64,258.50 428.86,258.50 429.08,258.50 429.30,258.50 429.52,258.50 429.74,258.50 429.96,258.50 430.18,258.50 430.40,258.50 430.62,258.50 430.84,258.50 431.06,258.50 431.28,258.50 431.50,258.50 431.72,258.50 431.94,258.50 432.16,258.50 432.38,258.50 432.38,258.50" fill="#fffbeb"/>
<polyline points="393.00,254.51 393.22,251.36 393.44,248.35 393.66,254.87 393.88,249.87 394.10,249.96 394.32,246.89 394.54,247.12 394.76,251.49 394.98,242.98 395.20,250.50 395.42,243.96 395.64,245.49 395.86,237.12 396.08,235.62 396.30,245.82 396.52,230.95 396.74,236.01 396.96,232.57 397.18,236.82 397.40,229.98 397.62,241.15 397.84,226.24 398.06,224.43 398.28,223.51 398.50,226.92 398.72,221.61 398.94,221.52 399.16,229.31 399.38,223.40 399.60,226.41 399.82,225.41 400.04,240.91 400.26,232.76 400.48,232.71 400.70,240.87 400.92,241.90 401.14,228.21 401.36,236.79 401.58,226.20 401.80,243.45 402.02,237.87 402.24,239.29 402.46,245.94 402.68,244.66 402.90,238.83 403.12,246.16 403.34,248.93 403.56,251.86 403.78,250.58 404.00,248.42 404.22,250.92 404.44,251.85 404.66,253.22 404.88,252.86 405.10,251.47 405.32,253.04 405.54,252.20 405.76,256.74 405.98,253.92 406.20,252.54 406.42,253.78 406.64,255.68 406.86,256.89 407.08,257.54 407.30,256.66 407.52,255.85 407.74,256.67 407.96,257.72 408.18,256.87 408.40,256.25 408.62,255.31 408.84,258.19 409.06,257.13 409.28,258.50 409.50,257.65 409.72,254.47 409.94,257.36 410.16,257.34 410.38,258.10 410.60,258.09 410.82,258.50 411.04,257.52 411.26,257.88 411.48,257.06 411.70,258.50 411.92,257.89 412.14,257.46 412.36,258.50 412.58,257.50 412.80,258.49 413.02,257.89 413.24,257.67 413.46,257.94 413.68,258.16 413.90,258.15 414.12,258.04 414.34,257.73 414.56,258.44 414.78,257.93 415.00,258.18 415.22,258.26 415.44,258.42 415.66,258.42 415.88,258.06 416.10,258.27 416.32,258.35 416.54,258.40 416.76,258.02 416.98,258.50 417.20,258.36 417.42,258.31 417.64,258.49 417.86,258.21 418.08,258.37 418.30,258.28 418.52,258.25 418.74,258.48 418.96,258.48 419.18,257.96 419.40,258.18 419.62,258.43 419.84,258.08 420.06,258.43 420.28,258.35 420.50,258.19 420.72,258.17 420.94,258.27 421.16,258.29 421.38,258.49 421.60,257.86 421.82,258.49 422.04,258.28 422.26,258.38 422.48,258.03 422.70,258.09 422.92,258.23 423.14,258.41 423.36,258.33 423.58,258.35 423.80,257.99 424.02,258.35 424.24,258.18 424.46,257.99 424.68,258.43 424.90,258.11 425.12,258.47 425.34,258.38 425.56,258.40 425.78,258.27 426.00,258.18 426.22,258.46 426.44,258.43 426.66,258.24 426.88,258.17 427.10,258.27 427.32,257.85 427.54,258.47 427.76,258.24 427.98,258.44 428.20,258.36 428.42,258.19 428.64,258.41 428.86,258.49 429.08,258.49 429.30,258.35 429.52,258.06 429.74,258.13 429.96,258.29 430.18,258.40 430.40,258.18 430.62,258.41 430.84,258.15 431.06,258.35 431.28,258.25 431.50,258.42 431.72,258.17 431.94,257.95 432.16,258.49 432.38,258.31" fill="none" stroke="#e8352a" stroke-width="1.0" stroke-linejoin="miter"/>
<polyline points="393.00,250.35 393.22,255.68 393.44,248.55 393.66,246.61 393.88,247.53 394.10,241.98 394.32,247.32 394.54,243.11 394.76,243.72 394.98,242.73 395.20,244.97 395.42,245.70 395.64,237.24 395.86,239.04 396.08,233.69 396.30,229.42 396.52,245.67 396.74,226.42 396.96,223.87 397.18,223.97 397.40,229.17 397.62,223.88 397.84,226.54 398.06,229.85 398.28,236.84 398.50,227.30 398.72,231.65 398.94,219.90 399.16,236.75 399.38,219.90 399.60,224.95 399.82,225.04 400.04,230.19 400.26,224.99 400.48,232.47 400.70,230.04 400.92,226.89 401.14,242.31 401.36,237.45 401.58,229.53 401.80,247.28 402.02,247.43 402.24,246.28 402.46,244.86 402.68,251.32 402.90,250.11 403.12,253.80 403.34,252.11 403.56,255.27 403.78,253.94 404.00,258.50 404.22,257.80 404.44,254.27 404.66,256.49 404.88,257.56 405.10,255.79 405.32,256.57 405.54,257.28 405.76,258.03 405.98,257.86 406.20,257.76 406.42,258.50 406.64,258.14 406.86,258.17 407.08,258.17 407.30,257.95 407.52,257.94 407.74,258.48 407.96,258.25 408.18,258.31 408.40,258.50 408.62,258.45 408.84,258.32 409.06,258.33 409.28,258.44 409.50,257.94 409.72,258.46 409.94,258.43 410.16,258.18 410.38,258.36 410.60,258.30 410.82,258.20 411.04,258.35 411.26,258.47 411.48,258.38 411.70,258.30 411.92,258.49 412.14,258.21 412.36,258.23 412.58,258.39 412.80,258.37 413.02,257.97 413.24,258.27 413.46,258.23 413.68,258.38 413.90,258.44 414.12,258.31 414.34,258.01 414.56,258.29 414.78,258.29 415.00,258.43 415.22,258.40 415.44,258.44 415.66,258.33 415.88,258.23 416.10,258.42 416.32,258.36 416.54,258.31 416.76,258.43 416.98,258.17 417.20,258.34 417.42,258.04 417.64,258.25 417.86,258.46 418.08,258.34 418.30,258.17 418.52,258.49 418.74,258.39 418.96,258.20 419.18,258.44 419.40,258.28 419.62,258.32 419.84,258.16 420.06,258.09 420.28,258.44 420.50,258.23 420.72,258.46 420.94,258.34 421.16,258.35 421.38,258.34 421.60,258.48 421.82,258.37 422.04,258.06 422.26,258.36 422.48,258.37 422.70,258.19 422.92,258.36 423.14,258.34 423.36,258.45 423.58,258.16 423.80,258.42 424.02,258.25 424.24,258.41 424.46,257.80 424.68,258.41 424.90,258.44 425.12,258.40 425.34,258.17 425.56,258.32 425.78,258.47 426.00,258.40 426.22,258.21 426.44,258.33 426.66,258.40 426.88,258.30 427.10,258.34 427.32,257.97 427.54,258.45 427.76,258.02 427.98,258.33 428.20,258.17 428.42,258.46 428.64,258.10 428.86,258.04 429.08,258.33 429.30,258.38 429.52,258.18 429.74,258.36 429.96,258.31 430.18,258.34 430.40,258.18 430.62,258.30 430.84,258.13 431.06,258.09 431.28,258.15 431.50,258.09 431.72,258.45 431.94,258.39 432.16,258.34 432.38,258.50" fill="none" stroke="#3345a8" stroke-width="1.0" stroke-linejoin="miter"/>
<rect x="392.50" y="219.50" width="40.30" height="39.80" fill="none" stroke="#2a2a2a" stroke-width="0.9"/>
<line x1="392.50" y1="259.30" x2="432.80" y2="259.30" stroke="#222" stroke-width="1.3"/>
<line x1="392.50" y1="260.60" x2="432.80" y2="260.60" stroke="#bbb" stroke-width="0.9"/>
<rect x="435.80" y="219.50" width="39.90" height="39.80" fill="#fff"/>
<polygon points="436.30,258.50 436.30,243.57 436.52,242.77 436.74,241.98 436.96,241.23 437.18,240.50 437.40,239.81 437.62,239.16 437.84,238.55 438.06,237.98 438.28,237.45 438.50,236.97 438.72,236.53 438.94,236.13 439.16,235.78 439.38,235.47 439.60,235.21 439.82,234.99 440.04,234.81 440.26,234.68 440.48,234.59 440.70,234.55 440.92,234.55 441.14,234.60 441.36,234.70 441.58,234.85 441.80,235.14 442.02,235.60 442.24,236.21 442.46,236.96 442.68,237.84 442.90,238.84 443.12,239.93 443.34,241.09 443.56,242.31 443.78,243.56 444.00,244.81 444.22,245.44 444.44,245.01 444.66,244.57 444.88,244.13 445.10,243.69 445.32,243.25 445.54,242.81 445.76,242.38 445.98,241.96 446.20,241.56 446.42,241.16 446.64,240.78 446.86,240.42 447.08,240.08 447.30,239.77 447.52,239.47 447.74,239.21 447.96,238.97 448.18,238.76 448.40,238.58 448.62,238.43 448.84,238.31 449.06,238.23 449.28,238.18 449.50,238.16 449.72,238.18 449.94,238.21 450.16,238.27 450.38,238.35 450.60,238.45 450.82,238.58 451.04,238.72 451.26,238.89 451.48,239.08 451.70,239.28 451.92,239.51 452.14,239.75 452.36,240.01 452.58,240.29 452.80,240.59 453.02,240.90 453.24,241.22 453.46,241.56 453.68,241.91 453.90,242.27 454.12,242.64 454.34,243.02 454.56,243.40 454.78,243.80 455.00,244.20 455.22,244.60 455.44,245.01 455.66,245.42 455.88,245.83 456.10,246.25 456.32,246.66 456.54,247.07 456.76,247.48 456.98,247.89 457.20,248.29 457.42,248.69 457.64,249.09 457.86,249.48 458.08,249.86 458.30,250.23 458.52,250.60 458.74,250.96 458.96,251.31 459.18,251.66 459.40,251.99 459.62,252.32 459.84,252.63 460.06,252.94 460.28,253.23 460.50,253.52 460.72,253.79 460.94,254.06 461.16,254.31 461.38,254.56 461.60,254.79 461.82,255.02 462.04,255.23 462.26,255.43 462.48,255.63 462.70,255.82 462.92,255.99 463.14,256.16 463.36,256.32 463.58,256.47 463.80,256.61 464.02,256.75 464.24,256.87 464.46,256.99 464.68,257.10 464.90,257.21 465.12,257.31 465.34,257.40 465.56,257.48 465.78,257.57 466.00,257.64 466.22,257.71 466.44,257.78 466.66,257.84 466.88,257.89 467.10,257.94 467.32,257.99 467.54,258.04 467.76,258.08 467.98,258.12 468.20,258.15 468.42,258.18 468.64,258.21 468.86,258.24 469.08,258.26 469.30,258.29 469.52,258.31 469.74,258.33 469.96,258.34 470.18,258.36 470.40,258.37 470.62,258.39 470.84,258.40 471.06,258.41 471.28,258.42 471.50,258.43 471.72,258.43 471.94,258.44 472.16,258.45 472.38,258.45 472.60,258.46 472.82,258.46 473.04,258.47 473.26,258.47 473.48,258.47 473.70,258.48 473.92,258.48 474.14,258.48 474.36,258.48 474.58,258.49 474.80,258.49 475.02,258.49 475.24,258.49 475.24,258.50" fill="#fffbeb"/>
<polyline points="436.30,251.62 436.52,253.79 436.74,251.11 436.96,251.69 437.18,249.38 437.40,248.56 437.62,245.36 437.84,251.09 438.06,247.99 438.28,253.48 438.50,247.38 438.72,250.88 438.94,248.99 439.16,247.22 439.38,248.67 439.60,249.03 439.82,245.67 440.04,249.40 440.26,249.09 440.48,249.27 440.70,244.22 440.92,241.15 441.14,245.63 441.36,244.60 441.58,244.68 441.80,245.22 442.02,242.89 442.24,242.45 442.46,246.18 442.68,239.88 442.90,243.30 443.12,239.38 443.34,242.83 443.56,241.67 443.78,248.60 444.00,242.69 444.22,243.58 444.44,239.74 444.66,237.22 444.88,233.83 445.10,242.11 445.32,242.84 445.54,233.58 445.76,238.63 445.98,234.97 446.20,230.29 446.42,235.47 446.64,233.38 446.86,232.59 447.08,233.83 447.30,237.95 447.52,227.64 447.74,220.89 447.96,233.48 448.18,229.66 448.40,234.71 448.62,220.35 448.84,239.17 449.06,230.92 449.28,222.41 449.50,220.38 449.72,225.22 449.94,242.99 450.16,230.48 450.38,219.90 450.60,229.96 450.82,226.21 451.04,234.83 451.26,231.32 451.48,233.22 451.70,230.07 451.92,220.25 452.14,234.56 452.36,233.76 452.58,236.53 452.80,238.18 453.02,236.46 453.24,229.95 453.46,240.02 453.68,233.86 453.90,232.86 454.12,233.80 454.34,243.08 454.56,237.93 454.78,239.99 455.00,229.90 455.22,241.96 455.44,242.53 455.66,237.47 455.88,237.69 456.10,240.94 456.32,243.36 456.54,245.73 456.76,244.54 456.98,244.97 457.20,242.85 457.42,240.80 457.64,240.34 457.86,244.44 458.08,242.08 458.30,245.24 458.52,248.21 458.74,246.48 458.96,251.66 459.18,251.74 459.40,253.38 459.62,247.20 459.84,253.11 460.06,251.97 460.28,253.47 460.50,250.58 460.72,251.98 460.94,250.05 461.16,253.59 461.38,254.23 461.60,252.91 461.82,251.24 462.04,253.23 462.26,255.44 462.48,254.38 462.70,256.23 462.92,254.91 463.14,255.29 463.36,253.87 463.58,253.82 463.80,254.77 464.02,254.50 464.24,255.41 464.46,253.87 464.68,254.89 464.90,253.61 465.12,256.60 465.34,256.22 465.56,256.22 465.78,257.21 466.00,256.69 466.22,258.34 466.44,256.38 466.66,257.10 466.88,257.09 467.10,257.78 467.32,258.50 467.54,257.37 467.76,256.93 467.98,258.50 468.20,258.35 468.42,258.05 468.64,258.06 468.86,258.50 469.08,257.14 469.30,257.62 469.52,258.40 469.74,258.50 469.96,257.86 470.18,257.62 470.40,257.93 470.62,257.96 470.84,258.41 471.06,258.26 471.28,258.14 471.50,257.83 471.72,258.18 471.94,258.50 472.16,258.50 472.38,258.13 472.60,258.38 472.82,258.38 473.04,258.35 473.26,257.97 473.48,258.13 473.70,258.50 473.92,258.25 474.14,258.27 474.36,258.50 474.58,258.25 474.80,258.49 475.02,258.27 475.24,258.43" fill="none" stroke="#e8352a" stroke-width="1.0" stroke-linejoin="miter"/>
<polyline points="436.30,231.45 436.52,235.45 436.74,238.89 436.96,236.46 437.18,228.79 437.40,228.28 437.62,234.84 437.84,232.85 438.06,219.90 438.28,230.50 438.50,231.57 438.72,224.34 438.94,225.09 439.16,219.90 439.38,219.90 439.60,224.33 439.82,228.42 440.04,225.59 440.26,223.93 440.48,221.98 440.70,221.54 440.92,222.95 441.14,220.41 441.36,230.76 441.58,226.40 441.80,222.97 442.02,229.56 442.24,223.58 442.46,223.15 442.68,228.99 442.90,227.27 443.12,237.03 443.34,229.45 443.56,230.16 443.78,243.30 444.00,243.14 444.22,244.29 444.44,245.03 444.66,240.69 444.88,248.14 445.10,249.17 445.32,242.82 445.54,250.31 445.76,250.72 445.98,249.28 446.20,254.52 446.42,254.46 446.64,253.70 446.86,255.92 447.08,254.70 447.30,255.20 447.52,255.57 447.74,257.09 447.96,257.29 448.18,258.50 448.40,257.94 448.62,257.55 448.84,257.23 449.06,257.97 449.28,258.18 449.50,258.24 449.72,258.24 449.94,258.27 450.16,258.12 450.38,258.37 450.60,258.34 450.82,258.39 451.04,258.27 451.26,258.39 451.48,258.29 451.70,258.41 451.92,258.25 452.14,257.95 452.36,258.28 452.58,258.24 452.80,258.05 453.02,258.37 453.24,258.29 453.46,257.99 453.68,258.48 453.90,258.35 454.12,258.50 454.34,257.83 454.56,258.46 454.78,258.30 455.00,258.17 455.22,258.40 455.44,258.08 455.66,258.45 455.88,258.27 456.10,258.30 456.32,258.36 456.54,258.38 456.76,258.48 456.98,258.31 457.20,258.32 457.42,257.79 457.64,258.46 457.86,258.41 458.08,258.32 458.30,258.48 458.52,258.43 458.74,258.14 458.96,258.12 459.18,258.43 459.40,258.48 459.62,257.84 459.84,257.96 460.06,258.42 460.28,258.48 460.50,258.35 460.72,258.19 460.94,258.35 461.16,258.42 461.38,258.37 461.60,258.46 461.82,258.25 462.04,258.36 462.26,258.28 462.48,258.33 462.70,258.43 462.92,258.21 463.14,258.36 463.36,258.40 463.58,258.38 463.80,258.32 464.02,258.39 464.24,258.31 464.46,258.47 464.68,258.23 464.90,258.47 465.12,258.26 465.34,258.37 465.56,258.32 465.78,258.48 466.00,258.19 466.22,258.14 466.44,258.01 466.66,258.40 466.88,258.39 467.10,258.46 467.32,258.39 467.54,257.78 467.76,258.22 467.98,258.48 468.20,258.49 468.42,258.22 468.64,258.18 468.86,258.32 469.08,258.41 469.30,258.38 469.52,258.30 469.74,258.21 469.96,258.40 470.18,258.13 470.40,258.28 470.62,258.22 470.84,257.76 471.06,258.29 471.28,258.38 471.50,258.35 471.72,258.18 471.94,258.40 472.16,258.47 472.38,258.24 472.60,258.42 472.82,258.39 473.04,258.37 473.26,258.23 473.48,258.45 473.70,258.13 473.92,258.33 474.14,258.29 474.36,258.29 474.58,258.40 474.80,258.49 475.02,258.44 475.24,258.47" fill="none" stroke="#3345a8" stroke-width="1.0" stroke-linejoin="miter"/>
<rect x="435.80" y="219.50" width="39.90" height="39.80" fill="none" stroke="#2a2a2a" stroke-width="0.9"/>
<line x1="435.80" y1="259.30" x2="475.70" y2="259.30" stroke="#222" stroke-width="1.3"/>
<line x1="435.80" y1="260.60" x2="475.70" y2="260.60" stroke="#bbb" stroke-width="0.9"/>
<rect x="478.80" y="219.50" width="39.50" height="39.80" fill="#fff"/>
<polygon points="479.30,258.50 479.30,248.35 479.52,247.33 479.74,246.32 479.96,245.31 480.18,244.33 480.40,243.39 480.62,242.51 480.84,241.70 481.06,240.98 481.28,240.35 481.50,239.83 481.72,239.43 481.94,239.14 482.16,238.96 482.38,238.88 482.60,238.90 482.82,239.01 483.04,239.18 483.26,239.40 483.48,239.66 483.70,239.93 483.92,240.20 484.14,240.45 484.36,240.65 484.58,240.81 484.80,240.90 485.02,240.93 485.24,240.89 485.46,240.78 485.68,240.62 485.90,240.40 486.12,240.15 486.34,239.88 486.56,239.61 486.78,239.36 487.00,239.14 487.22,238.98 487.44,238.89 487.66,238.89 487.88,238.98 488.10,239.18 488.32,239.49 488.54,239.92 488.76,240.46 488.98,241.10 489.20,241.84 489.42,242.66 489.64,243.55 489.86,244.50 490.08,245.49 490.30,246.50 490.52,247.52 490.74,248.53 490.96,249.52 491.18,250.47 491.40,251.38 491.62,252.23 491.84,253.03 492.06,253.76 492.28,254.43 492.50,255.03 492.72,255.57 492.94,256.04 493.16,256.45 493.38,256.81 493.60,256.83 493.82,256.76 494.04,256.67 494.26,256.55 494.48,256.41 494.70,256.25 494.92,256.06 495.14,255.85 495.36,255.60 495.58,255.32 495.80,255.00 496.02,254.65 496.24,254.27 496.46,253.84 496.68,253.38 496.90,252.88 497.12,252.35 497.34,251.78 497.56,251.17 497.78,250.54 498.00,249.87 498.22,249.18 498.44,248.47 498.66,247.74 498.88,246.99 499.10,246.25 499.32,245.50 499.54,244.76 499.76,244.03 499.98,243.32 500.20,242.64 500.42,242.00 500.64,241.39 500.86,240.84 501.08,240.34 501.30,239.90 501.52,239.53 501.74,239.22 501.96,239.00 502.18,238.84 502.40,238.77 502.62,238.78 502.84,238.85 503.06,239.00 503.28,239.21 503.50,239.49 503.72,239.83 503.94,240.22 504.16,240.68 504.38,241.18 504.60,241.73 504.82,242.32 505.04,242.94 505.26,243.59 505.48,244.27 505.70,244.96 505.92,245.67 506.14,246.38 506.36,247.09 506.58,247.80 506.80,248.50 507.02,249.19 507.24,249.86 507.46,250.51 507.68,251.14 507.90,251.74 508.12,252.32 508.34,252.87 508.56,253.38 508.78,253.87 509.00,254.32 509.22,254.75 509.44,255.14 509.66,255.50 509.88,255.83 510.10,256.14 510.32,256.41 510.54,256.66 510.76,256.89 510.98,257.09 511.20,257.28 511.42,257.44 511.64,257.58 511.86,257.71 512.08,257.82 512.30,257.92 512.52,258.01 512.74,258.08 512.96,258.15 513.18,258.20 513.40,258.25 513.62,258.29 513.84,258.32 514.06,258.35 514.28,258.38 514.50,258.40 514.72,258.42 514.94,258.43 515.16,258.45 515.38,258.46 515.60,258.46 515.82,258.47 516.04,258.48 516.26,258.48 516.48,258.48 516.70,258.49 516.92,258.49 517.14,258.49 517.36,258.49 517.58,258.50 517.80,258.50 517.80,258.50" fill="#fffbeb"/>
<polyline points="479.30,258.26 479.52,258.07 479.74,257.29 479.96,258.50 480.18,258.25 480.40,256.27 480.62,257.47 480.84,258.50 481.06,257.39 481.28,256.45 481.50,256.39 481.72,257.26 481.94,257.59 482.16,256.13 482.38,257.39 482.60,256.02 482.82,256.25 483.04,257.04 483.26,255.58 483.48,257.09 483.70,256.22 483.92,256.97 484.14,256.74 484.36,256.32 484.58,256.66 484.80,255.22 485.02,254.91 485.24,254.25 485.46,254.42 485.68,256.22 485.90,254.10 486.12,255.82 486.34,254.08 486.56,257.43 486.78,254.28 487.00,256.92 487.22,255.04 487.44,256.37 487.66,254.43 487.88,256.11 488.10,257.29 488.32,256.26 488.54,255.43 488.76,255.88 488.98,258.50 489.20,257.89 489.42,257.04 489.64,255.68 489.86,255.99 490.08,256.36 490.30,256.87 490.52,255.85 490.74,255.91 490.96,255.56 491.18,256.95 491.40,255.60 491.62,256.96 491.84,256.05 492.06,256.24 492.28,255.10 492.50,257.13 492.72,256.24 492.94,256.77 493.16,256.10 493.38,255.44 493.60,253.08 493.82,256.38 494.04,254.21 494.26,255.82 494.48,254.66 494.70,254.93 494.92,254.33 495.14,252.83 495.36,250.39 495.58,250.58 495.80,254.87 496.02,251.49 496.24,251.74 496.46,256.57 496.68,252.34 496.90,252.02 497.12,251.03 497.34,249.59 497.56,249.53 497.78,243.63 498.00,244.10 498.22,247.43 498.44,242.70 498.66,240.73 498.88,243.47 499.10,240.47 499.32,236.89 499.54,229.26 499.76,245.10 499.98,229.85 500.20,244.42 500.42,235.18 500.64,230.61 500.86,230.94 501.08,230.49 501.30,230.80 501.52,225.62 501.74,220.30 501.96,222.96 502.18,228.43 502.40,231.98 502.62,232.23 502.84,219.90 503.06,227.59 503.28,222.88 503.50,229.76 503.72,239.54 503.94,224.95 504.16,228.77 504.38,238.42 504.60,235.94 504.82,239.76 505.04,237.89 505.26,236.57 505.48,233.54 505.70,240.78 505.92,235.99 506.14,241.30 506.36,237.93 506.58,246.45 506.80,243.80 507.02,243.61 507.24,249.00 507.46,245.47 507.68,254.17 507.90,251.81 508.12,253.21 508.34,252.17 508.56,250.48 508.78,248.97 509.00,250.66 509.22,253.56 509.44,257.55 509.66,254.60 509.88,256.98 510.10,255.06 510.32,256.13 510.54,256.14 510.76,255.71 510.98,256.90 511.20,254.69 511.42,256.36 511.64,255.79 511.86,256.66 512.08,256.94 512.30,257.81 512.52,256.31 512.74,258.26 512.96,257.45 513.18,258.06 513.40,258.19 513.62,257.60 513.84,258.50 514.06,257.53 514.28,257.87 514.50,258.21 514.72,257.90 514.94,258.47 515.16,258.50 515.38,258.38 515.60,258.09 515.82,257.78 516.04,258.44 516.26,258.32 516.48,258.27 516.70,258.20 516.92,258.43 517.14,258.29 517.36,258.46 517.58,257.93 517.80,258.34" fill="none" stroke="#e8352a" stroke-width="1.0" stroke-linejoin="miter"/>
<polyline points="479.30,242.23 479.52,240.02 479.74,243.42 479.96,233.14 480.18,240.66 480.40,237.63 480.62,243.06 480.84,240.02 481.06,231.88 481.28,236.53 481.50,237.55 481.72,233.00 481.94,229.94 482.16,229.92 482.38,225.16 482.60,235.47 482.82,236.39 483.04,233.84 483.26,232.97 483.48,230.91 483.70,232.54 483.92,230.18 484.14,239.92 484.36,225.14 484.58,240.94 484.80,242.48 485.02,230.26 485.24,226.88 485.46,231.79 485.68,227.58 485.90,230.77 486.12,235.59 486.34,228.25 486.56,222.14 486.78,231.51 487.00,246.20 487.22,227.92 487.44,230.48 487.66,231.44 487.88,226.42 488.10,225.18 488.32,235.37 488.54,239.02 488.76,223.57 488.98,228.12 489.20,233.90 489.42,237.32 489.64,245.24 489.86,238.24 490.08,241.71 490.30,242.51 490.52,249.27 490.74,244.83 490.96,242.07 491.18,249.05 491.40,249.04 491.62,252.88 491.84,245.97 492.06,248.62 492.28,252.30 492.50,251.75 492.72,251.85 492.94,255.01 493.16,256.65 493.38,257.54 493.60,256.27 493.82,254.76 494.04,257.69 494.26,255.03 494.48,257.29 494.70,257.89 494.92,257.07 495.14,257.89 495.36,257.83 495.58,258.50 495.80,258.50 496.02,258.50 496.24,258.08 496.46,258.50 496.68,258.31 496.90,258.14 497.12,258.37 497.34,258.29 497.56,257.80 497.78,258.30 498.00,258.29 498.22,258.42 498.44,258.04 498.66,257.81 498.88,258.40 499.10,258.46 499.32,258.21 499.54,258.45 499.76,258.27 499.98,258.33 500.20,258.24 500.42,258.31 500.64,258.46 500.86,258.21 501.08,258.19 501.30,258.18 501.52,258.42 501.74,257.99 501.96,258.33 502.18,258.03 502.40,258.32 502.62,258.30 502.84,258.31 503.06,258.36 503.28,258.33 503.50,258.29 503.72,258.20 503.94,258.30 504.16,258.13 504.38,258.46 504.60,258.26 504.82,258.43 505.04,258.47 505.26,258.44 505.48,258.39 505.70,258.19 505.92,258.46 506.14,258.44 506.36,258.15 506.58,258.42 506.80,258.33 507.02,258.37 507.24,258.24 507.46,258.22 507.68,258.45 507.90,258.34 508.12,258.21 508.34,258.37 508.56,258.42 508.78,258.43 509.00,258.21 509.22,257.95 509.44,258.01 509.66,258.35 509.88,258.47 510.10,258.16 510.32,258.34 510.54,258.40 510.76,258.41 510.98,258.49 511.20,257.94 511.42,258.30 511.64,258.46 511.86,258.30 512.08,258.34 512.30,258.27 512.52,258.44 512.74,258.36 512.96,258.41 513.18,258.45 513.40,258.27 513.62,258.01 513.84,258.20 514.06,258.41 514.28,257.95 514.50,258.32 514.72,258.16 514.94,258.14 515.16,258.41 515.38,258.03 515.60,258.14 515.82,258.48 516.04,258.36 516.26,258.17 516.48,258.31 516.70,258.23 516.92,258.36 517.14,258.36 517.36,258.22 517.58,258.40 517.80,258.27" fill="none" stroke="#3345a8" stroke-width="1.0" stroke-linejoin="miter"/>
<rect x="478.80" y="219.50" width="39.50" height="39.80" fill="none" stroke="#2a2a2a" stroke-width="0.9"/>
<line x1="478.80" y1="259.30" x2="518.30" y2="259.30" stroke="#222" stroke-width="1.3"/>
<line x1="478.80" y1="260.60" x2="518.30" y2="260.60" stroke="#bbb" stroke-width="0.9"/>
<rect x="392.50" y="261.90" width="40.30" height="39.30" fill="#fff"/>
<polygon points="393.00,300.40 393.00,295.57 393.22,295.04 393.44,294.48 393.66,293.89 393.88,293.25 394.10,292.59 394.32,291.89 394.54,291.16 394.76,290.41 394.98,289.64 395.20,288.84 395.42,288.03 395.64,287.21 395.86,286.39 396.08,285.57 396.30,284.75 396.52,283.95 396.74,283.17 396.96,282.42 397.18,281.70 397.40,281.02 397.62,280.38 397.84,279.80 398.06,279.28 398.28,278.82 398.50,278.43 398.72,278.11 398.94,277.87 399.16,277.70 399.38,277.62 399.60,277.63 399.82,277.83 400.04,278.23 400.26,278.82 400.48,279.28 400.70,279.77 400.92,280.38 401.14,281.13 401.36,281.97 401.58,282.91 401.80,283.91 402.02,284.97 402.24,286.05 402.46,287.14 402.68,288.22 402.90,289.28 403.12,290.30 403.34,291.26 403.56,292.17 403.78,293.01 404.00,293.77 404.22,294.46 404.44,295.08 404.66,295.62 404.88,296.10 405.10,296.51 405.32,296.87 405.54,297.17 405.76,297.44 405.98,297.67 406.20,297.87 406.42,298.05 406.64,298.22 406.86,298.36 407.08,298.48 407.30,298.59 407.52,298.69 407.74,298.78 407.96,298.86 408.18,298.94 408.40,299.02 408.62,299.09 408.84,299.16 409.06,299.23 409.28,299.30 409.50,299.37 409.72,299.44 409.94,299.50 410.16,299.57 410.38,299.63 410.60,299.69 410.82,299.75 411.04,299.81 411.26,299.86 411.48,299.91 411.70,299.96 411.92,300.01 412.14,300.05 412.36,300.09 412.58,300.12 412.80,300.16 413.02,300.19 413.24,300.21 413.46,300.24 413.68,300.26 413.90,300.28 414.12,300.30 414.34,300.31 414.56,300.32 414.78,300.34 415.00,300.35 415.22,300.36 415.44,300.36 415.66,300.37 415.88,300.37 416.10,300.38 416.32,300.38 416.54,300.39 416.76,300.39 416.98,300.39 417.20,300.39 417.42,300.39 417.64,300.40 417.86,300.40 418.08,300.40 418.30,300.40 418.52,300.40 418.74,300.40 418.96,300.40 419.18,300.40 419.40,300.40 419.62,300.40 419.84,300.40 420.06,300.40 420.28,300.40 420.50,300.40 420.72,300.40 420.94,300.40 421.16,300.40 421.38,300.40 421.60,300.40 421.82,300.40 422.04,300.40 422.26,300.40 422.48,300.40 422.70,300.40 422.92,300.40 423.14,300.40 423.36,300.40 423.58,300.40 423.80,300.40 424.02,300.40 424.24,300.40 424.46,300.40 424.68,300.40 424.90,300.40 425.12,300.40 425.34,300.40 425.56,300.40 425.78,300.40 426.00,300.40 426.22,300.40 426.44,300.40 426.66,300.40 426.88,300.40 427.10,300.40 427.32,300.40 427.54,300.40 427.76,300.40 427.98,300.40 428.20,300.40 428.42,300.40 428.64,300.40 428.86,300.40 429.08,300.40 429.30,300.40 429.52,300.40 429.74,300.40 429.96,300.40 430.18,300.40 430.40,300.40 430.62,300.40 430.84,300.40 431.06,300.40 431.28,300.40 431.50,300.40 431.72,300.40 431.94,300.40 432.16,300.40 432.38,300.40 432.38,300.40" fill="#fffbeb"/>
<polyline points="393.00,296.01 393.22,296.64 393.44,291.36 393.66,289.59 393.88,292.16 394.10,287.77 394.32,286.06 394.54,291.70 394.76,291.59 394.98,280.58 395.20,284.38 395.42,285.92 395.64,283.84 395.86,278.24 396.08,288.09 396.30,269.34 396.52,284.01 396.74,278.55 396.96,275.23 397.18,271.92 397.40,273.48 397.62,270.77 397.84,279.06 398.06,272.55 398.28,278.47 398.50,272.64 398.72,282.79 398.94,273.67 399.16,269.28 399.38,267.82 399.60,276.41 399.82,262.76 400.04,271.19 400.26,275.57 400.48,269.03 400.70,280.02 400.92,271.83 401.14,273.99 401.36,277.19 401.58,274.72 401.80,268.00 402.02,281.87 402.24,278.34 402.46,279.41 402.68,280.83 402.90,285.50 403.12,282.11 403.34,290.09 403.56,293.82 403.78,289.02 404.00,291.09 404.22,289.54 404.44,295.00 404.66,292.55 404.88,294.33 405.10,295.46 405.32,297.00 405.54,294.63 405.76,295.79 405.98,295.57 406.20,296.61 406.42,297.13 406.64,295.70 406.86,298.05 407.08,297.59 407.30,295.74 407.52,297.48 407.74,297.36 407.96,298.48 408.18,298.58 408.40,300.40 408.62,297.78 408.84,299.55 409.06,298.66 409.28,297.04 409.50,299.53 409.72,297.94 409.94,299.10 410.16,298.68 410.38,299.96 410.60,299.58 410.82,299.61 411.04,298.62 411.26,298.08 411.48,299.39 411.70,299.78 411.92,298.24 412.14,300.07 412.36,299.95 412.58,299.69 412.80,299.90 413.02,299.57 413.24,300.30 413.46,300.08 413.68,299.24 413.90,299.63 414.12,299.98 414.34,300.09 414.56,300.04 414.78,300.04 415.00,300.33 415.22,300.07 415.44,300.32 415.66,300.37 415.88,299.49 416.10,300.16 416.32,300.40 416.54,300.33 416.76,300.29 416.98,300.40 417.20,300.37 417.42,300.08 417.64,300.32 417.86,300.31 418.08,300.38 418.30,300.05 418.52,300.37 418.74,300.03 418.96,300.29 419.18,300.10 419.40,300.19 419.62,300.33 419.84,300.28 420.06,300.29 420.28,300.31 420.50,300.25 420.72,300.28 420.94,299.78 421.16,300.19 421.38,300.22 421.60,300.28 421.82,300.11 422.04,300.08 422.26,300.08 422.48,300.25 422.70,300.17 422.92,300.36 423.14,300.36 423.36,300.40 423.58,300.21 423.80,300.17 424.02,300.03 424.24,300.16 424.46,300.33 424.68,300.17 424.90,300.35 425.12,300.16 425.34,300.30 425.56,300.20 425.78,300.16 426.00,300.34 426.22,300.31 426.44,300.24 426.66,300.26 426.88,300.24 427.10,300.16 427.32,300.17 427.54,300.04 427.76,300.18 427.98,300.26 428.20,300.16 428.42,300.20 428.64,300.18 428.86,300.31 429.08,300.12 429.30,300.09 429.52,300.21 429.74,300.16 429.96,300.30 430.18,300.25 430.40,300.31 430.62,300.34 430.84,300.33 431.06,300.20 431.28,300.39 431.50,300.19 431.72,300.19 431.94,300.20 432.16,300.19 432.38,300.25" fill="none" stroke="#e8352a" stroke-width="1.0" stroke-linejoin="miter"/>
<polyline points="393.00,290.66 393.22,293.27 393.44,289.22 393.66,292.40 393.88,295.02 394.10,284.62 394.32,288.63 394.54,289.45 394.76,283.22 394.98,282.63 395.20,286.37 395.42,281.55 395.64,274.69 395.86,273.49 396.08,279.59 396.30,282.11 396.52,279.42 396.74,274.93 396.96,273.41 397.18,277.39 397.40,271.93 397.62,266.86 397.84,273.61 398.06,271.87 398.28,275.03 398.50,262.30 398.72,262.30 398.94,278.34 399.16,263.91 399.38,262.30 399.60,268.23 399.82,278.85 400.04,269.94 400.26,272.98 400.48,274.38 400.70,275.86 400.92,276.92 401.14,276.83 401.36,274.13 401.58,279.41 401.80,277.03 402.02,286.50 402.24,282.24 402.46,289.37 402.68,287.34 402.90,290.86 403.12,293.05 403.34,292.89 403.56,291.88 403.78,295.88 404.00,295.86 404.22,296.57 404.44,297.71 404.66,296.75 404.88,297.80 405.10,298.11 405.32,298.98 405.54,299.34 405.76,299.00 405.98,299.60 406.20,299.80 406.42,300.40 406.64,300.10 406.86,300.22 407.08,299.66 407.30,299.84 407.52,300.04 407.74,299.96 407.96,300.40 408.18,300.15 408.40,300.05 408.62,299.97 408.84,300.26 409.06,300.11 409.28,300.36 409.50,300.22 409.72,300.02 409.94,300.23 410.16,300.07 410.38,300.15 410.60,300.06 410.82,300.12 411.04,300.32 411.26,300.34 411.48,300.29 411.70,300.15 411.92,299.95 412.14,300.26 412.36,300.33 412.58,300.33 412.80,300.39 413.02,300.32 413.24,300.34 413.46,299.78 413.68,299.67 413.90,300.21 414.12,300.19 414.34,300.24 414.56,300.31 414.78,299.92 415.00,299.97 415.22,300.39 415.44,300.10 415.66,300.37 415.88,300.32 416.10,300.20 416.32,300.09 416.54,300.35 416.76,300.34 416.98,300.28 417.20,300.15 417.42,300.12 417.64,300.10 417.86,300.31 418.08,300.21 418.30,300.32 418.52,300.25 418.74,300.21 418.96,300.35 419.18,300.27 419.40,300.37 419.62,300.34 419.84,300.26 420.06,300.37 420.28,300.20 420.50,300.28 420.72,300.30 420.94,300.32 421.16,300.31 421.38,300.20 421.60,300.35 421.82,300.33 422.04,300.14 422.26,300.34 422.48,299.94 422.70,300.40 422.92,300.23 423.14,300.32 423.36,300.16 423.58,300.38 423.80,300.29 424.02,300.33 424.24,300.37 424.46,300.32 424.68,300.20 424.90,300.32 425.12,300.29 425.34,300.18 425.56,299.61 425.78,300.26 426.00,300.15 426.22,300.10 426.44,300.31 426.66,300.24 426.88,300.29 427.10,300.37 427.32,300.28 427.54,300.13 427.76,300.21 427.98,300.36 428.20,300.08 428.42,300.39 428.64,300.04 428.86,300.36 429.08,300.40 429.30,300.26 429.52,300.17 429.74,300.27 429.96,299.86 430.18,300.30 430.40,300.38 430.62,300.12 430.84,300.27 431.06,300.35 431.28,300.07 431.50,299.99 431.72,300.28 431.94,300.15 432.16,300.12 432.38,300.28" fill="none" stroke="#3345a8" stroke-width="1.0" stroke-linejoin="miter"/>
<rect x="392.50" y="261.90" width="40.30" height="39.30" fill="none" stroke="#2a2a2a" stroke-width="0.9"/>
<line x1="392.50" y1="301.20" x2="432.80" y2="301.20" stroke="#222" stroke-width="1.3"/>
<rect x="435.80" y="261.90" width="39.90" height="39.30" fill="#fff"/>
<polygon points="436.30,300.40 436.30,285.30 436.52,284.64 436.74,284.03 436.96,283.46 437.18,282.93 437.40,282.44 437.62,282.00 437.84,281.61 438.06,281.26 438.28,280.95 438.50,280.68 438.72,280.44 438.94,280.24 439.16,280.07 439.38,279.92 439.60,279.79 439.82,279.68 440.04,279.59 440.26,279.51 440.48,279.45 440.70,279.40 440.92,279.36 441.14,279.34 441.36,279.33 441.58,279.34 441.80,279.36 442.02,279.40 442.24,279.46 442.46,279.55 442.68,279.70 442.90,279.99 443.12,280.43 443.34,281.00 443.56,281.70 443.78,282.51 444.00,283.41 444.22,284.40 444.44,285.44 444.66,286.53 444.88,287.30 445.10,286.83 445.32,286.35 445.54,285.88 445.76,285.41 445.98,284.95 446.20,284.50 446.42,284.06 446.64,283.65 446.86,283.26 447.08,282.90 447.30,282.57 447.52,282.27 447.74,282.01 447.96,281.79 448.18,281.60 448.40,281.46 448.62,281.36 448.84,281.31 449.06,281.30 449.28,281.31 449.50,281.34 449.72,281.38 449.94,281.43 450.16,281.49 450.38,281.57 450.60,281.66 450.82,281.77 451.04,281.89 451.26,282.02 451.48,282.16 451.70,282.31 451.92,282.48 452.14,282.65 452.36,282.84 452.58,283.04 452.80,283.25 453.02,283.47 453.24,283.69 453.46,283.93 453.68,284.17 453.90,284.43 454.12,284.69 454.34,284.95 454.56,285.23 454.78,285.50 455.00,285.79 455.22,286.08 455.44,286.37 455.66,286.67 455.88,286.97 456.10,287.27 456.32,287.58 456.54,287.89 456.76,288.20 456.98,288.51 457.20,288.82 457.42,289.13 457.64,289.44 457.86,289.75 458.08,290.06 458.30,290.36 458.52,290.67 458.74,290.97 458.96,291.27 459.18,291.56 459.40,291.86 459.62,292.15 459.84,292.43 460.06,292.71 460.28,292.99 460.50,293.26 460.72,293.52 460.94,293.78 461.16,294.04 461.38,294.29 461.60,294.54 461.82,294.77 462.04,295.01 462.26,295.23 462.48,295.46 462.70,295.67 462.92,295.88 463.14,296.08 463.36,296.28 463.58,296.47 463.80,296.65 464.02,296.83 464.24,297.00 464.46,297.17 464.68,297.33 464.90,297.49 465.12,297.63 465.34,297.78 465.56,297.92 465.78,298.05 466.00,298.17 466.22,298.29 466.44,298.41 466.66,298.52 466.88,298.63 467.10,298.73 467.32,298.83 467.54,298.92 467.76,299.01 467.98,299.09 468.20,299.17 468.42,299.24 468.64,299.32 468.86,299.38 469.08,299.45 469.30,299.51 469.52,299.57 469.74,299.62 469.96,299.67 470.18,299.72 470.40,299.77 470.62,299.81 470.84,299.85 471.06,299.89 471.28,299.92 471.50,299.96 471.72,299.99 471.94,300.02 472.16,300.05 472.38,300.07 472.60,300.10 472.82,300.12 473.04,300.14 473.26,300.16 473.48,300.18 473.70,300.20 473.92,300.21 474.14,300.23 474.36,300.24 474.58,300.25 474.80,300.26 475.02,300.28 475.24,300.29 475.24,300.40" fill="#fffbeb"/>
<polyline points="436.30,297.33 436.52,297.44 436.74,299.47 436.96,297.28 437.18,297.10 437.40,296.30 437.62,295.97 437.84,295.63 438.06,294.24 438.28,294.17 438.50,292.35 438.72,294.87 438.94,292.99 439.16,294.05 439.38,290.91 439.60,294.34 439.82,293.75 440.04,289.97 440.26,294.29 440.48,289.53 440.70,285.57 440.92,284.94 441.14,291.14 441.36,290.36 441.58,287.45 441.80,287.92 442.02,293.91 442.24,288.02 442.46,283.57 442.68,289.12 442.90,285.34 443.12,287.11 443.34,285.78 443.56,284.90 443.78,280.18 444.00,289.96 444.22,282.68 444.44,284.96 444.66,282.81 444.88,285.14 445.10,276.97 445.32,282.59 445.54,287.04 445.76,285.08 445.98,286.21 446.20,288.60 446.42,282.53 446.64,274.10 446.86,278.40 447.08,273.76 447.30,283.68 447.52,269.25 447.74,275.75 447.96,269.75 448.18,274.74 448.40,280.60 448.62,273.39 448.84,277.44 449.06,269.31 449.28,276.05 449.50,273.44 449.72,272.62 449.94,267.56 450.16,272.44 450.38,280.63 450.60,280.40 450.82,280.59 451.04,269.82 451.26,272.25 451.48,279.10 451.70,270.92 451.92,285.16 452.14,272.58 452.36,275.91 452.58,277.18 452.80,269.05 453.02,276.60 453.24,263.81 453.46,280.41 453.68,274.23 453.90,271.30 454.12,274.22 454.34,278.45 454.56,280.11 454.78,287.36 455.00,276.78 455.22,278.89 455.44,273.86 455.66,274.06 455.88,288.31 456.10,276.74 456.32,285.08 456.54,282.31 456.76,282.27 456.98,281.54 457.20,282.73 457.42,277.63 457.64,288.86 457.86,285.58 458.08,286.37 458.30,283.52 458.52,289.93 458.74,281.20 458.96,293.01 459.18,286.93 459.40,289.15 459.62,288.54 459.84,285.62 460.06,288.59 460.28,289.97 460.50,284.40 460.72,289.47 460.94,290.51 461.16,296.47 461.38,289.21 461.60,294.57 461.82,288.98 462.04,293.74 462.26,290.70 462.48,295.05 462.70,296.69 462.92,292.12 463.14,293.27 463.36,295.38 463.58,291.25 463.80,295.37 464.02,292.15 464.24,296.72 464.46,296.48 464.68,296.48 464.90,297.14 465.12,295.63 465.34,299.61 465.56,296.26 465.78,299.10 466.00,298.36 466.22,297.30 466.44,298.79 466.66,297.72 466.88,296.68 467.10,297.12 467.32,297.77 467.54,296.55 467.76,298.18 467.98,297.75 468.20,298.78 468.42,297.81 468.64,298.57 468.86,299.28 469.08,300.09 469.30,300.29 469.52,299.58 469.74,298.69 469.96,299.53 470.18,299.68 470.40,298.58 470.62,298.97 470.84,298.78 471.06,299.76 471.28,299.34 471.50,299.17 471.72,300.24 471.94,299.72 472.16,299.94 472.38,299.94 472.60,299.60 472.82,300.40 473.04,300.30 473.26,300.40 473.48,299.94 473.70,300.02 473.92,299.86 474.14,300.01 474.36,300.13 474.58,299.75 474.80,300.14 475.02,300.00 475.24,300.02" fill="none" stroke="#e8352a" stroke-width="1.0" stroke-linejoin="miter"/>
<polyline points="436.30,277.84 436.52,271.81 436.74,273.80 436.96,270.00 437.18,279.40 437.40,271.53 437.62,271.21 437.84,278.54 438.06,269.19 438.28,271.88 438.50,262.30 438.72,276.72 438.94,271.67 439.16,262.30 439.38,268.75 439.60,267.03 439.82,262.30 440.04,262.30 440.26,269.10 440.48,282.81 440.70,279.24 440.92,266.71 441.14,274.76 441.36,264.23 441.58,262.30 441.80,275.25 442.02,266.85 442.24,262.30 442.46,278.24 442.68,265.97 442.90,270.88 443.12,274.85 443.34,274.71 443.56,272.33 443.78,271.17 444.00,279.19 444.22,272.74 444.44,277.64 444.66,279.57 444.88,280.79 445.10,288.73 445.32,285.08 445.54,286.66 445.76,287.53 445.98,287.32 446.20,293.54 446.42,292.48 446.64,291.83 446.86,296.68 447.08,293.99 447.30,295.37 447.52,298.50 447.74,296.64 447.96,297.67 448.18,297.68 448.40,298.94 448.62,298.24 448.84,298.18 449.06,299.58 449.28,299.21 449.50,300.20 449.72,300.16 449.94,300.40 450.16,299.75 450.38,300.17 450.60,299.90 450.82,300.40 451.04,300.17 451.26,300.30 451.48,300.25 451.70,300.28 451.92,300.33 452.14,300.02 452.36,300.23 452.58,300.06 452.80,300.40 453.02,300.38 453.24,300.10 453.46,300.14 453.68,300.07 453.90,300.04 454.12,299.87 454.34,300.21 454.56,300.03 454.78,300.05 455.00,300.05 455.22,299.91 455.44,299.99 455.66,300.16 455.88,300.13 456.10,300.37 456.32,300.13 456.54,300.24 456.76,300.40 456.98,300.26 457.20,300.28 457.42,300.38 457.64,300.12 457.86,300.19 458.08,300.30 458.30,300.39 458.52,300.33 458.74,300.40 458.96,300.21 459.18,300.37 459.40,300.33 459.62,300.39 459.84,300.38 460.06,300.24 460.28,299.93 460.50,300.26 460.72,300.26 460.94,300.16 461.16,299.92 461.38,300.11 461.60,300.15 461.82,300.34 462.04,300.32 462.26,300.12 462.48,300.17 462.70,300.39 462.92,300.14 463.14,300.10 463.36,300.35 463.58,300.01 463.80,300.18 464.02,300.39 464.24,300.32 464.46,300.23 464.68,299.97 464.90,300.21 465.12,300.22 465.34,300.33 465.56,300.21 465.78,300.15 466.00,300.08 466.22,300.32 466.44,300.35 466.66,300.37 466.88,300.15 467.10,300.38 467.32,300.00 467.54,300.34 467.76,300.21 467.98,300.37 468.20,300.17 468.42,300.31 468.64,300.09 468.86,299.97 469.08,300.24 469.30,300.35 469.52,300.17 469.74,300.15 469.96,300.31 470.18,300.36 470.40,300.26 470.62,300.29 470.84,300.01 471.06,300.15 471.28,300.39 471.50,300.34 471.72,300.08 471.94,300.31 472.16,300.34 472.38,300.01 472.60,299.98 472.82,299.92 473.04,299.84 473.26,300.40 473.48,300.32 473.70,300.18 473.92,300.29 474.14,300.29 474.36,300.38 474.58,300.03 474.80,300.04 475.02,300.06 475.24,300.26" fill="none" stroke="#3345a8" stroke-width="1.0" stroke-linejoin="miter"/>
<rect x="435.80" y="261.90" width="39.90" height="39.30" fill="none" stroke="#2a2a2a" stroke-width="0.9"/>
<line x1="435.80" y1="301.20" x2="475.70" y2="301.20" stroke="#222" stroke-width="1.3"/>
<rect x="478.80" y="261.90" width="39.50" height="39.30" fill="#fff"/>
<polygon points="479.30,300.40 479.30,290.25 479.52,289.23 479.74,288.22 479.96,287.21 480.18,286.23 480.40,285.29 480.62,284.41 480.84,283.60 481.06,282.88 481.28,282.25 481.50,281.73 481.72,281.33 481.94,281.04 482.16,280.86 482.38,280.78 482.60,280.80 482.82,280.91 483.04,281.08 483.26,281.30 483.48,281.56 483.70,281.83 483.92,282.10 484.14,282.35 484.36,282.55 484.58,282.71 484.80,282.80 485.02,282.83 485.24,282.79 485.46,282.68 485.68,282.52 485.90,282.30 486.12,282.05 486.34,281.78 486.56,281.51 486.78,281.26 487.00,281.04 487.22,280.88 487.44,280.79 487.66,280.79 487.88,280.88 488.10,281.09 488.32,281.46 488.54,282.01 488.76,282.72 488.98,283.59 489.20,284.57 489.42,285.67 489.64,286.83 489.86,288.04 490.08,289.27 490.30,290.49 490.52,291.67 490.74,292.80 490.96,293.86 491.18,294.83 491.40,295.72 491.62,296.50 491.84,297.20 492.06,297.80 492.28,297.71 492.50,297.52 492.72,297.31 492.94,297.09 493.16,296.85 493.38,296.60 493.60,296.35 493.82,296.09 494.04,295.83 494.26,295.58 494.48,295.33 494.70,295.10 494.92,294.88 495.14,294.68 495.36,294.50 495.58,294.35 495.80,294.21 496.02,294.11 496.24,294.02 496.46,293.96 496.68,293.92 496.90,293.89 497.12,293.87 497.34,293.86 497.56,293.85 497.78,293.83 498.00,293.81 498.22,293.76 498.44,293.69 498.66,293.60 498.88,293.47 499.10,293.31 499.32,293.10 499.54,292.86 499.76,292.57 499.98,292.23 500.20,291.85 500.42,291.43 500.64,290.96 500.86,290.45 501.08,289.91 501.30,289.33 501.52,288.73 501.74,288.10 501.96,287.45 502.18,286.78 502.40,286.11 502.62,285.43 502.84,284.75 503.06,284.08 503.28,283.42 503.50,282.78 503.72,282.16 503.94,281.57 504.16,281.02 504.38,280.51 504.60,280.03 504.82,279.61 505.04,279.24 505.26,278.92 505.48,278.66 505.70,278.46 505.92,278.32 506.14,278.24 506.36,278.22 506.58,278.29 506.80,278.43 507.02,278.64 507.24,278.93 507.46,279.29 507.68,279.72 507.90,280.21 508.12,280.76 508.34,281.37 508.56,282.02 508.78,282.71 509.00,283.43 509.22,284.19 509.44,284.96 509.66,285.75 509.88,286.55 510.10,287.35 510.32,288.15 510.54,288.94 510.76,289.72 510.98,290.48 511.20,291.22 511.42,291.93 511.64,292.62 511.86,293.27 512.08,293.90 512.30,294.49 512.52,295.04 512.74,295.56 512.96,296.05 513.18,296.50 513.40,296.92 513.62,297.30 513.84,297.65 514.06,297.97 514.28,298.26 514.50,298.52 514.72,298.76 514.94,298.97 515.16,299.16 515.38,299.33 515.60,299.47 515.82,299.60 516.04,299.72 516.26,299.82 516.48,299.91 516.70,299.98 516.92,300.05 517.14,300.10 517.36,300.15 517.58,300.19 517.80,300.23 517.80,300.40" fill="#fffbeb"/>
<polyline points="479.30,299.60 479.52,299.74 479.74,299.20 479.96,298.64 480.18,299.84 480.40,299.49 480.62,300.40 480.84,299.84 481.06,298.71 481.28,300.16 481.50,298.42 481.72,300.14 481.94,297.77 482.16,299.70 482.38,300.06 482.60,299.04 482.82,299.22 483.04,300.20 483.26,300.14 483.48,299.36 483.70,298.08 483.92,298.31 484.14,296.58 484.36,298.18 484.58,298.84 484.80,298.39 485.02,297.90 485.24,297.98 485.46,297.14 485.68,297.03 485.90,298.23 486.12,296.71 486.34,298.73 486.56,299.63 486.78,296.76 487.00,297.75 487.22,297.88 487.44,297.24 487.66,297.84 487.88,297.50 488.10,297.79 488.32,297.10 488.54,296.88 488.76,298.40 488.98,297.87 489.20,300.25 489.42,296.15 489.64,298.81 489.86,298.14 490.08,294.84 490.30,297.85 490.52,299.04 490.74,295.84 490.96,298.53 491.18,298.26 491.40,296.78 491.62,295.37 491.84,296.13 492.06,295.84 492.28,294.96 492.50,297.14 492.72,293.46 492.94,296.78 493.16,294.54 493.38,297.42 493.60,295.01 493.82,291.01 494.04,294.77 494.26,294.94 494.48,291.57 494.70,291.86 494.92,294.19 495.14,291.90 495.36,286.51 495.58,293.87 495.80,289.41 496.02,289.97 496.24,291.12 496.46,289.79 496.68,290.06 496.90,289.97 497.12,286.89 497.34,293.35 497.56,291.20 497.78,291.31 498.00,284.16 498.22,295.02 498.44,289.70 498.66,285.72 498.88,290.66 499.10,287.75 499.32,291.70 499.54,293.56 499.76,289.36 499.98,293.04 500.20,288.35 500.42,289.28 500.64,287.13 500.86,296.55 501.08,286.15 501.30,272.89 501.52,283.54 501.74,282.84 501.96,283.75 502.18,279.33 502.40,266.52 502.62,279.61 502.84,273.72 503.06,283.39 503.28,276.75 503.50,277.64 503.72,274.88 503.94,278.77 504.16,273.41 504.38,278.14 504.60,269.45 504.82,271.73 505.04,273.19 505.26,276.39 505.48,270.19 505.70,270.54 505.92,267.81 506.14,268.12 506.36,267.61 506.58,267.87 506.80,270.86 507.02,262.30 507.24,263.34 507.46,262.98 507.68,271.45 507.90,276.40 508.12,265.91 508.34,268.29 508.56,279.00 508.78,275.37 509.00,265.74 509.22,272.68 509.44,278.66 509.66,275.19 509.88,278.44 510.10,282.22 510.32,280.05 510.54,284.30 510.76,284.81 510.98,280.28 511.20,290.54 511.42,286.00 511.64,288.03 511.86,284.65 512.08,289.00 512.30,290.16 512.52,292.41 512.74,291.58 512.96,290.36 513.18,297.24 513.40,294.84 513.62,296.53 513.84,292.63 514.06,297.44 514.28,296.48 514.50,298.87 514.72,297.18 514.94,296.55 515.16,300.38 515.38,298.97 515.60,299.04 515.82,299.83 516.04,298.56 516.26,298.20 516.48,300.13 516.70,299.08 516.92,299.94 517.14,299.02 517.36,300.40 517.58,300.24 517.80,299.67" fill="none" stroke="#e8352a" stroke-width="1.0" stroke-linejoin="miter"/>
<polyline points="479.30,287.68 479.52,287.38 479.74,284.42 479.96,280.12 480.18,277.70 480.40,269.29 480.62,275.52 480.84,272.65 481.06,278.26 481.28,284.01 481.50,283.34 481.72,277.55 481.94,262.60 482.16,265.42 482.38,269.71 482.60,262.30 482.82,270.30 483.04,277.98 483.26,276.93 483.48,274.27 483.70,266.22 483.92,274.12 484.14,275.13 484.36,268.00 484.58,270.09 484.80,279.37 485.02,283.49 485.24,274.71 485.46,280.17 485.68,269.18 485.90,262.99 486.12,272.45 486.34,276.52 486.56,272.73 486.78,263.45 487.00,269.35 487.22,270.83 487.44,268.60 487.66,276.51 487.88,274.26 488.10,272.60 488.32,280.15 488.54,269.72 488.76,272.32 488.98,277.09 489.20,276.97 489.42,290.12 489.64,274.88 489.86,277.93 490.08,284.99 490.30,299.48 490.52,289.12 490.74,288.31 490.96,292.16 491.18,294.23 491.40,296.70 491.62,297.30 491.84,293.14 492.06,294.72 492.28,297.30 492.50,295.81 492.72,300.40 492.94,298.13 493.16,298.63 493.38,299.76 493.60,299.70 493.82,300.02 494.04,299.87 494.26,299.42 494.48,299.90 494.70,299.90 494.92,299.90 495.14,300.40 495.36,299.96 495.58,300.19 495.80,300.40 496.02,300.24 496.24,300.37 496.46,300.30 496.68,300.28 496.90,300.18 497.12,300.20 497.34,300.17 497.56,299.91 497.78,300.01 498.00,300.37 498.22,300.19 498.44,300.31 498.66,300.28 498.88,300.23 499.10,300.33 499.32,300.08 499.54,299.94 499.76,300.20 499.98,300.36 500.20,300.23 500.42,300.29 500.64,300.30 500.86,300.07 501.08,300.26 501.30,300.20 501.52,300.02 501.74,300.31 501.96,299.81 502.18,300.26 502.40,300.30 502.62,300.39 502.84,300.39 503.06,300.12 503.28,300.26 503.50,300.17 503.72,300.17 503.94,300.35 504.16,300.30 504.38,300.03 504.60,300.30 504.82,300.14 505.04,300.37 505.26,300.40 505.48,300.15 505.70,300.29 505.92,300.40 506.14,300.37 506.36,300.35 506.58,300.38 506.80,300.32 507.02,300.14 507.24,299.75 507.46,300.37 507.68,300.34 507.90,300.10 508.12,300.29 508.34,300.11 508.56,299.97 508.78,300.37 509.00,300.19 509.22,300.20 509.44,300.25 509.66,300.34 509.88,300.04 510.10,300.26 510.32,300.13 510.54,300.06 510.76,300.39 510.98,300.12 511.20,300.08 511.42,300.35 511.64,300.30 511.86,299.82 512.08,300.00 512.30,300.22 512.52,300.37 512.74,299.98 512.96,299.95 513.18,300.28 513.40,300.29 513.62,300.39 513.84,300.20 514.06,300.06 514.28,300.12 514.50,300.31 514.72,300.26 514.94,300.38 515.16,300.33 515.38,300.33 515.60,300.14 515.82,300.29 516.04,300.38 516.26,300.13 516.48,300.36 516.70,300.27 516.92,300.39 517.14,300.04 517.36,299.92 517.58,299.78 517.80,300.36" fill="none" stroke="#3345a8" stroke-width="1.0" stroke-linejoin="miter"/>
<rect x="478.80" y="261.90" width="39.50" height="39.30" fill="none" stroke="#2a2a2a" stroke-width="0.9"/>
<line x1="478.80" y1="301.20" x2="518.30" y2="301.20" stroke="#222" stroke-width="1.3"/>
<text x="389.90" y="115.10" font-size="5.25" text-anchor="end" fill="#111" font-weight="normal" stroke="#111" stroke-width="0.16" >None</text>
<text x="389.90" y="156.10" font-size="5.25" text-anchor="end" fill="#111" font-weight="normal" stroke="#111" stroke-width="0.16" >Pam3CSK4</text>
<text x="389.90" y="199.50" font-size="5.25" text-anchor="end" fill="#111" font-weight="normal" stroke="#111" stroke-width="0.16" >LPS</text>
<text x="389.90" y="241.40" font-size="5.25" text-anchor="end" fill="#111" font-weight="normal" stroke="#111" stroke-width="0.16" >R848</text>
<text x="389.90" y="283.60" font-size="5.25" text-anchor="end" fill="#111" font-weight="normal" stroke="#111" stroke-width="0.16" >CpG</text>
<text x="412.65" y="88.00" font-size="6.9" text-anchor="middle" fill="#111" font-weight="normal" stroke="#111" stroke-width="0.16" >Neutrophils</text>
<text x="455.75" y="88.00" font-size="6.9" text-anchor="middle" fill="#111" font-weight="normal" stroke="#111" stroke-width="0.16" >Hybrids</text>
<text x="498.55" y="88.00" font-size="6.9" text-anchor="middle" fill="#111" font-weight="normal" stroke="#111" stroke-width="0.16" >DCs</text>
<line x1="392.10" y1="310.50" x2="404.00" y2="310.50" stroke="#111" stroke-width="0.8"/>
<polygon points="406.2,310.5 403.2,309.2 403.2,311.8" fill="#111"/>
<text x="407.30" y="313.00" font-size="6.8" text-anchor="start" fill="#111" font-weight="normal" stroke="#111" stroke-width="0.16" >CD40</text>
<rect x="25.30" y="231.40" width="69.60" height="70.40" fill="#fff" stroke="#333" stroke-width="0.9"/>
<line x1="25.30" y1="231.40" x2="25.30" y2="301.80" stroke="#555" stroke-width="1.4"/>
<line x1="23.70" y1="301.50" x2="25.30" y2="301.50" stroke="#222" stroke-width="0.6"/>
<text x="21.30" y="303.00" font-size="4.2" text-anchor="end" fill="#333" font-weight="normal" stroke="#333" stroke-width="0.08" >0</text>
<line x1="23.70" y1="278.10" x2="25.30" y2="278.10" stroke="#222" stroke-width="0.6"/>
<text x="21.30" y="279.60" font-size="4.2" text-anchor="end" fill="#333" font-weight="normal" stroke="#333" stroke-width="0.08" >1</text>
<line x1="23.70" y1="254.70" x2="25.30" y2="254.70" stroke="#222" stroke-width="0.6"/>
<text x="21.30" y="256.20" font-size="4.2" text-anchor="end" fill="#333" font-weight="normal" stroke="#333" stroke-width="0.08" >2</text>
<line x1="23.70" y1="231.30" x2="25.30" y2="231.30" stroke="#222" stroke-width="0.6"/>
<text x="21.30" y="232.80" font-size="4.2" text-anchor="end" fill="#333" font-weight="normal" stroke="#333" stroke-width="0.08" >3</text>
<line x1="25.00" y1="301.80" x2="25.00" y2="303.30" stroke="#222" stroke-width="0.6"/>
<text x="25.00" y="309.60" font-size="4.5" text-anchor="middle" fill="#444" font-weight="normal" >0</text>
<line x1="47.00" y1="301.80" x2="47.00" y2="303.30" stroke="#222" stroke-width="0.6"/>
<text x="47.00" y="309.60" font-size="4.5" text-anchor="middle" fill="#444" font-weight="normal" >1</text>
<line x1="69.00" y1="301.80" x2="69.00" y2="303.30" stroke="#222" stroke-width="0.6"/>
<text x="69.00" y="309.60" font-size="4.5" text-anchor="middle" fill="#444" font-weight="normal" >2</text>
<line x1="91.00" y1="301.80" x2="91.00" y2="303.30" stroke="#222" stroke-width="0.6"/>
<text x="91.00" y="309.60" font-size="4.5" text-anchor="middle" fill="#444" font-weight="normal" >3</text>
<text x="60.10" y="226.10" font-size="6.8" text-anchor="middle" fill="#111" font-weight="normal" stroke="#111" stroke-width="0.16" >OVA Peptide</text>
<polyline points="25.00,301.50 31.60,301.03 47.00,300.10 91.00,297.29" fill="none" stroke="#2a9e58" stroke-width="1.3"/>
<polyline points="25.00,301.50 31.60,295.65 47.00,283.48 91.00,249.32" fill="none" stroke="#d9544a" stroke-width="0.8"/>
<line x1="91.00" y1="238.79" x2="91.00" y2="259.85" stroke="#d9544a" stroke-width="0.8"/>
<line x1="89.20" y1="238.79" x2="92.80" y2="238.79" stroke="#d9544a" stroke-width="0.8"/>
<line x1="89.20" y1="259.85" x2="92.80" y2="259.85" stroke="#d9544a" stroke-width="0.8"/>
<polyline points="25.00,301.50 31.60,274.36 47.00,245.81 91.00,243.70" fill="none" stroke="#3c4a8c" stroke-width="0.8"/>
<line x1="91.00" y1="239.02" x2="91.00" y2="248.38" stroke="#3c4a8c" stroke-width="0.8"/>
<line x1="89.20" y1="239.02" x2="92.80" y2="239.02" stroke="#3c4a8c" stroke-width="0.8"/>
<line x1="89.20" y1="248.38" x2="92.80" y2="248.38" stroke="#3c4a8c" stroke-width="0.8"/>
<circle cx="31.60" cy="301.03" r="2.55" fill="#1f8e50" stroke="#151530" stroke-width="0.7"/>
<circle cx="47.00" cy="300.10" r="2.55" fill="#1f8e50" stroke="#151530" stroke-width="0.7"/>
<circle cx="91.00" cy="297.29" r="2.55" fill="#1f8e50" stroke="#151530" stroke-width="0.7"/>
<circle cx="31.60" cy="295.65" r="2.55" fill="#cc3a3e" stroke="#151530" stroke-width="0.7"/>
<circle cx="47.00" cy="283.48" r="2.55" fill="#cc3a3e" stroke="#151530" stroke-width="0.7"/>
<circle cx="91.00" cy="249.32" r="2.55" fill="#cc3a3e" stroke="#151530" stroke-width="0.7"/>
<circle cx="25.00" cy="301.50" r="2.55" fill="#46579a" stroke="#151530" stroke-width="0.7"/>
<circle cx="31.60" cy="274.36" r="2.55" fill="#46579a" stroke="#151530" stroke-width="0.7"/>
<circle cx="47.00" cy="245.81" r="2.55" fill="#46579a" stroke="#151530" stroke-width="0.7"/>
<circle cx="91.00" cy="243.70" r="2.55" fill="#46579a" stroke="#151530" stroke-width="0.7"/>
<rect x="112.50" y="231.40" width="70.10" height="70.40" fill="#fff" stroke="#333" stroke-width="0.9"/>
<line x1="110.90" y1="301.50" x2="112.50" y2="301.50" stroke="#222" stroke-width="0.6"/>
<text x="108.50" y="303.00" font-size="4.2" text-anchor="end" fill="#333" font-weight="normal" stroke="#333" stroke-width="0.08" >0</text>
<line x1="110.90" y1="278.10" x2="112.50" y2="278.10" stroke="#222" stroke-width="0.6"/>
<text x="108.50" y="279.60" font-size="4.2" text-anchor="end" fill="#333" font-weight="normal" stroke="#333" stroke-width="0.08" >1</text>
<line x1="110.90" y1="254.70" x2="112.50" y2="254.70" stroke="#222" stroke-width="0.6"/>
<text x="108.50" y="256.20" font-size="4.2" text-anchor="end" fill="#333" font-weight="normal" stroke="#333" stroke-width="0.08" >2</text>
<line x1="110.90" y1="231.30" x2="112.50" y2="231.30" stroke="#222" stroke-width="0.6"/>
<text x="108.50" y="232.80" font-size="4.2" text-anchor="end" fill="#333" font-weight="normal" stroke="#333" stroke-width="0.08" >3</text>
<line x1="112.50" y1="301.80" x2="112.50" y2="303.30" stroke="#222" stroke-width="0.6"/>
<text x="112.50" y="309.60" font-size="4.5" text-anchor="middle" fill="#444" font-weight="normal" >0</text>
<line x1="133.05" y1="301.80" x2="133.05" y2="303.30" stroke="#222" stroke-width="0.6"/>
<text x="133.05" y="309.60" font-size="4.5" text-anchor="middle" fill="#444" font-weight="normal" >0.5</text>
<line x1="153.60" y1="301.80" x2="153.60" y2="303.30" stroke="#222" stroke-width="0.6"/>
<text x="153.60" y="309.60" font-size="4.5" text-anchor="middle" fill="#444" font-weight="normal" >1.0</text>
<line x1="174.15" y1="301.80" x2="174.15" y2="303.30" stroke="#222" stroke-width="0.6"/>
<text x="174.15" y="309.60" font-size="4.5" text-anchor="middle" fill="#444" font-weight="normal" >1.5</text>
<text x="147.55" y="226.10" font-size="6.8" text-anchor="middle" fill="#111" font-weight="normal" stroke="#111" stroke-width="0.16" >OVA Protein</text>
<polyline points="112.50,301.50 118.67,301.50 133.05,301.50 174.15,301.50" fill="none" stroke="#2a9e58" stroke-width="1.3"/>
<polyline points="112.50,301.50 118.67,300.33 133.05,291.91 174.15,266.17" fill="none" stroke="#d9544a" stroke-width="0.8"/>
<line x1="174.15" y1="261.02" x2="174.15" y2="271.31" stroke="#d9544a" stroke-width="0.8"/>
<line x1="172.35" y1="261.02" x2="175.95" y2="261.02" stroke="#d9544a" stroke-width="0.8"/>
<line x1="172.35" y1="271.31" x2="175.95" y2="271.31" stroke="#d9544a" stroke-width="0.8"/>
<polyline points="112.50,301.50 118.67,297.29 133.05,280.67 174.15,243.47" fill="none" stroke="#3c4a8c" stroke-width="0.8"/>
<circle cx="118.67" cy="301.50" r="2.55" fill="#1f8e50" stroke="#151530" stroke-width="0.7"/>
<circle cx="133.05" cy="301.50" r="2.55" fill="#1f8e50" stroke="#151530" stroke-width="0.7"/>
<circle cx="174.15" cy="301.50" r="2.55" fill="#1f8e50" stroke="#151530" stroke-width="0.7"/>
<circle cx="118.67" cy="300.33" r="2.55" fill="#cc3a3e" stroke="#151530" stroke-width="0.7"/>
<circle cx="133.05" cy="291.91" r="2.55" fill="#cc3a3e" stroke="#151530" stroke-width="0.7"/>
<circle cx="174.15" cy="266.17" r="2.55" fill="#cc3a3e" stroke="#151530" stroke-width="0.7"/>
<circle cx="112.50" cy="301.50" r="2.55" fill="#46579a" stroke="#151530" stroke-width="0.7"/>
<circle cx="118.67" cy="297.29" r="2.55" fill="#46579a" stroke="#151530" stroke-width="0.7"/>
<circle cx="133.05" cy="280.67" r="2.55" fill="#46579a" stroke="#151530" stroke-width="0.7"/>
<circle cx="174.15" cy="243.47" r="2.55" fill="#46579a" stroke="#151530" stroke-width="0.7"/>
<rect x="200.00" y="231.40" width="70.30" height="70.40" fill="#fff" stroke="#333" stroke-width="0.9"/>
<line x1="198.40" y1="301.50" x2="200.00" y2="301.50" stroke="#222" stroke-width="0.6"/>
<text x="196.00" y="303.00" font-size="4.2" text-anchor="end" fill="#333" font-weight="normal" stroke="#333" stroke-width="0.08" >0</text>
<line x1="198.40" y1="287.50" x2="200.00" y2="287.50" stroke="#222" stroke-width="0.6"/>
<text x="196.00" y="289.00" font-size="4.2" text-anchor="end" fill="#333" font-weight="normal" stroke="#333" stroke-width="0.08" >1</text>
<line x1="198.40" y1="273.50" x2="200.00" y2="273.50" stroke="#222" stroke-width="0.6"/>
<text x="196.00" y="275.00" font-size="4.2" text-anchor="end" fill="#333" font-weight="normal" stroke="#333" stroke-width="0.08" >2</text>
<line x1="198.40" y1="259.50" x2="200.00" y2="259.50" stroke="#222" stroke-width="0.6"/>
<text x="196.00" y="261.00" font-size="4.2" text-anchor="end" fill="#333" font-weight="normal" stroke="#333" stroke-width="0.08" >3</text>
<line x1="198.40" y1="245.50" x2="200.00" y2="245.50" stroke="#222" stroke-width="0.6"/>
<text x="196.00" y="247.00" font-size="4.2" text-anchor="end" fill="#333" font-weight="normal" stroke="#333" stroke-width="0.08" >4</text>
<line x1="198.40" y1="231.50" x2="200.00" y2="231.50" stroke="#222" stroke-width="0.6"/>
<text x="196.00" y="233.00" font-size="4.2" text-anchor="end" fill="#333" font-weight="normal" stroke="#333" stroke-width="0.08" >5</text>
<line x1="199.50" y1="301.80" x2="199.50" y2="303.30" stroke="#222" stroke-width="0.6"/>
<text x="199.50" y="309.60" font-size="4.5" text-anchor="middle" fill="#444" font-weight="normal" >0</text>
<line x1="231.90" y1="301.80" x2="231.90" y2="303.30" stroke="#222" stroke-width="0.6"/>
<text x="231.90" y="309.60" font-size="4.5" text-anchor="middle" fill="#444" font-weight="normal" >1</text>
<line x1="264.30" y1="301.80" x2="264.30" y2="303.30" stroke="#222" stroke-width="0.6"/>
<text x="264.30" y="309.60" font-size="4.5" text-anchor="middle" fill="#444" font-weight="normal" >2</text>
<text x="235.15" y="226.10" font-size="6.8" text-anchor="middle" fill="#111" font-weight="normal" stroke="#111" stroke-width="0.16" >OVA-Beads</text>
<polyline points="199.50,301.50 205.98,301.50 218.94,301.22 264.30,300.66" fill="none" stroke="#2a9e58" stroke-width="1.3"/>
<polyline points="199.50,301.50 205.98,299.54 218.94,291.42 264.30,273.22" fill="none" stroke="#d9544a" stroke-width="0.8"/>
<line x1="264.30" y1="271.54" x2="264.30" y2="274.90" stroke="#d9544a" stroke-width="0.8"/>
<line x1="262.50" y1="271.54" x2="266.10" y2="271.54" stroke="#d9544a" stroke-width="0.8"/>
<line x1="262.50" y1="274.90" x2="266.10" y2="274.90" stroke="#d9544a" stroke-width="0.8"/>
<polyline points="199.50,301.50 205.98,294.64 218.94,279.66 264.30,243.26" fill="none" stroke="#3c4a8c" stroke-width="0.8"/>
<line x1="218.94" y1="273.22" x2="218.94" y2="286.10" stroke="#3c4a8c" stroke-width="0.8"/>
<line x1="217.14" y1="273.22" x2="220.74" y2="273.22" stroke="#3c4a8c" stroke-width="0.8"/>
<line x1="217.14" y1="286.10" x2="220.74" y2="286.10" stroke="#3c4a8c" stroke-width="0.8"/>
<circle cx="205.98" cy="301.50" r="2.55" fill="#1f8e50" stroke="#151530" stroke-width="0.7"/>
<circle cx="218.94" cy="301.22" r="2.55" fill="#1f8e50" stroke="#151530" stroke-width="0.7"/>
<circle cx="264.30" cy="300.66" r="2.55" fill="#1f8e50" stroke="#151530" stroke-width="0.7"/>
<circle cx="205.98" cy="299.54" r="2.55" fill="#cc3a3e" stroke="#151530" stroke-width="0.7"/>
<circle cx="218.94" cy="291.42" r="2.55" fill="#cc3a3e" stroke="#151530" stroke-width="0.7"/>
<circle cx="264.30" cy="273.22" r="2.55" fill="#cc3a3e" stroke="#151530" stroke-width="0.7"/>
<circle cx="199.50" cy="301.50" r="2.55" fill="#46579a" stroke="#151530" stroke-width="0.7"/>
<circle cx="205.98" cy="294.64" r="2.55" fill="#46579a" stroke="#151530" stroke-width="0.7"/>
<circle cx="218.94" cy="279.66" r="2.55" fill="#46579a" stroke="#151530" stroke-width="0.7"/>
<circle cx="264.30" cy="243.26" r="2.55" fill="#46579a" stroke="#151530" stroke-width="0.7"/>
<rect x="287.50" y="231.40" width="70.10" height="70.40" fill="#fff" stroke="#333" stroke-width="0.9"/>
<line x1="285.90" y1="301.50" x2="287.50" y2="301.50" stroke="#222" stroke-width="0.6"/>
<text x="283.50" y="303.00" font-size="4.2" text-anchor="end" fill="#333" font-weight="normal" stroke="#333" stroke-width="0.08" >0</text>
<line x1="285.90" y1="287.40" x2="287.50" y2="287.40" stroke="#222" stroke-width="0.6"/>
<text x="283.50" y="288.90" font-size="4.2" text-anchor="end" fill="#333" font-weight="normal" stroke="#333" stroke-width="0.08" >0.2</text>
<line x1="285.90" y1="273.30" x2="287.50" y2="273.30" stroke="#222" stroke-width="0.6"/>
<text x="283.50" y="274.80" font-size="4.2" text-anchor="end" fill="#333" font-weight="normal" stroke="#333" stroke-width="0.08" >0.4</text>
<line x1="285.90" y1="259.20" x2="287.50" y2="259.20" stroke="#222" stroke-width="0.6"/>
<text x="283.50" y="260.70" font-size="4.2" text-anchor="end" fill="#333" font-weight="normal" stroke="#333" stroke-width="0.08" >0.6</text>
<line x1="285.90" y1="245.10" x2="287.50" y2="245.10" stroke="#222" stroke-width="0.6"/>
<text x="283.50" y="246.60" font-size="4.2" text-anchor="end" fill="#333" font-weight="normal" stroke="#333" stroke-width="0.08" >0.8</text>
<line x1="285.90" y1="231.00" x2="287.50" y2="231.00" stroke="#222" stroke-width="0.6"/>
<text x="283.50" y="232.50" font-size="4.2" text-anchor="end" fill="#333" font-weight="normal" stroke="#333" stroke-width="0.08" >1.0</text>
<line x1="287.50" y1="301.80" x2="287.50" y2="303.30" stroke="#222" stroke-width="0.6"/>
<text x="287.50" y="309.60" font-size="4.5" text-anchor="middle" fill="#444" font-weight="normal" >0</text>
<line x1="316.85" y1="301.80" x2="316.85" y2="303.30" stroke="#222" stroke-width="0.6"/>
<text x="316.85" y="309.60" font-size="4.5" text-anchor="middle" fill="#444" font-weight="normal" >0.5</text>
<line x1="346.20" y1="301.80" x2="346.20" y2="303.30" stroke="#222" stroke-width="0.6"/>
<text x="346.20" y="309.60" font-size="4.5" text-anchor="middle" fill="#444" font-weight="normal" >1.0</text>
<text x="322.55" y="226.10" font-size="6.8" text-anchor="middle" fill="#111" font-weight="normal" stroke="#111" stroke-width="0.16" >OVA-<tspan font-style="italic">E.coli</tspan></text>
<polyline points="287.50,301.50 293.37,301.50 305.11,300.80 346.20,300.44" fill="none" stroke="#2a9e58" stroke-width="1.3"/>
<polyline points="287.50,301.50 293.37,293.04 305.11,277.53 346.20,264.13" fill="none" stroke="#d9544a" stroke-width="0.8"/>
<line x1="293.37" y1="290.22" x2="293.37" y2="295.86" stroke="#d9544a" stroke-width="0.8"/>
<line x1="291.57" y1="290.22" x2="295.17" y2="290.22" stroke="#d9544a" stroke-width="0.8"/>
<line x1="291.57" y1="295.86" x2="295.17" y2="295.86" stroke="#d9544a" stroke-width="0.8"/>
<line x1="305.11" y1="270.48" x2="305.11" y2="284.58" stroke="#d9544a" stroke-width="0.8"/>
<line x1="303.31" y1="270.48" x2="306.91" y2="270.48" stroke="#d9544a" stroke-width="0.8"/>
<line x1="303.31" y1="284.58" x2="306.91" y2="284.58" stroke="#d9544a" stroke-width="0.8"/>
<line x1="346.20" y1="258.50" x2="346.20" y2="269.77" stroke="#d9544a" stroke-width="0.8"/>
<line x1="344.40" y1="258.50" x2="348.00" y2="258.50" stroke="#d9544a" stroke-width="0.8"/>
<line x1="344.40" y1="269.77" x2="348.00" y2="269.77" stroke="#d9544a" stroke-width="0.8"/>
<polyline points="287.50,301.50 293.37,291.84 305.11,275.42 346.20,240.87" fill="none" stroke="#3c4a8c" stroke-width="0.8"/>
<circle cx="293.37" cy="301.50" r="2.55" fill="#1f8e50" stroke="#151530" stroke-width="0.7"/>
<circle cx="305.11" cy="300.80" r="2.55" fill="#1f8e50" stroke="#151530" stroke-width="0.7"/>
<circle cx="346.20" cy="300.44" r="2.55" fill="#1f8e50" stroke="#151530" stroke-width="0.7"/>
<circle cx="293.37" cy="293.04" r="2.55" fill="#cc3a3e" stroke="#151530" stroke-width="0.7"/>
<circle cx="305.11" cy="277.53" r="2.55" fill="#cc3a3e" stroke="#151530" stroke-width="0.7"/>
<circle cx="346.20" cy="264.13" r="2.55" fill="#cc3a3e" stroke="#151530" stroke-width="0.7"/>
<circle cx="287.50" cy="301.50" r="2.55" fill="#46579a" stroke="#151530" stroke-width="0.7"/>
<circle cx="293.37" cy="291.84" r="2.55" fill="#46579a" stroke="#151530" stroke-width="0.7"/>
<circle cx="305.11" cy="275.42" r="2.55" fill="#46579a" stroke="#151530" stroke-width="0.7"/>
<circle cx="346.20" cy="240.87" r="2.55" fill="#46579a" stroke="#151530" stroke-width="0.7"/>
<circle cx="65.3" cy="281.6" r="1.8" fill="#21a24f" stroke="#151530" stroke-width="0.5"/>
<text x="68.40" y="283.30" font-size="4.8" text-anchor="start" fill="#21a24f" font-weight="normal" stroke="#21a24f" stroke-width="0.08" >Neutrophils</text>
<circle cx="65.3" cy="286.6" r="1.8" fill="#d8413a" stroke="#151530" stroke-width="0.5"/>
<text x="68.40" y="288.30" font-size="4.8" text-anchor="start" fill="#d8413a" font-weight="normal" stroke="#d8413a" stroke-width="0.08" >Hybrids</text>
<circle cx="65.3" cy="291.5" r="1.8" fill="#2e3f86" stroke="#151530" stroke-width="0.5"/>
<text x="68.40" y="293.20" font-size="4.8" text-anchor="start" fill="#2e3f86" font-weight="normal" stroke="#2e3f86" stroke-width="0.08" >DCs</text>
<text x="0" y="0" font-size="4.95" text-anchor="middle" fill="#111" stroke="#111" stroke-width="0.1" transform="translate(11.85,264.2) rotate(-90)">Thymidine Uptake (x10<tspan font-size="3.5" dy="-1.7">4</tspan><tspan dy="1.7"> cpm)</tspan></text>
<text x="192.4" y="319.8" font-size="5.4" text-anchor="middle" fill="#111">Cell Numbers (x10<tspan font-size="3.6" dy="-1.7">4</tspan><tspan dy="1.7"> Cells/Well)</tspan></text>
</svg></body></html>
